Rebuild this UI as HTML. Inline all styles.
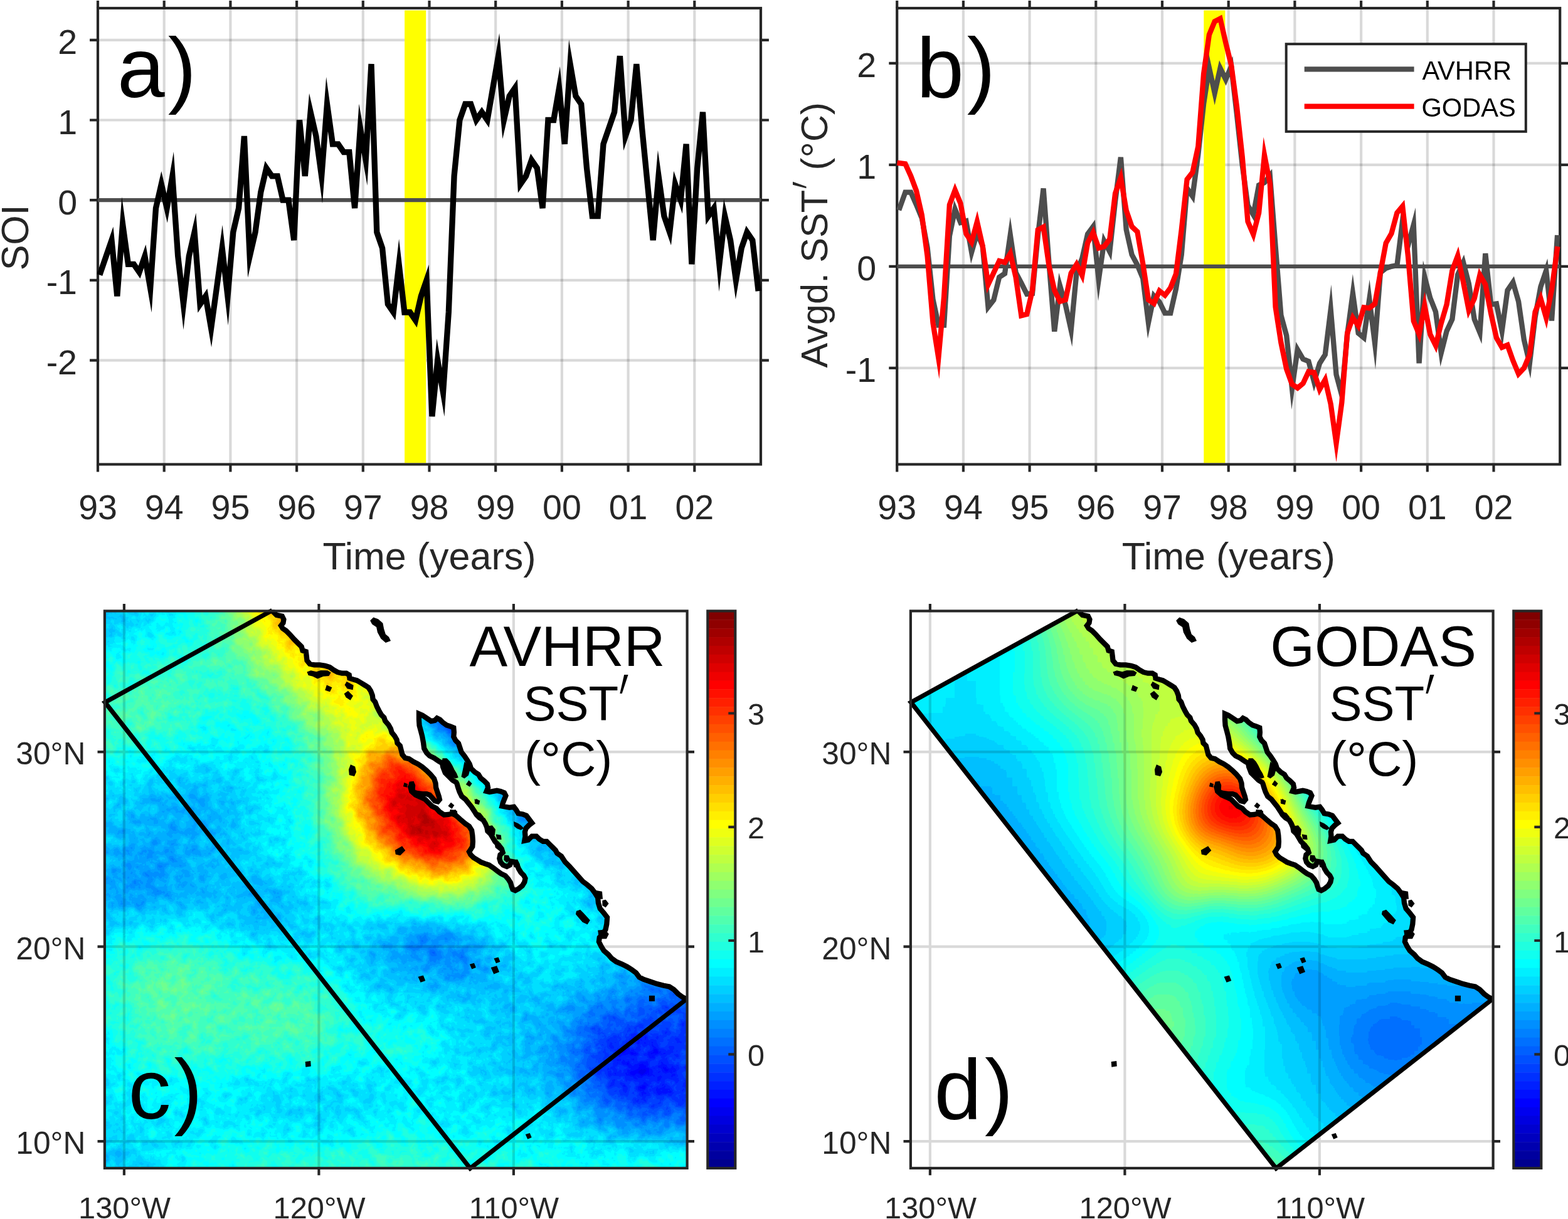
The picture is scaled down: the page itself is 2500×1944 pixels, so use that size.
<!DOCTYPE html>
<html lang="en"><head><meta charset="utf-8"><title>Figure</title>
<style>
html,body{margin:0;padding:0;background:#fff;}
svg{display:block;}
text{font-family:'Liberation Sans', Arial, Helvetica, sans-serif;fill:#262626;}
.t54{font-size:55.5px;}
.t60{font-size:61px;}
.t48{font-size:49.7px;}
.t45{font-size:48.5px;}
.big{font-size:136px;fill:#000;}
.ttl{font-size:91px;fill:#000;}
.ttl2{font-size:78px;fill:#000;}
.leg{font-size:41.67px;fill:#000;}
.prime{font-family:'DejaVu Math TeX Gyre','DejaVu Serif','Liberation Serif',serif;fill:#000;}
.grid{stroke:#000;stroke-opacity:0.15;stroke-width:4.17;}
</style></head><body>
<svg xmlns="http://www.w3.org/2000/svg" width="2500" height="1944" viewBox="0 0 2500 1944">
<rect width="2500" height="1944" fill="#fff"/>
<g id="panel-a">
<line x1="261.7" y1="13.0" x2="261.7" y2="740.5" class="grid"/>
<line x1="367.4" y1="13.0" x2="367.4" y2="740.5" class="grid"/>
<line x1="473.1" y1="13.0" x2="473.1" y2="740.5" class="grid"/>
<line x1="578.8" y1="13.0" x2="578.8" y2="740.5" class="grid"/>
<line x1="684.5" y1="13.0" x2="684.5" y2="740.5" class="grid"/>
<line x1="790.2" y1="13.0" x2="790.2" y2="740.5" class="grid"/>
<line x1="895.9" y1="13.0" x2="895.9" y2="740.5" class="grid"/>
<line x1="1001.6" y1="13.0" x2="1001.6" y2="740.5" class="grid"/>
<line x1="1107.3" y1="13.0" x2="1107.3" y2="740.5" class="grid"/>
<line x1="156.0" y1="63.8" x2="1213.0" y2="63.8" class="grid"/>
<line x1="156.0" y1="191.5" x2="1213.0" y2="191.5" class="grid"/>
<line x1="156.0" y1="446.9" x2="1213.0" y2="446.9" class="grid"/>
<line x1="156.0" y1="574.6" x2="1213.0" y2="574.6" class="grid"/>
<rect x="645.1" y="16.5" width="34.1" height="721.9" fill="#ffff00"/>
<rect x="156.0" y="13.0" width="1057.0" height="727.5" fill="none" stroke="#262626" stroke-width="4.17"/>
<path d="M156.0 13.0v-12.0M156.0 740.5v12.0M261.7 13.0v-12.0M261.7 740.5v12.0M367.4 13.0v-12.0M367.4 740.5v12.0M473.1 13.0v-12.0M473.1 740.5v12.0M578.8 13.0v-12.0M578.8 740.5v12.0M684.5 13.0v-12.0M684.5 740.5v12.0M790.2 13.0v-12.0M790.2 740.5v12.0M895.9 13.0v-12.0M895.9 740.5v12.0M1001.6 13.0v-12.0M1001.6 740.5v12.0M1107.3 13.0v-12.0M1107.3 740.5v12.0M156.0 63.8h-12.9M1213.0 63.8h12.9M156.0 191.5h-12.9M1213.0 191.5h12.9M156.0 319.2h-12.9M1213.0 319.2h12.9M156.0 446.9h-12.9M1213.0 446.9h12.9M156.0 574.6h-12.9M1213.0 574.6h12.9" stroke="#262626" stroke-width="4.17" fill="none"/>
<line x1="156.0" y1="319.2" x2="1213.0" y2="319.2" stroke="#4d4d4d" stroke-width="6.25"/>
<polyline points="160.4,434.1 169.2,408.6 178.0,383.1 186.8,472.4 195.6,357.5 204.4,421.4 213.3,421.4 222.1,434.1 230.9,408.6 239.7,459.7 248.5,332.0 257.3,293.7 266.1,332.0 274.9,280.9 283.7,408.6 292.5,485.2 301.3,408.6 310.1,370.3 319.0,485.2 327.8,472.4 336.6,523.5 345.4,459.7 354.2,395.8 363.0,472.4 371.8,370.3 380.6,332.0 389.4,217.0 398.2,408.6 407.0,370.3 415.8,306.4 424.7,268.1 433.5,280.9 442.3,280.9 451.1,319.2 459.9,319.2 468.7,383.1 477.5,191.5 486.3,280.9 495.1,178.7 503.9,217.0 512.7,280.9 521.5,166.0 530.4,229.8 539.2,229.8 548.0,242.6 556.8,242.6 565.6,332.0 574.4,204.3 583.2,255.3 592.0,102.1 600.8,370.3 609.6,395.8 618.4,485.2 627.2,498.0 636.1,421.4 644.9,498.0 653.7,498.0 662.5,510.8 671.3,472.4 680.1,446.9 688.9,664.0 697.7,574.6 706.5,625.7 715.3,498.0 724.1,280.9 732.9,191.5 741.8,166.0 750.6,166.0 759.4,191.5 768.2,178.7 777.0,191.5 785.8,140.4 794.6,89.3 803.4,191.5 812.2,153.2 821.0,140.4 829.8,293.7 838.6,280.9 847.5,255.3 856.3,268.1 865.1,332.0 873.9,191.5 882.7,191.5 891.5,140.4 900.3,229.8 909.1,102.1 917.9,153.2 926.7,166.0 935.5,268.1 944.3,344.7 953.2,344.7 962.0,229.8 970.8,204.3 979.6,178.7 988.4,89.3 997.2,217.0 1006.0,191.5 1014.8,102.1 1023.6,204.3 1032.4,293.7 1041.2,383.1 1050.0,280.9 1058.9,344.7 1067.7,370.3 1076.5,293.7 1085.3,319.2 1094.1,229.8 1102.9,421.4 1111.7,268.1 1120.5,178.7 1129.3,344.7 1138.1,332.0 1146.9,421.4 1155.7,344.7 1164.6,383.1 1173.4,446.9 1182.2,395.8 1191.0,370.3 1199.8,383.1 1208.6,459.7" fill="none" stroke="#000" stroke-width="9.3" stroke-linejoin="miter" stroke-miterlimit="10" stroke-linecap="square"/>
<text x="156.0" y="828.3" class="t54" text-anchor="middle">93</text>
<text x="261.7" y="828.3" class="t54" text-anchor="middle">94</text>
<text x="367.4" y="828.3" class="t54" text-anchor="middle">95</text>
<text x="473.1" y="828.3" class="t54" text-anchor="middle">96</text>
<text x="578.8" y="828.3" class="t54" text-anchor="middle">97</text>
<text x="684.5" y="828.3" class="t54" text-anchor="middle">98</text>
<text x="790.2" y="828.3" class="t54" text-anchor="middle">99</text>
<text x="895.9" y="828.3" class="t54" text-anchor="middle">00</text>
<text x="1001.6" y="828.3" class="t54" text-anchor="middle">01</text>
<text x="1107.3" y="828.3" class="t54" text-anchor="middle">02</text>
<text x="123.0" y="86.1" class="t54" text-anchor="end">2</text>
<text x="123.0" y="213.8" class="t54" text-anchor="end">1</text>
<text x="123.0" y="341.5" class="t54" text-anchor="end">0</text>
<text x="123.0" y="469.2" class="t54" text-anchor="end">-1</text>
<text x="123.0" y="596.9" class="t54" text-anchor="end">-2</text>
<text x="684.5" y="908.2" class="t60" text-anchor="middle">Time (years)</text>
<text transform="translate(45.0,378.8) rotate(-90)" class="t60" text-anchor="middle">SOI</text>
<text x="187.0" y="154.5" class="big">a<tspan dx="5">)</tspan></text>
</g>
<g id="panel-b">
<line x1="1535.9" y1="13.0" x2="1535.9" y2="740.5" class="grid"/>
<line x1="1641.6" y1="13.0" x2="1641.6" y2="740.5" class="grid"/>
<line x1="1747.3" y1="13.0" x2="1747.3" y2="740.5" class="grid"/>
<line x1="1853.0" y1="13.0" x2="1853.0" y2="740.5" class="grid"/>
<line x1="1958.7" y1="13.0" x2="1958.7" y2="740.5" class="grid"/>
<line x1="2064.4" y1="13.0" x2="2064.4" y2="740.5" class="grid"/>
<line x1="2170.1" y1="13.0" x2="2170.1" y2="740.5" class="grid"/>
<line x1="2275.8" y1="13.0" x2="2275.8" y2="740.5" class="grid"/>
<line x1="2381.5" y1="13.0" x2="2381.5" y2="740.5" class="grid"/>
<line x1="1430.2" y1="100.9" x2="2487.2" y2="100.9" class="grid"/>
<line x1="1430.2" y1="262.9" x2="2487.2" y2="262.9" class="grid"/>
<line x1="1430.2" y1="586.9" x2="2487.2" y2="586.9" class="grid"/>
<rect x="1919.3" y="16.5" width="34.1" height="721.9" fill="#ffff00"/>
<rect x="1430.2" y="13.0" width="1056.9999999999998" height="727.5" fill="none" stroke="#262626" stroke-width="4.17"/>
<path d="M1430.2 13.0v-12.0M1430.2 740.5v12.0M1535.9 13.0v-12.0M1535.9 740.5v12.0M1641.6 13.0v-12.0M1641.6 740.5v12.0M1747.3 13.0v-12.0M1747.3 740.5v12.0M1853.0 13.0v-12.0M1853.0 740.5v12.0M1958.7 13.0v-12.0M1958.7 740.5v12.0M2064.4 13.0v-12.0M2064.4 740.5v12.0M2170.1 13.0v-12.0M2170.1 740.5v12.0M2275.8 13.0v-12.0M2275.8 740.5v12.0M2381.5 13.0v-12.0M2381.5 740.5v12.0M1430.2 100.9h-12.9M2487.2 100.9h12.9M1430.2 262.9h-12.9M2487.2 262.9h12.9M1430.2 424.9h-12.9M2487.2 424.9h12.9M1430.2 586.9h-12.9M2487.2 586.9h12.9" stroke="#262626" stroke-width="4.17" fill="none"/>
<line x1="1430.2" y1="424.9" x2="2487.2" y2="424.9" stroke="#4d4d4d" stroke-width="6.25"/>
<polyline points="1434.6,331.3 1443.4,306.6 1452.2,306.6 1461.0,326.6 1469.8,347.8 1478.6,394.9 1487.5,477.4 1496.3,518.5 1505.1,518.5 1513.9,376.3 1522.7,333.7 1531.5,354.9 1540.3,352.5 1549.1,402.2 1557.9,371.4 1566.7,392.5 1575.5,489.7 1584.3,478.4 1593.2,442.1 1602.0,436.2 1610.8,374.7 1619.6,434.6 1628.4,451.5 1637.2,469.1 1646.0,468.0 1654.8,376.3 1663.6,300.6 1672.4,418.4 1681.2,528.6 1690.0,455.7 1698.9,486.5 1707.7,526.3 1716.5,434.6 1725.3,412.1 1734.1,373.2 1742.9,361.4 1751.7,446.0 1760.5,384.4 1769.3,401.4 1778.1,321.2 1786.9,250.7 1795.7,366.1 1804.6,406.1 1813.4,422.6 1822.2,443.9 1831.0,514.5 1839.8,471.9 1848.6,481.6 1857.4,499.3 1866.2,499.3 1875.0,460.4 1883.8,406.1 1892.6,300.2 1901.4,313.1 1910.3,246.7 1919.1,165.7 1927.9,108.2 1936.7,148.4 1945.5,108.8 1954.3,126.7 1963.1,105.8 1971.9,181.9 1980.7,262.9 1989.5,327.7 1998.3,342.6 2007.1,295.3 2016.0,291.1 2024.8,280.2 2033.6,392.5 2042.4,502.7 2051.2,535.1 2060.0,619.3 2068.8,557.7 2077.6,572.6 2086.4,576.2 2095.2,609.1 2104.0,579.6 2112.8,565.5 2121.7,493.8 2130.5,597.4 2139.3,630.3 2148.1,533.4 2156.9,467.8 2165.7,531.3 2174.5,538.5 2183.3,477.2 2192.1,547.9 2200.9,434.6 2209.7,427.8 2218.5,424.9 2227.4,423.3 2236.2,352.0 2245.0,391.4 2253.8,358.5 2262.6,579.3 2271.4,441.3 2280.2,475.0 2289.0,497.3 2297.8,562.8 2306.6,527.9 2315.4,509.1 2324.2,437.9 2333.1,418.4 2341.9,452.6 2350.7,509.1 2359.5,530.4 2368.3,404.3 2377.1,485.6 2385.9,484.4 2394.7,527.9 2403.5,463.1 2412.3,450.2 2421.1,480.8 2429.9,542.0 2438.8,579.8 2447.6,505.9 2456.4,457.3 2465.2,431.4 2474.0,511.4 2482.8,379.1" fill="none" stroke="#4d4d4d" stroke-width="8.33" stroke-linejoin="miter" stroke-miterlimit="10" stroke-linecap="square"/>
<polyline points="1434.6,260.1 1443.4,261.3 1452.2,280.7 1461.0,304.2 1469.8,343.1 1478.6,408.7 1487.5,515.1 1496.3,570.7 1505.1,473.5 1513.9,326.6 1522.7,303.1 1531.5,324.5 1540.3,372.6 1549.1,386.0 1557.9,353.6 1566.7,392.5 1575.5,453.7 1584.3,434.9 1593.2,416.2 1602.0,418.4 1610.8,404.3 1619.6,442.1 1628.4,503.3 1637.2,501.0 1646.0,463.1 1654.8,366.6 1663.6,361.9 1672.4,423.3 1681.2,463.1 1690.0,480.8 1698.9,478.0 1707.7,435.6 1716.5,421.5 1725.3,439.2 1734.1,387.3 1742.9,370.8 1751.7,395.6 1760.5,393.1 1769.3,381.5 1778.1,308.4 1786.9,283.6 1795.7,335.5 1804.6,361.4 1813.4,369.7 1822.2,420.4 1831.0,478.0 1839.8,483.9 1848.6,463.8 1857.4,470.9 1866.2,459.1 1875.0,436.7 1883.8,366.1 1892.6,286.1 1901.4,274.9 1910.3,233.7 1919.1,117.7 1927.9,55.4 1936.7,34.2 1945.5,29.6 1954.3,68.3 1963.1,103.7 1971.9,169.6 1980.7,249.8 1989.5,353.3 1998.3,373.9 2007.1,339.5 2016.0,247.5 2024.8,292.9 2033.6,489.7 2042.4,546.4 2051.2,588.5 2060.0,612.8 2068.8,618.8 2077.6,611.5 2086.4,592.6 2095.2,593.9 2104.0,620.9 2112.8,605.5 2121.7,644.4 2130.5,706.9 2139.3,642.1 2148.1,531.3 2156.9,506.7 2165.7,519.7 2174.5,490.2 2183.3,491.3 2192.1,484.4 2200.9,434.8 2209.7,387.6 2218.5,372.4 2227.4,339.5 2236.2,329.0 2245.0,408.7 2253.8,511.9 2262.6,533.1 2271.4,487.3 2280.2,533.1 2289.0,550.9 2297.8,515.6 2306.6,485.5 2315.4,431.4 2324.2,407.9 2333.1,450.2 2341.9,495.0 2350.7,476.1 2359.5,438.5 2368.3,453.7 2377.1,499.7 2385.9,538.6 2394.7,553.9 2403.5,550.3 2412.3,575.1 2421.1,596.3 2429.9,586.9 2438.8,565.7 2447.6,497.3 2456.4,476.1 2465.2,506.7 2474.0,462.0 2482.8,397.2" fill="none" stroke="#ff0000" stroke-width="8.33" stroke-linejoin="miter" stroke-miterlimit="10" stroke-linecap="square"/>
<g><rect x="2050.7" y="70.2" width="382.1" height="139.6" fill="#fff" stroke="#262626" stroke-width="4"/><line x1="2079.7" y1="110.3" x2="2254.6" y2="110.3" stroke="#4d4d4d" stroke-width="8.33"/><line x1="2079.7" y1="169.6" x2="2254.6" y2="169.6" stroke="#ff0000" stroke-width="8.33"/><text x="2267.4" y="127.1" class="leg">AVHRR</text><text x="2266.4" y="185.9" class="leg">GODAS</text></g>
<text x="1430.2" y="828.3" class="t54" text-anchor="middle">93</text>
<text x="1535.9" y="828.3" class="t54" text-anchor="middle">94</text>
<text x="1641.6" y="828.3" class="t54" text-anchor="middle">95</text>
<text x="1747.3" y="828.3" class="t54" text-anchor="middle">96</text>
<text x="1853.0" y="828.3" class="t54" text-anchor="middle">97</text>
<text x="1958.7" y="828.3" class="t54" text-anchor="middle">98</text>
<text x="2064.4" y="828.3" class="t54" text-anchor="middle">99</text>
<text x="2170.1" y="828.3" class="t54" text-anchor="middle">00</text>
<text x="2275.8" y="828.3" class="t54" text-anchor="middle">01</text>
<text x="2381.5" y="828.3" class="t54" text-anchor="middle">02</text>
<text x="1397.2" y="123.2" class="t54" text-anchor="end">2</text>
<text x="1397.2" y="285.2" class="t54" text-anchor="end">1</text>
<text x="1397.2" y="447.2" class="t54" text-anchor="end">0</text>
<text x="1397.2" y="609.2" class="t54" text-anchor="end">-1</text>
<text x="1958.7" y="908.2" class="t60" text-anchor="middle">Time (years)</text>
<text transform="translate(1319,586.6) rotate(-90)" font-size="59.6">Avgd. SST</text><text transform="translate(1334.1,303.7) rotate(-90) scale(0.62,1)" class="prime" font-size="93" style="fill:#262626">′</text><text transform="translate(1319,271.4) rotate(-90)" font-size="59.6">(<tspan font-size="64" dy="4.2">°</tspan><tspan dy="-4.2">C)</tspan></text>
<text x="1461.2" y="154.5" class="big">b<tspan dx="5">)</tspan></text>
</g>
<g id="panel-c">
<defs><clipPath id="clipc"><rect x="166.9" y="974.4" width="928.7" height="888.5"/></clipPath></defs>
<defs><clipPath id="axc"><rect x="164.9" y="972.4" width="932.7" height="892.5"/></clipPath></defs>
<defs><filter id="jetc" filterUnits="userSpaceOnUse" x="96.9" y="904.4" width="1078" height="1036" color-interpolation-filters="sRGB"><feGaussianBlur in="SourceGraphic" stdDeviation="16" result="b"/><feTurbulence type="fractalNoise" baseFrequency="0.06" numOctaves="3" seed="7" result="t"/><feColorMatrix in="t" type="matrix" values="1 0 0 0 0 1 0 0 0 0 1 0 0 0 0 0 0 0 0 1" result="n"/><feComposite in="b" in2="n" operator="arithmetic" k1="0" k2="1" k3="0.1" k4="-0.0500" result="c"/><feComponentTransfer in="c"><feFuncR type="discrete" tableValues="0.000 0.000 0.000 0.000 0.000 0.000 0.000 0.000 0.000 0.000 0.000 0.000 0.000 0.000 0.000 0.000 0.000 0.000 0.000 0.000 0.000 0.000 0.000 0.000 0.062 0.125 0.188 0.250 0.312 0.375 0.438 0.500 0.562 0.625 0.688 0.750 0.812 0.875 0.938 1.000 1.000 1.000 1.000 1.000 1.000 1.000 1.000 1.000 1.000 1.000 1.000 1.000 1.000 1.000 1.000 1.000 0.938 0.875 0.812 0.750 0.688 0.625 0.562 0.500"/><feFuncG type="discrete" tableValues="0.000 0.000 0.000 0.000 0.000 0.000 0.000 0.000 0.062 0.125 0.188 0.250 0.312 0.375 0.438 0.500 0.562 0.625 0.688 0.750 0.812 0.875 0.938 1.000 1.000 1.000 1.000 1.000 1.000 1.000 1.000 1.000 1.000 1.000 1.000 1.000 1.000 1.000 1.000 1.000 0.938 0.875 0.812 0.750 0.688 0.625 0.562 0.500 0.438 0.375 0.312 0.250 0.188 0.125 0.062 0.000 0.000 0.000 0.000 0.000 0.000 0.000 0.000 0.000"/><feFuncB type="discrete" tableValues="0.562 0.625 0.688 0.750 0.812 0.875 0.938 1.000 1.000 1.000 1.000 1.000 1.000 1.000 1.000 1.000 1.000 1.000 1.000 1.000 1.000 1.000 1.000 1.000 0.938 0.875 0.812 0.750 0.688 0.625 0.562 0.500 0.438 0.375 0.312 0.250 0.188 0.125 0.062 0.000 0.000 0.000 0.000 0.000 0.000 0.000 0.000 0.000 0.000 0.000 0.000 0.000 0.000 0.000 0.000 0.000 0.000 0.000 0.000 0.000 0.000 0.000 0.000 0.000"/></feComponentTransfer></filter></defs>
<g clip-path="url(#clipc)"><g filter="url(#jetc)"><g transform="translate(96.9,904.4) scale(14)" shape-rendering="crispEdges">
<path fill="#040404" d="M52 17h1v1h-1z"/>
<path fill="#050505" d="M51 17h1v1h-1zM53 17h1v1h-1zM51 18h3v1h-3z"/>
<path fill="#060606" d="M51 16h3v1h-3zM50 17h1v1h-1zM54 17h1v1h-1zM54 18h1v1h-1zM52 19h2v1h-2z"/>
<path fill="#070707" d="M50 16h1v1h-1zM54 16h1v1h-1zM55 17h1v1h-1zM50 18h1v1h-1zM51 19h1v1h-1zM54 19h1v1h-1z"/>
<path fill="#080808" d="M51 15h4v1h-4zM49 16h1v1h-1zM55 16h1v1h-1zM49 17h1v1h-1zM55 18h1v1h-1zM53 20h1v1h-1z"/>
<path fill="#090909" d="M50 15h1v1h-1zM55 15h1v1h-1zM56 16h1v1h-1zM56 17h1v1h-1zM56 18h1v1h-1zM55 19h1v1h-1zM52 20h1v1h-1zM54 20h1v1h-1z"/>
<path fill="#0a0a0a" d="M52 14h3v1h-3zM56 15h1v1h-1zM57 16h1v1h-1zM57 17h1v1h-1zM49 18h1v1h-1zM50 19h1v1h-1zM56 19h1v1h-1zM55 20h1v1h-1z"/>
<path fill="#0b0b0b" d="M51 14h1v1h-1zM55 14h2v1h-2zM49 15h1v1h-1zM57 15h1v1h-1zM48 16h1v1h-1zM57 18h1v1h-1zM51 20h1v1h-1z"/>
<path fill="#0c0c0c" d="M50 14h1v1h-1zM57 14h1v1h-1zM58 15h1v1h-1zM58 16h1v1h-1zM48 17h1v1h-1zM58 17h1v1h-1zM57 19h1v1h-1zM56 20h1v1h-1zM53 21h2v1h-2z"/>
<path fill="#0d0d0d" d="M53 13h4v1h-4zM58 14h1v1h-1zM48 15h1v1h-1zM59 15h1v1h-1zM59 16h1v1h-1zM58 18h1v1h-1zM52 21h1v1h-1zM55 21h1v1h-1z"/>
<path fill="#0e0e0e" d="M52 13h1v1h-1zM57 13h2v1h-2zM49 14h1v1h-1zM59 14h1v1h-1zM59 17h1v1h-1zM59 18h1v1h-1zM49 19h1v1h-1zM58 19h1v1h-1zM57 20h1v1h-1z"/>
<path fill="#0f0f0f" d="M51 13h1v1h-1zM59 13h1v1h-1zM60 14h1v1h-1zM60 15h1v1h-1zM47 16h1v1h-1zM60 16h1v1h-1zM60 17h1v1h-1zM48 18h1v1h-1zM50 20h1v1h-1zM56 21h1v1h-1z"/>
<path fill="#101010" d="M54 12h6v1h-6zM60 13h1v1h-1zM61 14h1v1h-1zM61 15h1v1h-1zM61 16h1v1h-1zM61 17h1v1h-1zM60 18h1v1h-1zM59 19h1v1h-1zM58 20h1v1h-1zM51 21h1v1h-1zM53 22h2v1h-2z"/>
<path fill="#111111" d="M53 12h1v1h-1zM60 12h1v1h-1zM50 13h1v1h-1zM61 13h2v1h-2zM48 14h1v1h-1zM62 14h1v1h-1zM47 15h1v1h-1zM62 15h1v1h-1zM62 16h1v1h-1zM47 17h1v1h-1zM61 18h1v1h-1zM60 19h1v1h-1zM57 21h1v1h-1zM55 22h1v1h-1z"/>
<path fill="#121212" d="M56 11h4v1h-4zM52 12h1v1h-1zM61 12h2v1h-2zM63 13h1v1h-1zM63 14h1v1h-1zM63 15h1v1h-1zM63 16h1v1h-1zM62 17h1v1h-1zM59 20h1v1h-1zM56 22h1v1h-1z"/>
<path fill="#131313" d="M54 11h2v1h-2zM60 11h3v1h-3zM51 12h1v1h-1zM63 12h2v1h-2zM49 13h1v1h-1zM64 13h1v1h-1zM64 14h1v1h-1zM64 15h1v1h-1zM64 16h1v1h-1zM63 17h1v1h-1zM62 18h1v1h-1zM61 19h1v1h-1zM60 20h1v1h-1zM58 21h1v1h-1zM52 22h1v1h-1z"/>
<path fill="#141414" d="M58 10h4v1h-4zM53 11h1v1h-1zM63 11h2v1h-2zM65 12h1v1h-1zM65 13h2v1h-2zM65 14h2v1h-2zM65 15h1v1h-1zM65 16h1v1h-1zM64 17h1v1h-1zM63 18h1v1h-1zM62 19h1v1h-1zM59 21h1v1h-1zM57 22h1v1h-1z"/>
<path fill="#151515" d="M56 10h2v1h-2zM62 10h3v1h-3zM65 11h2v1h-2zM50 12h1v1h-1zM66 12h2v1h-2zM67 13h1v1h-1zM47 14h1v1h-1zM67 14h1v1h-1zM66 15h2v1h-2zM46 16h1v1h-1zM66 16h1v1h-1zM65 17h1v1h-1zM47 18h1v1h-1zM64 18h1v1h-1zM48 19h1v1h-1zM49 20h1v1h-1zM61 20h1v1h-1zM54 23h2v1h-2z"/>
<path fill="#161616" d="M60 9h4v1h-4zM55 10h1v1h-1zM65 10h3v1h-3zM52 11h1v1h-1zM67 11h2v1h-2zM68 12h2v1h-2zM48 13h1v1h-1zM68 13h2v1h-2zM68 14h2v1h-2zM46 15h1v1h-1zM68 15h1v1h-1zM67 16h1v1h-1zM66 17h1v1h-1zM65 18h1v1h-1zM63 19h1v1h-1zM62 20h1v1h-1zM50 21h1v1h-1zM60 21h1v1h-1zM58 22h1v1h-1zM53 23h1v1h-1zM56 23h1v1h-1z"/>
<path fill="#171717" d="M58 9h2v1h-2zM64 9h4v1h-4zM54 10h1v1h-1zM68 10h2v1h-2zM69 11h2v1h-2zM70 12h2v1h-2zM70 13h2v1h-2zM70 14h1v1h-1zM69 15h2v1h-2zM68 16h2v1h-2zM46 17h1v1h-1zM67 17h1v1h-1zM66 18h1v1h-1zM64 19h1v1h-1zM63 20h1v1h-1zM61 21h1v1h-1zM51 22h1v1h-1zM59 22h1v1h-1z"/>
<path fill="#181818" d="M61 8h7v1h-7zM56 9h2v1h-2zM68 9h4v1h-4zM53 10h1v1h-1zM70 10h3v1h-3zM51 11h1v1h-1zM71 11h3v1h-3zM49 12h1v1h-1zM72 12h2v1h-2zM72 13h2v1h-2zM71 14h2v1h-2zM71 15h1v1h-1zM70 16h1v1h-1zM68 17h2v1h-2zM67 18h1v1h-1zM65 19h1v1h-1zM57 23h1v1h-1z"/>
<path fill="#191919" d="M59 8h2v1h-2zM68 8h5v1h-5zM72 9h3v1h-3zM73 10h3v1h-3zM74 11h3v1h-3zM74 12h3v1h-3zM74 13h2v1h-2zM73 14h3v1h-3zM72 15h2v1h-2zM71 16h2v1h-2zM70 17h2v1h-2zM68 18h2v1h-2zM66 19h2v1h-2zM64 20h2v1h-2zM62 21h1v1h-1zM60 22h1v1h-1zM58 23h1v1h-1z"/>
<path fill="#1a1a1a" d="M62 7h14v1h-14zM58 8h1v1h-1zM73 8h4v1h-4zM55 9h1v1h-1zM75 9h2v1h-2zM52 10h1v1h-1zM76 10h1v1h-1zM50 11h1v1h-1zM47 13h1v1h-1zM76 13h1v1h-1zM46 14h1v1h-1zM76 14h1v1h-1zM74 15h3v1h-3zM73 16h3v1h-3zM72 17h2v1h-2zM70 18h1v1h-1zM68 19h1v1h-1zM66 20h1v1h-1zM63 21h1v1h-1zM61 22h1v1h-1zM52 23h1v1h-1zM55 24h1v1h-1z"/>
<path fill="#1b1b1b" d="M65 6h12v1h-12zM60 7h2v1h-2zM76 7h1v1h-1zM57 8h1v1h-1zM54 9h1v1h-1zM48 12h1v1h-1zM45 16h1v1h-1zM76 16h1v1h-1zM74 17h2v1h-2zM71 18h3v1h-3zM69 19h2v1h-2zM67 20h1v1h-1zM64 21h1v1h-1zM62 22h1v1h-1zM59 23h1v1h-1zM54 24h1v1h-1zM56 24h1v1h-1z"/>
<path fill="#1c1c1c" d="M68 5h9v1h-9zM63 6h2v1h-2zM59 7h1v1h-1zM56 8h1v1h-1zM45 15h1v1h-1zM76 17h1v1h-1zM74 18h3v1h-3zM71 19h2v1h-2zM68 20h2v1h-2zM65 21h2v1h-2zM63 22h1v1h-1zM60 23h1v1h-1zM57 24h1v1h-1z"/>
<path fill="#1d1d1d" d="M70 4h7v1h-7zM65 5h3v1h-3zM61 6h2v1h-2zM58 7h1v1h-1zM55 8h1v1h-1zM53 9h1v1h-1zM51 10h1v1h-1zM49 11h1v1h-1zM46 18h1v1h-1zM47 19h1v1h-1zM73 19h4v1h-4zM70 20h3v1h-3zM67 21h2v1h-2zM64 22h1v1h-1zM61 23h1v1h-1zM53 24h1v1h-1z"/>
<path fill="#1e1e1e" d="M72 3h5v1h-5zM67 4h3v1h-3zM63 5h2v1h-2zM60 6h1v1h-1zM57 7h1v1h-1zM45 17h1v1h-1zM48 20h1v1h-1zM73 20h4v1h-4zM49 21h1v1h-1zM69 21h2v1h-2zM65 22h1v1h-1zM62 23h1v1h-1zM58 24h1v1h-1z"/>
<path fill="#1f1f1f" d="M73 2h4v1h-4zM69 3h3v1h-3zM65 4h2v1h-2zM62 5h1v1h-1zM59 6h1v1h-1zM56 7h1v1h-1zM54 8h1v1h-1zM52 9h1v1h-1zM50 10h1v1h-1zM46 13h1v1h-1zM71 21h5v1h-5zM50 22h1v1h-1zM66 22h2v1h-2zM63 23h1v1h-1zM59 24h1v1h-1z"/>
<path fill="#202020" d="M74 1h3v1h-3zM70 2h3v1h-3zM67 3h2v1h-2zM64 4h1v1h-1zM61 5h1v1h-1zM58 6h1v1h-1zM47 12h1v1h-1zM45 14h1v1h-1zM76 21h1v1h-1zM68 22h4v1h-4zM51 23h1v1h-1zM64 23h1v1h-1zM60 24h1v1h-1zM55 25h2v1h-2zM65 57h1v1h-1z"/>
<path fill="#212121" d="M75 0h2v1h-2zM71 1h3v1h-3zM68 2h2v1h-2zM65 3h2v1h-2zM62 4h2v1h-2zM60 5h1v1h-1zM57 6h1v1h-1zM55 7h1v1h-1zM53 8h1v1h-1zM48 11h1v1h-1zM72 22h5v1h-5zM65 23h3v1h-3zM61 24h1v1h-1zM54 25h1v1h-1zM57 25h1v1h-1zM65 56h2v1h-2zM66 57h1v1h-1zM65 58h2v1h-2z"/>
<path fill="#222222" d="M72 0h3v1h-3zM69 1h2v1h-2zM67 2h1v1h-1zM64 3h1v1h-1zM61 4h1v1h-1zM59 5h1v1h-1zM51 9h1v1h-1zM68 23h9v1h-9zM52 24h1v1h-1zM62 24h2v1h-2zM58 25h1v1h-1zM64 56h1v1h-1zM64 57h1v1h-1zM67 57h1v1h-1zM67 58h1v1h-1z"/>
<path fill="#232323" d="M71 0h1v1h-1zM68 1h1v1h-1zM65 2h2v1h-2zM63 3h1v1h-1zM58 5h1v1h-1zM56 6h1v1h-1zM54 7h1v1h-1zM49 10h1v1h-1zM44 16h1v1h-1zM64 24h2v1h-2zM59 25h1v1h-1zM65 55h2v1h-2zM67 56h1v1h-1zM64 58h1v1h-1z"/>
<path fill="#242424" d="M69 0h2v1h-2zM67 1h1v1h-1zM64 2h1v1h-1zM62 3h1v1h-1zM60 4h1v1h-1zM52 8h1v1h-1zM44 15h1v1h-1zM66 24h11v1h-11zM53 25h1v1h-1zM60 25h1v1h-1zM64 55h1v1h-1zM63 56h1v1h-1zM63 57h1v1h-1zM68 57h1v1h-1zM68 58h1v1h-1zM65 59h3v1h-3z"/>
<path fill="#252525" d="M68 0h1v1h-1zM66 1h1v1h-1zM63 2h1v1h-1zM61 3h1v1h-1zM59 4h1v1h-1zM57 5h1v1h-1zM55 6h1v1h-1zM53 7h1v1h-1zM50 9h1v1h-1zM46 12h1v1h-1zM45 13h1v1h-1zM45 18h1v1h-1zM61 25h2v1h-2zM75 25h2v1h-2zM63 55h1v1h-1zM67 55h1v1h-1zM68 56h1v1h-1zM69 58h1v1h-1zM68 59h1v1h-1z"/>
<path fill="#262626" d="M67 0h1v1h-1zM65 1h1v1h-1zM62 2h1v1h-1zM60 3h1v1h-1zM58 4h1v1h-1zM47 11h1v1h-1zM44 17h1v1h-1zM46 19h1v1h-1zM63 25h3v1h-3zM70 25h5v1h-5zM55 26h2v1h-2zM64 54h3v1h-3zM69 57h1v1h-1zM63 58h1v1h-1zM64 59h1v1h-1zM69 59h1v1h-1z"/>
<path fill="#272727" d="M66 0h1v1h-1zM64 1h1v1h-1zM56 5h1v1h-1zM54 6h1v1h-1zM51 8h1v1h-1zM48 10h1v1h-1zM44 14h1v1h-1zM66 25h4v1h-4zM57 26h2v1h-2zM74 26h3v1h-3zM67 54h1v1h-1zM68 55h1v1h-1zM62 56h1v1h-1zM70 58h1v1h-1z"/>
<path fill="#282828" d="M65 0h1v1h-1zM63 1h1v1h-1zM61 2h1v1h-1zM59 3h1v1h-1zM57 4h1v1h-1zM52 7h1v1h-1zM47 20h1v1h-1zM48 21h1v1h-1zM54 26h1v1h-1zM59 26h1v1h-1zM71 26h3v1h-3zM76 27h1v1h-1zM63 54h1v1h-1zM68 54h1v1h-1zM62 55h1v1h-1zM69 55h1v1h-1zM69 56h1v1h-1zM62 57h1v1h-1zM70 57h1v1h-1zM70 59h1v1h-1zM66 60h3v1h-3z"/>
<path fill="#292929" d="M64 0h1v1h-1zM62 1h1v1h-1zM60 2h1v1h-1zM55 5h1v1h-1zM49 9h1v1h-1zM49 22h1v1h-1zM50 23h1v1h-1zM51 24h1v1h-1zM60 26h3v1h-3zM67 26h4v1h-4zM74 27h2v1h-2zM65 53h3v1h-3zM69 54h1v1h-1zM70 55h1v1h-1zM70 56h1v1h-1zM71 57h1v1h-1zM71 58h1v1h-1zM63 59h1v1h-1zM69 60h1v1h-1z"/>
<path fill="#2a2a2a" d="M63 0h1v1h-1zM58 3h1v1h-1zM56 4h1v1h-1zM53 6h1v1h-1zM50 8h1v1h-1zM52 25h1v1h-1zM63 26h4v1h-4zM72 27h2v1h-2zM75 28h2v1h-2zM64 53h1v1h-1zM68 53h2v1h-2zM62 54h1v1h-1zM70 54h1v1h-1zM71 55h1v1h-1zM71 56h1v1h-1zM72 57h1v1h-1zM62 58h1v1h-1zM71 59h1v1h-1zM65 60h1v1h-1zM70 60h1v1h-1z"/>
<path fill="#2b2b2b" d="M61 1h1v1h-1zM59 2h1v1h-1zM54 5h1v1h-1zM51 7h1v1h-1zM46 11h1v1h-1zM45 12h1v1h-1zM69 27h3v1h-3zM74 28h1v1h-1zM76 29h1v1h-1zM63 53h1v1h-1zM70 53h1v1h-1zM71 54h2v1h-2zM72 55h1v1h-1zM61 56h1v1h-1zM72 56h1v1h-1zM72 58h1v1h-1z"/>
<path fill="#2c2c2c" d="M62 0h1v1h-1zM60 1h1v1h-1zM57 3h1v1h-1zM47 10h1v1h-1zM43 16h1v1h-1zM53 26h1v1h-1zM56 27h2v1h-2zM67 27h2v1h-2zM72 28h2v1h-2zM75 29h1v1h-1zM67 52h4v1h-4zM71 53h2v1h-2zM73 54h1v1h-1zM61 55h1v1h-1zM73 55h1v1h-1zM73 56h1v1h-1zM73 57h1v1h-1zM72 59h1v1h-1zM64 60h1v1h-1z"/>
<path fill="#2d2d2d" d="M61 0h1v1h-1zM58 2h1v1h-1zM55 4h1v1h-1zM52 6h1v1h-1zM48 9h1v1h-1zM44 13h1v1h-1zM43 15h1v1h-1zM44 18h1v1h-1zM55 27h1v1h-1zM58 27h9v1h-9zM70 28h2v1h-2zM73 29h2v1h-2zM76 30h1v1h-1zM65 52h2v1h-2zM71 52h2v1h-2zM62 53h1v1h-1zM73 53h2v1h-2zM61 54h1v1h-1zM74 54h1v1h-1zM74 55h1v1h-1zM74 56h1v1h-1zM61 57h1v1h-1zM73 58h1v1h-1zM71 60h1v1h-1z"/>
<path fill="#2e2e2e" d="M59 1h1v1h-1zM56 3h1v1h-1zM53 5h1v1h-1zM49 8h1v1h-1zM69 28h1v1h-1zM72 29h1v1h-1zM74 30h2v1h-2zM76 31h1v1h-1zM70 51h2v1h-2zM64 52h1v1h-1zM73 52h2v1h-2zM75 53h1v1h-1zM75 54h1v1h-1zM75 55h1v1h-1zM74 57h1v1h-1zM62 59h1v1h-1zM63 60h1v1h-1zM67 61h2v1h-2z"/>
<path fill="#2f2f2f" d="M60 0h1v1h-1zM57 2h1v1h-1zM54 4h1v1h-1zM50 7h1v1h-1zM54 27h1v1h-1zM67 28h2v1h-2zM71 29h1v1h-1zM73 30h1v1h-1zM75 31h1v1h-1zM68 51h2v1h-2zM72 51h4v1h-4zM63 52h1v1h-1zM75 52h2v1h-2zM76 53h1v1h-1zM76 54h1v1h-1zM76 55h1v1h-1zM75 56h1v1h-1zM61 58h1v1h-1zM74 58h1v1h-1zM73 59h1v1h-1zM72 60h1v1h-1zM66 61h1v1h-1zM69 61h1v1h-1z"/>
<path fill="#303030" d="M58 1h1v1h-1zM51 6h1v1h-1zM43 14h1v1h-1zM43 17h1v1h-1zM45 19h1v1h-1zM65 28h2v1h-2zM69 29h2v1h-2zM72 30h1v1h-1zM74 31h1v1h-1zM76 32h1v1h-1zM72 50h5v1h-5zM67 51h1v1h-1zM76 51h1v1h-1zM61 53h1v1h-1zM76 56h1v1h-1zM75 57h1v1h-1zM70 61h1v1h-1z"/>
<path fill="#313131" d="M59 0h1v1h-1zM55 3h1v1h-1zM52 5h1v1h-1zM62 28h3v1h-3zM68 29h1v1h-1zM71 30h1v1h-1zM73 31h1v1h-1zM75 32h1v1h-1zM76 33h1v1h-1zM74 49h3v1h-3zM70 50h2v1h-2zM66 51h1v1h-1zM62 52h1v1h-1zM60 55h1v1h-1zM60 56h1v1h-1zM76 57h1v1h-1zM75 58h1v1h-1zM74 59h1v1h-1zM65 61h1v1h-1z"/>
<path fill="#323232" d="M57 1h1v1h-1zM56 2h1v1h-1zM53 4h1v1h-1zM47 9h1v1h-1zM46 10h1v1h-1zM45 11h1v1h-1zM52 26h1v1h-1zM57 28h5v1h-5zM67 29h1v1h-1zM70 30h1v1h-1zM72 31h1v1h-1zM74 32h1v1h-1zM75 33h1v1h-1zM76 34h1v1h-1zM75 48h2v1h-2zM72 49h2v1h-2zM69 50h1v1h-1zM65 51h1v1h-1zM60 54h1v1h-1zM60 57h1v1h-1zM73 60h1v1h-1zM71 61h1v1h-1z"/>
<path fill="#333333" d="M58 0h1v1h-1zM54 3h1v1h-1zM48 8h1v1h-1zM44 12h1v1h-1zM46 20h1v1h-1zM51 25h1v1h-1zM56 28h1v1h-1zM65 29h2v1h-2zM69 30h1v1h-1zM71 31h1v1h-1zM73 32h1v1h-1zM74 33h1v1h-1zM75 34h1v1h-1zM76 35h1v1h-1zM75 47h2v1h-2zM73 48h2v1h-2zM71 49h1v1h-1zM68 50h1v1h-1zM64 51h1v1h-1zM61 52h1v1h-1zM76 58h1v1h-1zM61 59h1v1h-1zM75 59h1v1h-1zM62 60h1v1h-1zM64 61h1v1h-1z"/>
<path fill="#343434" d="M55 2h1v1h-1zM50 6h1v1h-1zM49 7h1v1h-1zM47 21h1v1h-1zM49 23h1v1h-1zM50 24h1v1h-1zM53 27h1v1h-1zM55 28h1v1h-1zM64 29h1v1h-1zM68 30h1v1h-1zM70 31h1v1h-1zM72 32h1v1h-1zM73 33h1v1h-1zM75 35h1v1h-1zM76 36h1v1h-1zM76 45h1v1h-1zM75 46h2v1h-2zM74 47h1v1h-1zM72 48h1v1h-1zM70 49h1v1h-1zM67 50h1v1h-1zM63 51h1v1h-1zM60 53h1v1h-1zM74 60h1v1h-1zM72 61h1v1h-1z"/>
<path fill="#353535" d="M56 1h1v1h-1zM51 5h1v1h-1zM48 22h1v1h-1zM62 29h2v1h-2zM67 30h1v1h-1zM69 31h1v1h-1zM71 32h1v1h-1zM74 34h1v1h-1zM75 36h1v1h-1zM76 37h1v1h-1zM76 38h1v1h-1zM76 44h1v1h-1zM75 45h1v1h-1zM74 46h1v1h-1zM73 47h1v1h-1zM71 48h1v1h-1zM69 49h1v1h-1zM66 50h1v1h-1zM62 51h1v1h-1zM60 58h1v1h-1zM76 59h1v1h-1zM63 61h1v1h-1z"/>
<path fill="#363636" d="M57 0h1v1h-1zM52 4h1v1h-1zM43 13h1v1h-1zM61 29h1v1h-1zM66 30h1v1h-1zM68 31h1v1h-1zM70 32h1v1h-1zM72 33h1v1h-1zM73 34h1v1h-1zM74 35h1v1h-1zM75 37h1v1h-1zM76 39h1v1h-1zM76 40h1v1h-1zM76 41h1v1h-1zM76 42h1v1h-1zM76 43h1v1h-1zM75 44h1v1h-1zM72 47h1v1h-1zM68 49h1v1h-1zM59 55h1v1h-1zM59 56h1v1h-1zM75 60h1v1h-1zM73 61h1v1h-1z"/>
<path fill="#373737" d="M54 2h1v1h-1zM53 3h1v1h-1zM43 18h1v1h-1zM54 28h1v1h-1zM59 29h2v1h-2zM65 30h1v1h-1zM71 33h1v1h-1zM72 34h1v1h-1zM73 35h1v1h-1zM74 36h1v1h-1zM75 38h1v1h-1zM75 39h1v1h-1zM75 42h1v1h-1zM75 43h1v1h-1zM74 45h1v1h-1zM73 46h1v1h-1zM70 48h1v1h-1zM65 50h1v1h-1zM60 52h1v1h-1zM59 54h1v1h-1zM67 62h3v1h-3z"/>
<path fill="#383838" d="M56 0h1v1h-1zM55 1h1v1h-1zM47 8h1v1h-1zM46 9h1v1h-1zM42 15h1v1h-1zM42 16h1v1h-1zM57 29h2v1h-2zM63 30h2v1h-2zM67 31h1v1h-1zM69 32h1v1h-1zM70 33h1v1h-1zM73 36h1v1h-1zM74 37h1v1h-1zM75 40h1v1h-1zM75 41h1v1h-1zM74 43h1v1h-1zM74 44h1v1h-1zM73 45h1v1h-1zM72 46h1v1h-1zM71 47h1v1h-1zM69 48h1v1h-1zM67 49h1v1h-1zM64 50h1v1h-1zM61 51h1v1h-1zM59 57h1v1h-1zM60 59h1v1h-1zM61 60h1v1h-1zM76 60h1v1h-1zM74 61h1v1h-1zM66 62h1v1h-1zM70 62h1v1h-1z"/>
<path fill="#393939" d="M50 5h1v1h-1zM49 6h1v1h-1zM48 7h1v1h-1zM45 10h1v1h-1zM44 19h1v1h-1zM56 29h1v1h-1zM62 30h1v1h-1zM66 31h1v1h-1zM68 32h1v1h-1zM71 34h1v1h-1zM72 35h1v1h-1zM73 37h1v1h-1zM74 38h1v1h-1zM74 39h1v1h-1zM74 40h1v1h-1zM74 41h1v1h-1zM74 42h1v1h-1zM73 44h1v1h-1zM70 47h1v1h-1zM63 50h1v1h-1zM59 53h1v1h-1zM62 61h1v1h-1zM65 62h1v1h-1zM71 62h1v1h-1z"/>
<path fill="#3a3a3a" d="M52 3h1v1h-1zM51 4h1v1h-1zM44 11h1v1h-1zM61 30h1v1h-1zM65 31h1v1h-1zM67 32h1v1h-1zM69 33h1v1h-1zM70 34h1v1h-1zM71 35h1v1h-1zM72 36h1v1h-1zM73 38h1v1h-1zM73 43h1v1h-1zM72 45h1v1h-1zM71 46h1v1h-1zM68 48h1v1h-1zM66 49h1v1h-1zM59 58h1v1h-1zM75 61h1v1h-1zM72 62h1v1h-1z"/>
<path fill="#3b3b3b" d="M55 0h1v1h-1zM54 1h1v1h-1zM53 2h1v1h-1zM42 14h1v1h-1zM42 17h1v1h-1zM52 27h1v1h-1zM55 29h1v1h-1zM60 30h1v1h-1zM64 31h1v1h-1zM66 32h1v1h-1zM68 33h1v1h-1zM72 37h1v1h-1zM73 39h1v1h-1zM73 40h1v1h-1zM73 41h1v1h-1zM73 42h1v1h-1zM72 44h1v1h-1zM69 47h1v1h-1zM62 50h1v1h-1zM60 51h1v1h-1zM64 62h1v1h-1z"/>
<path fill="#3c3c3c" d="M43 12h1v1h-1zM51 26h1v1h-1zM53 28h1v1h-1zM59 30h1v1h-1zM63 31h1v1h-1zM69 34h1v1h-1zM70 35h1v1h-1zM71 36h1v1h-1zM72 38h1v1h-1zM72 43h1v1h-1zM71 45h1v1h-1zM70 46h1v1h-1zM67 48h1v1h-1zM65 49h1v1h-1zM59 52h1v1h-1zM58 54h1v1h-1zM58 55h1v1h-1zM58 56h1v1h-1zM76 61h1v1h-1zM73 62h1v1h-1z"/>
<path fill="#3d3d3d" d="M58 30h1v1h-1zM62 31h1v1h-1zM65 32h1v1h-1zM67 33h1v1h-1zM68 34h1v1h-1zM71 37h1v1h-1zM72 39h1v1h-1zM72 40h1v1h-1zM72 41h1v1h-1zM41 42h1v1h-1zM72 42h1v1h-1zM42 43h2v1h-2zM71 44h1v1h-1zM68 47h1v1h-1zM64 49h1v1h-1zM61 50h1v1h-1zM58 57h1v1h-1zM60 60h1v1h-1zM63 62h1v1h-1zM74 62h1v1h-1z"/>
<path fill="#3e3e3e" d="M52 2h1v1h-1zM51 3h1v1h-1zM50 4h1v1h-1zM49 5h1v1h-1zM48 6h1v1h-1zM47 7h1v1h-1zM46 8h1v1h-1zM54 29h1v1h-1zM57 30h1v1h-1zM61 31h1v1h-1zM64 32h1v1h-1zM66 33h1v1h-1zM69 35h1v1h-1zM70 36h1v1h-1zM71 38h1v1h-1zM42 42h1v1h-1zM41 43h1v1h-1zM44 43h1v1h-1zM71 43h1v1h-1zM43 44h2v1h-2zM70 45h1v1h-1zM69 46h1v1h-1zM66 48h1v1h-1zM58 53h1v1h-1zM59 59h1v1h-1zM61 61h1v1h-1z"/>
<path fill="#3f3f3f" d="M54 0h1v1h-1zM53 1h1v1h-1zM45 9h1v1h-1zM45 20h1v1h-1zM50 25h1v1h-1zM56 30h1v1h-1zM63 32h1v1h-1zM65 33h1v1h-1zM67 34h1v1h-1zM70 37h1v1h-1zM71 39h1v1h-1zM71 40h1v1h-1zM71 41h1v1h-1zM40 42h1v1h-1zM43 42h1v1h-1zM71 42h1v1h-1zM42 44h1v1h-1zM70 44h1v1h-1zM63 49h1v1h-1zM59 51h1v1h-1zM75 62h1v1h-1z"/>
<path fill="#404040" d="M44 10h1v1h-1zM42 13h1v1h-1zM49 24h1v1h-1zM60 31h1v1h-1zM68 35h1v1h-1zM69 36h1v1h-1zM70 38h1v1h-1zM40 43h1v1h-1zM45 43h1v1h-1zM70 43h1v1h-1zM45 44h1v1h-1zM69 45h1v1h-1zM68 46h1v1h-1zM67 47h1v1h-1zM62 49h1v1h-1zM60 50h1v1h-1zM58 52h1v1h-1zM58 58h1v1h-1zM62 62h1v1h-1zM67 63h4v1h-4z"/>
<path fill="#414141" d="M46 21h1v1h-1zM55 30h1v1h-1zM59 31h1v1h-1zM62 32h1v1h-1zM64 33h1v1h-1zM66 34h1v1h-1zM67 35h1v1h-1zM68 36h1v1h-1zM69 37h1v1h-1zM70 39h1v1h-1zM70 40h1v1h-1zM44 42h1v1h-1zM70 42h1v1h-1zM41 44h1v1h-1zM43 45h2v1h-2zM65 48h1v1h-1zM57 54h1v1h-1zM57 55h1v1h-1zM57 56h1v1h-1zM76 62h1v1h-1zM66 63h1v1h-1zM71 63h2v1h-2z"/>
<path fill="#424242" d="M53 0h1v1h-1zM52 1h1v1h-1zM51 2h1v1h-1zM43 11h1v1h-1zM47 22h1v1h-1zM48 23h1v1h-1zM58 31h1v1h-1zM61 32h1v1h-1zM63 33h1v1h-1zM65 34h1v1h-1zM69 38h1v1h-1zM70 41h1v1h-1zM69 44h1v1h-1zM45 45h1v1h-1zM66 47h1v1h-1zM64 48h1v1h-1zM61 49h1v1h-1zM57 57h1v1h-1zM59 60h1v1h-1zM60 61h1v1h-1zM65 63h1v1h-1zM73 63h1v1h-1z"/>
<path fill="#434343" d="M50 3h1v1h-1zM49 4h1v1h-1zM48 5h1v1h-1zM42 18h1v1h-1zM43 19h1v1h-1zM52 28h1v1h-1zM53 29h1v1h-1zM9 35h2v1h-2zM66 35h1v1h-1zM8 36h3v1h-3zM67 36h1v1h-1zM68 37h1v1h-1zM69 39h1v1h-1zM41 41h1v1h-1zM69 43h1v1h-1zM46 44h1v1h-1zM42 45h1v1h-1zM68 45h1v1h-1zM67 46h1v1h-1zM59 50h1v1h-1zM58 51h1v1h-1zM57 53h1v1h-1zM58 59h1v1h-1zM74 63h1v1h-1z"/>
<path fill="#444444" d="M47 6h1v1h-1zM46 7h1v1h-1zM54 30h1v1h-1zM57 31h1v1h-1zM60 32h1v1h-1zM62 33h1v1h-1zM9 34h2v1h-2zM64 34h1v1h-1zM8 35h1v1h-1zM11 35h1v1h-1zM7 36h1v1h-1zM68 38h1v1h-1zM69 40h1v1h-1zM42 41h1v1h-1zM69 41h1v1h-1zM39 42h1v1h-1zM45 42h1v1h-1zM69 42h1v1h-1zM39 43h1v1h-1zM46 43h1v1h-1zM40 44h1v1h-1zM46 45h1v1h-1zM63 48h1v1h-1zM57 58h1v1h-1zM61 62h1v1h-1zM64 63h1v1h-1zM75 63h1v1h-1z"/>
<path fill="#454545" d="M45 8h1v1h-1zM41 15h1v1h-1zM41 16h1v1h-1zM51 27h1v1h-1zM56 31h1v1h-1zM9 33h2v1h-2zM8 34h1v1h-1zM11 34h1v1h-1zM63 34h1v1h-1zM7 35h1v1h-1zM65 35h1v1h-1zM6 36h1v1h-1zM11 36h1v1h-1zM66 36h1v1h-1zM8 37h3v1h-3zM67 37h1v1h-1zM40 41h1v1h-1zM68 44h1v1h-1zM67 45h1v1h-1zM65 47h1v1h-1zM60 49h1v1h-1zM57 52h1v1h-1zM56 54h1v1h-1zM56 55h1v1h-1zM56 56h1v1h-1zM76 63h1v1h-1z"/>
<path fill="#464646" d="M0 0h1v1h-1zM52 0h1v1h-1zM0 1h1v1h-1zM51 1h1v1h-1zM42 12h1v1h-1zM10 32h1v1h-1zM59 32h1v1h-1zM8 33h1v1h-1zM11 33h1v1h-1zM61 33h1v1h-1zM7 34h1v1h-1zM12 34h1v1h-1zM6 35h1v1h-1zM12 35h1v1h-1zM64 35h1v1h-1zM5 36h1v1h-1zM12 36h1v1h-1zM6 37h2v1h-2zM68 39h1v1h-1zM68 40h1v1h-1zM43 41h1v1h-1zM68 42h1v1h-1zM68 43h1v1h-1zM39 44h1v1h-1zM47 44h1v1h-1zM41 45h1v1h-1zM44 46h2v1h-2zM66 46h1v1h-1zM62 48h1v1h-1zM63 63h1v1h-1z"/>
<path fill="#474747" d="M1 0h1v1h-1zM1 1h1v1h-1zM0 2h1v1h-1zM50 2h1v1h-1zM49 3h1v1h-1zM44 9h1v1h-1zM41 14h1v1h-1zM55 31h1v1h-1zM9 32h1v1h-1zM11 32h2v1h-2zM58 32h1v1h-1zM12 33h1v1h-1zM62 34h1v1h-1zM5 35h1v1h-1zM13 35h1v1h-1zM65 36h1v1h-1zM5 37h1v1h-1zM11 37h1v1h-1zM66 37h1v1h-1zM67 38h1v1h-1zM68 41h1v1h-1zM38 43h1v1h-1zM67 44h1v1h-1zM47 45h1v1h-1zM43 46h1v1h-1zM64 47h1v1h-1zM61 48h1v1h-1zM59 49h1v1h-1zM58 50h1v1h-1zM57 51h1v1h-1zM56 53h1v1h-1zM56 57h1v1h-1zM57 59h1v1h-1zM58 60h1v1h-1zM59 61h1v1h-1z"/>
<path fill="#484848" d="M2 0h1v1h-1zM2 1h1v1h-1zM1 2h1v1h-1zM0 3h1v1h-1zM48 4h1v1h-1zM11 30h2v1h-2zM9 31h4v1h-4zM8 32h1v1h-1zM7 33h1v1h-1zM13 33h1v1h-1zM60 33h1v1h-1zM6 34h1v1h-1zM13 34h1v1h-1zM63 35h1v1h-1zM4 36h1v1h-1zM13 36h1v1h-1zM12 37h1v1h-1zM67 39h1v1h-1zM39 41h1v1h-1zM38 42h1v1h-1zM46 42h1v1h-1zM47 43h1v1h-1zM38 44h1v1h-1zM40 45h1v1h-1zM66 45h1v1h-1zM42 46h1v1h-1zM46 46h1v1h-1zM65 46h1v1h-1zM56 52h1v1h-1zM56 58h1v1h-1zM60 62h1v1h-1zM62 63h1v1h-1z"/>
<path fill="#494949" d="M3 0h1v1h-1zM3 1h1v1h-1zM2 2h1v1h-1zM1 3h1v1h-1zM0 4h1v1h-1zM47 5h1v1h-1zM43 10h1v1h-1zM44 20h1v1h-1zM50 26h1v1h-1zM14 27h1v1h-1zM12 28h4v1h-4zM11 29h5v1h-5zM9 30h2v1h-2zM13 30h2v1h-2zM53 30h1v1h-1zM8 31h1v1h-1zM13 31h2v1h-2zM13 32h1v1h-1zM57 32h1v1h-1zM5 34h1v1h-1zM14 34h1v1h-1zM61 34h1v1h-1zM4 35h1v1h-1zM14 35h1v1h-1zM62 35h1v1h-1zM3 36h1v1h-1zM14 36h1v1h-1zM64 36h1v1h-1zM4 37h1v1h-1zM65 37h1v1h-1zM7 38h3v1h-3zM66 38h1v1h-1zM67 40h1v1h-1zM44 41h1v1h-1zM67 41h1v1h-1zM67 42h1v1h-1zM67 43h1v1h-1zM39 45h1v1h-1zM47 46h1v1h-1zM63 47h1v1h-1zM60 48h1v1h-1zM55 53h1v1h-1zM55 54h1v1h-1zM55 55h1v1h-1zM55 56h1v1h-1zM67 64h7v1h-7z"/>
<path fill="#4a4a4a" d="M51 0h1v1h-1zM3 2h1v1h-1zM2 3h1v1h-1zM1 4h1v1h-1zM46 6h1v1h-1zM41 17h1v1h-1zM14 26h1v1h-1zM12 27h2v1h-2zM15 27h2v1h-2zM11 28h1v1h-1zM16 28h1v1h-1zM10 29h1v1h-1zM16 29h1v1h-1zM15 30h1v1h-1zM15 31h1v1h-1zM54 31h1v1h-1zM7 32h1v1h-1zM14 32h1v1h-1zM6 33h1v1h-1zM14 33h1v1h-1zM59 33h1v1h-1zM4 34h1v1h-1zM3 35h1v1h-1zM63 36h1v1h-1zM3 37h1v1h-1zM13 37h1v1h-1zM5 38h2v1h-2zM10 38h1v1h-1zM22 38h2v1h-2zM22 39h1v1h-1zM66 39h1v1h-1zM37 43h1v1h-1zM37 44h1v1h-1zM48 44h1v1h-1zM66 44h1v1h-1zM38 45h1v1h-1zM48 45h1v1h-1zM41 46h1v1h-1zM62 47h1v1h-1zM58 49h1v1h-1zM57 50h1v1h-1zM56 51h1v1h-1zM55 52h1v1h-1zM55 57h1v1h-1zM66 64h1v1h-1zM74 64h2v1h-2zM0 68h1v1h-1zM0 69h1v1h-1zM0 70h1v1h-1zM0 71h1v1h-1z"/>
<path fill="#4b4b4b" d="M4 0h1v1h-1zM4 1h1v1h-1zM50 1h1v1h-1zM4 2h1v1h-1zM3 3h1v1h-1zM2 4h1v1h-1zM0 5h1v1h-1zM45 7h1v1h-1zM41 13h1v1h-1zM13 26h1v1h-1zM15 26h2v1h-2zM11 27h1v1h-1zM17 27h1v1h-1zM10 28h1v1h-1zM17 28h1v1h-1zM9 29h1v1h-1zM17 29h1v1h-1zM52 29h1v1h-1zM8 30h1v1h-1zM16 30h1v1h-1zM7 31h1v1h-1zM16 31h1v1h-1zM6 32h1v1h-1zM15 32h1v1h-1zM56 32h1v1h-1zM5 33h1v1h-1zM15 33h1v1h-1zM3 34h1v1h-1zM15 34h1v1h-1zM60 34h1v1h-1zM2 35h1v1h-1zM15 35h1v1h-1zM61 35h1v1h-1zM2 36h1v1h-1zM15 36h1v1h-1zM14 37h1v1h-1zM21 37h3v1h-3zM64 37h1v1h-1zM4 38h1v1h-1zM11 38h1v1h-1zM21 38h1v1h-1zM65 38h1v1h-1zM21 39h1v1h-1zM23 39h1v1h-1zM66 40h1v1h-1zM38 41h1v1h-1zM45 41h1v1h-1zM37 42h1v1h-1zM66 43h1v1h-1zM37 45h1v1h-1zM65 45h1v1h-1zM48 46h1v1h-1zM64 46h1v1h-1zM45 47h2v1h-2zM59 48h1v1h-1zM54 53h1v1h-1zM54 54h1v1h-1zM54 55h1v1h-1zM56 59h1v1h-1zM57 60h1v1h-1zM58 61h1v1h-1zM61 63h1v1h-1zM65 64h1v1h-1zM76 64h1v1h-1zM0 66h1v1h-1zM0 67h1v1h-1zM1 68h1v1h-1zM1 69h1v1h-1zM1 70h1v1h-1zM1 71h1v1h-1zM0 72h1v1h-1zM0 73h1v1h-1z"/>
<path fill="#4c4c4c" d="M5 0h1v1h-1zM5 1h1v1h-1zM5 2h1v1h-1zM49 2h1v1h-1zM4 3h1v1h-1zM3 4h1v1h-1zM1 5h1v1h-1zM42 11h1v1h-1zM14 25h2v1h-2zM12 26h1v1h-1zM17 26h1v1h-1zM10 27h1v1h-1zM9 28h1v1h-1zM8 29h1v1h-1zM7 30h1v1h-1zM17 30h1v1h-1zM6 31h1v1h-1zM16 32h1v1h-1zM3 33h2v1h-2zM16 33h1v1h-1zM58 33h1v1h-1zM1 34h2v1h-2zM16 34h1v1h-1zM0 35h2v1h-2zM16 35h1v1h-1zM0 36h2v1h-2zM62 36h1v1h-1zM1 37h2v1h-2zM15 37h1v1h-1zM20 37h1v1h-1zM63 37h1v1h-1zM3 38h1v1h-1zM12 38h1v1h-1zM20 38h1v1h-1zM24 38h1v1h-1zM24 39h1v1h-1zM22 40h2v1h-2zM66 41h1v1h-1zM47 42h1v1h-1zM66 42h1v1h-1zM36 43h1v1h-1zM48 43h1v1h-1zM36 44h1v1h-1zM40 46h1v1h-1zM43 47h2v1h-2zM47 47h1v1h-1zM61 47h1v1h-1zM57 49h1v1h-1zM56 50h1v1h-1zM55 51h1v1h-1zM54 52h1v1h-1zM54 56h1v1h-1zM55 58h1v1h-1zM59 62h1v1h-1zM64 64h1v1h-1zM0 65h1v1h-1zM1 66h1v1h-1zM1 67h2v1h-2zM2 68h1v1h-1zM2 69h1v1h-1zM2 70h1v1h-1zM2 71h1v1h-1zM1 72h1v1h-1zM1 73h1v1h-1z"/>
<path fill="#4d4d4d" d="M5 3h1v1h-1zM48 3h1v1h-1zM4 4h1v1h-1zM2 5h2v1h-2zM0 6h1v1h-1zM44 8h1v1h-1zM13 25h1v1h-1zM16 25h1v1h-1zM49 25h1v1h-1zM11 26h1v1h-1zM9 27h1v1h-1zM18 27h1v1h-1zM8 28h1v1h-1zM18 28h1v1h-1zM51 28h1v1h-1zM7 29h1v1h-1zM18 29h1v1h-1zM6 30h1v1h-1zM17 31h1v1h-1zM4 32h2v1h-2zM17 32h1v1h-1zM55 32h1v1h-1zM1 33h2v1h-2zM0 34h1v1h-1zM17 34h1v1h-1zM59 34h1v1h-1zM17 35h1v1h-1zM60 35h1v1h-1zM16 36h1v1h-1zM20 36h4v1h-4zM61 36h1v1h-1zM0 37h1v1h-1zM24 37h1v1h-1zM2 38h1v1h-1zM13 38h1v1h-1zM64 38h1v1h-1zM20 39h1v1h-1zM65 39h1v1h-1zM24 40h1v1h-1zM36 42h1v1h-1zM65 44h1v1h-1zM36 45h1v1h-1zM49 45h1v1h-1zM37 46h3v1h-3zM63 46h1v1h-1zM42 47h1v1h-1zM60 47h1v1h-1zM58 48h1v1h-1zM54 51h1v1h-1zM53 52h1v1h-1zM53 53h1v1h-1zM53 54h1v1h-1zM53 55h1v1h-1zM54 57h1v1h-1zM0 64h1v1h-1zM63 64h1v1h-1zM1 65h1v1h-1zM2 66h1v1h-1zM3 67h1v1h-1zM3 68h1v1h-1zM3 69h1v1h-1zM3 70h1v1h-1zM3 71h1v1h-1zM2 72h1v1h-1z"/>
<path fill="#4e4e4e" d="M6 0h1v1h-1zM6 1h1v1h-1zM6 2h1v1h-1zM6 3h1v1h-1zM5 4h1v1h-1zM47 4h1v1h-1zM4 5h1v1h-1zM1 6h1v1h-1zM45 21h1v1h-1zM12 25h1v1h-1zM17 25h1v1h-1zM10 26h1v1h-1zM18 26h1v1h-1zM8 27h1v1h-1zM7 28h1v1h-1zM6 29h1v1h-1zM5 30h1v1h-1zM18 30h1v1h-1zM4 31h2v1h-2zM18 31h1v1h-1zM0 32h4v1h-4zM0 33h1v1h-1zM17 33h1v1h-1zM57 33h1v1h-1zM18 35h1v1h-1zM17 36h3v1h-3zM16 37h4v1h-4zM62 37h1v1h-1zM0 38h2v1h-2zM14 38h1v1h-1zM19 38h1v1h-1zM25 38h1v1h-1zM25 39h1v1h-1zM21 40h1v1h-1zM65 40h1v1h-1zM37 41h1v1h-1zM35 43h1v1h-1zM65 43h1v1h-1zM35 44h1v1h-1zM49 44h1v1h-1zM64 45h1v1h-1zM36 46h1v1h-1zM49 46h1v1h-1zM62 46h1v1h-1zM48 47h1v1h-1zM56 49h1v1h-1zM54 50h2v1h-2zM52 51h2v1h-2zM52 52h1v1h-1zM52 53h1v1h-1zM52 54h1v1h-1zM53 56h1v1h-1zM54 58h1v1h-1zM55 59h1v1h-1zM56 60h1v1h-1zM57 61h1v1h-1zM0 63h1v1h-1zM60 63h1v1h-1zM1 64h1v1h-1zM2 65h1v1h-1zM3 66h1v1h-1zM4 67h1v1h-1zM4 68h1v1h-1zM4 69h1v1h-1zM4 70h1v1h-1zM3 72h1v1h-1zM2 73h1v1h-1z"/>
<path fill="#4f4f4f" d="M50 0h1v1h-1zM6 4h1v1h-1zM5 5h1v1h-1zM46 5h1v1h-1zM2 6h2v1h-2zM0 7h1v1h-1zM43 9h1v1h-1zM42 19h1v1h-1zM14 24h2v1h-2zM48 24h1v1h-1zM11 25h1v1h-1zM18 25h1v1h-1zM9 26h1v1h-1zM7 27h1v1h-1zM19 27h1v1h-1zM6 28h1v1h-1zM19 28h1v1h-1zM5 29h1v1h-1zM19 29h1v1h-1zM4 30h1v1h-1zM19 30h1v1h-1zM0 31h4v1h-4zM53 31h1v1h-1zM18 32h1v1h-1zM18 33h1v1h-1zM18 34h2v1h-2zM19 35h4v1h-4zM24 36h1v1h-1zM60 36h1v1h-1zM25 37h1v1h-1zM61 37h1v1h-1zM15 38h1v1h-1zM18 38h1v1h-1zM63 38h1v1h-1zM0 39h1v1h-1zM3 39h7v1h-7zM19 39h1v1h-1zM64 39h1v1h-1zM25 40h1v1h-1zM41 40h1v1h-1zM46 41h1v1h-1zM65 41h1v1h-1zM35 42h1v1h-1zM65 42h1v1h-1zM35 45h1v1h-1zM41 47h1v1h-1zM49 47h1v1h-1zM59 47h1v1h-1zM45 48h4v1h-4zM57 48h1v1h-1zM55 49h1v1h-1zM52 50h2v1h-2zM51 51h1v1h-1zM51 52h1v1h-1zM51 53h1v1h-1zM52 55h1v1h-1zM53 57h1v1h-1zM0 62h1v1h-1zM58 62h1v1h-1zM1 63h1v1h-1zM62 64h1v1h-1zM3 65h1v1h-1zM4 66h1v1h-1zM5 67h1v1h-1zM5 68h1v1h-1zM5 69h1v1h-1zM5 70h1v1h-1zM4 71h1v1h-1zM4 72h1v1h-1zM3 73h1v1h-1z"/>
<path fill="#505050" d="M7 0h1v1h-1zM7 1h1v1h-1zM49 1h1v1h-1zM7 2h1v1h-1zM7 3h1v1h-1zM6 5h1v1h-1zM4 6h1v1h-1zM1 7h1v1h-1zM46 22h1v1h-1zM13 24h1v1h-1zM16 24h2v1h-2zM10 25h1v1h-1zM8 26h1v1h-1zM19 26h1v1h-1zM6 27h1v1h-1zM5 28h1v1h-1zM4 29h1v1h-1zM0 30h4v1h-4zM19 31h1v1h-1zM19 32h1v1h-1zM54 32h1v1h-1zM19 33h1v1h-1zM56 33h1v1h-1zM20 34h1v1h-1zM58 34h1v1h-1zM23 35h1v1h-1zM59 35h1v1h-1zM16 38h2v1h-2zM26 38h1v1h-1zM62 38h1v1h-1zM1 39h2v1h-2zM10 39h1v1h-1zM18 39h1v1h-1zM26 39h1v1h-1zM20 40h1v1h-1zM40 40h1v1h-1zM42 40h1v1h-1zM64 40h1v1h-1zM23 41h1v1h-1zM36 41h1v1h-1zM34 42h1v1h-1zM48 42h1v1h-1zM34 43h1v1h-1zM49 43h1v1h-1zM34 44h1v1h-1zM64 44h1v1h-1zM50 45h1v1h-1zM63 45h1v1h-1zM50 46h1v1h-1zM61 46h1v1h-1zM37 47h1v1h-1zM39 47h2v1h-2zM50 47h1v1h-1zM44 48h1v1h-1zM49 48h2v1h-2zM48 49h7v1h-7zM50 50h2v1h-2zM50 51h1v1h-1zM50 52h1v1h-1zM50 53h1v1h-1zM51 54h1v1h-1zM51 55h1v1h-1zM52 56h1v1h-1zM52 57h1v1h-1zM53 58h1v1h-1zM54 59h1v1h-1zM55 60h1v1h-1zM0 61h1v1h-1zM1 62h1v1h-1zM59 63h1v1h-1zM2 64h1v1h-1zM4 65h1v1h-1zM72 65h5v1h-5zM5 66h1v1h-1zM6 67h1v1h-1zM6 68h1v1h-1zM6 69h1v1h-1zM5 71h1v1h-1zM4 73h1v1h-1z"/>
<path fill="#515151" d="M48 2h1v1h-1zM7 4h1v1h-1zM5 6h1v1h-1zM45 6h1v1h-1zM2 7h1v1h-1zM41 12h1v1h-1zM47 23h1v1h-1zM12 24h1v1h-1zM18 24h1v1h-1zM9 25h1v1h-1zM19 25h1v1h-1zM7 26h1v1h-1zM5 27h1v1h-1zM4 28h1v1h-1zM20 28h1v1h-1zM0 29h4v1h-4zM20 29h1v1h-1zM52 30h1v1h-1zM20 33h1v1h-1zM21 34h1v1h-1zM25 36h1v1h-1zM26 37h1v1h-1zM60 37h1v1h-1zM11 39h1v1h-1zM63 39h1v1h-1zM0 40h1v1h-1zM19 40h1v1h-1zM26 40h1v1h-1zM39 40h1v1h-1zM22 41h1v1h-1zM24 41h2v1h-2zM64 41h1v1h-1zM33 42h1v1h-1zM33 43h1v1h-1zM64 43h1v1h-1zM34 45h1v1h-1zM35 46h1v1h-1zM60 46h1v1h-1zM36 47h1v1h-1zM38 47h1v1h-1zM51 47h1v1h-1zM58 47h1v1h-1zM43 48h1v1h-1zM51 48h3v1h-3zM55 48h2v1h-2zM46 49h2v1h-2zM48 50h2v1h-2zM49 51h1v1h-1zM49 52h1v1h-1zM49 53h1v1h-1zM50 54h1v1h-1zM51 56h1v1h-1zM52 58h1v1h-1zM0 59h1v1h-1zM53 59h1v1h-1zM0 60h1v1h-1zM1 61h1v1h-1zM56 61h1v1h-1zM2 63h1v1h-1zM3 64h1v1h-1zM61 64h1v1h-1zM70 65h2v1h-2zM6 66h1v1h-1zM6 70h1v1h-1zM6 71h1v1h-1zM5 72h1v1h-1z"/>
<path fill="#525252" d="M8 1h1v1h-1zM8 2h1v1h-1zM8 3h1v1h-1zM47 3h1v1h-1zM7 5h1v1h-1zM6 6h1v1h-1zM3 7h1v1h-1zM0 8h1v1h-1zM42 10h1v1h-1zM41 18h1v1h-1zM11 24h1v1h-1zM8 25h1v1h-1zM6 26h1v1h-1zM20 26h1v1h-1zM4 27h1v1h-1zM20 27h1v1h-1zM50 27h1v1h-1zM0 28h4v1h-4zM20 30h1v1h-1zM20 31h1v1h-1zM20 32h1v1h-1zM55 33h1v1h-1zM22 34h1v1h-1zM57 34h1v1h-1zM24 35h1v1h-1zM58 35h1v1h-1zM59 36h1v1h-1zM61 38h1v1h-1zM12 39h1v1h-1zM17 39h1v1h-1zM27 39h1v1h-1zM1 40h2v1h-2zM27 40h1v1h-1zM38 40h1v1h-1zM43 40h1v1h-1zM21 41h1v1h-1zM26 41h1v1h-1zM33 41h3v1h-3zM47 41h1v1h-1zM32 42h1v1h-1zM64 42h1v1h-1zM33 44h1v1h-1zM50 44h1v1h-1zM63 44h1v1h-1zM62 45h1v1h-1zM51 46h1v1h-1zM59 46h1v1h-1zM52 47h1v1h-1zM57 47h1v1h-1zM41 48h2v1h-2zM54 48h1v1h-1zM45 49h1v1h-1zM47 50h1v1h-1zM48 51h1v1h-1zM48 52h1v1h-1zM48 53h1v1h-1zM49 54h1v1h-1zM50 55h1v1h-1zM50 56h1v1h-1zM0 57h1v1h-1zM51 57h1v1h-1zM0 58h1v1h-1zM51 58h1v1h-1zM52 59h1v1h-1zM1 60h1v1h-1zM54 60h1v1h-1zM2 62h1v1h-1zM57 62h1v1h-1zM3 63h1v1h-1zM4 64h1v1h-1zM5 65h1v1h-1zM66 65h4v1h-4zM7 67h1v1h-1zM7 68h1v1h-1zM7 69h1v1h-1zM6 72h1v1h-1zM5 73h1v1h-1z"/>
<path fill="#535353" d="M8 0h1v1h-1zM8 4h1v1h-1zM4 7h1v1h-1zM44 7h1v1h-1zM1 8h1v1h-1zM40 15h1v1h-1zM43 20h1v1h-1zM15 23h2v1h-2zM10 24h1v1h-1zM19 24h1v1h-1zM7 25h1v1h-1zM5 26h1v1h-1zM2 27h2v1h-2zM21 33h1v1h-1zM23 34h1v1h-1zM25 35h1v1h-1zM26 36h1v1h-1zM27 37h1v1h-1zM59 37h1v1h-1zM27 38h1v1h-1zM60 38h1v1h-1zM13 39h4v1h-4zM62 39h1v1h-1zM3 40h1v1h-1zM18 40h1v1h-1zM37 40h1v1h-1zM63 40h1v1h-1zM0 41h1v1h-1zM27 41h1v1h-1zM32 41h1v1h-1zM32 43h1v1h-1zM51 45h1v1h-1zM61 45h1v1h-1zM34 46h1v1h-1zM52 46h1v1h-1zM58 46h1v1h-1zM35 47h1v1h-1zM53 47h4v1h-4zM38 48h3v1h-3zM44 49h1v1h-1zM46 50h1v1h-1zM47 51h1v1h-1zM47 52h1v1h-1zM48 54h1v1h-1zM49 55h1v1h-1zM0 56h1v1h-1zM49 56h1v1h-1zM49 57h2v1h-2zM1 58h1v1h-1zM50 58h1v1h-1zM1 59h1v1h-1zM51 59h1v1h-1zM53 60h1v1h-1zM2 61h1v1h-1zM55 61h1v1h-1zM58 63h1v1h-1zM5 64h1v1h-1zM60 64h1v1h-1zM6 65h1v1h-1zM64 65h2v1h-2zM7 66h1v1h-1zM7 70h1v1h-1zM7 71h1v1h-1zM6 73h1v1h-1z"/>
<path fill="#545454" d="M49 0h1v1h-1zM9 2h1v1h-1zM9 3h1v1h-1zM46 4h1v1h-1zM8 5h1v1h-1zM7 6h1v1h-1zM5 7h1v1h-1zM2 8h1v1h-1zM0 9h1v1h-1zM40 14h1v1h-1zM40 16h1v1h-1zM13 23h2v1h-2zM17 23h1v1h-1zM9 24h1v1h-1zM6 25h1v1h-1zM20 25h1v1h-1zM4 26h1v1h-1zM0 27h2v1h-2zM21 27h1v1h-1zM21 28h1v1h-1zM21 29h1v1h-1zM21 30h1v1h-1zM21 31h1v1h-1zM21 32h1v1h-1zM22 33h1v1h-1zM24 34h1v1h-1zM59 38h1v1h-1zM28 39h1v1h-1zM4 40h2v1h-2zM28 40h1v1h-1zM1 41h1v1h-1zM20 41h1v1h-1zM28 41h1v1h-1zM63 41h1v1h-1zM25 42h2v1h-2zM31 42h1v1h-1zM49 42h1v1h-1zM63 42h1v1h-1zM50 43h1v1h-1zM63 43h1v1h-1zM62 44h1v1h-1zM33 45h1v1h-1zM60 45h1v1h-1zM53 46h1v1h-1zM57 46h1v1h-1zM36 48h2v1h-2zM43 49h1v1h-1zM45 50h1v1h-1zM46 51h1v1h-1zM46 52h1v1h-1zM47 53h1v1h-1zM47 54h1v1h-1zM0 55h1v1h-1zM47 55h2v1h-2zM48 56h1v1h-1zM1 57h1v1h-1zM48 57h1v1h-1zM49 58h1v1h-1zM2 59h1v1h-1zM49 59h2v1h-2zM2 60h1v1h-1zM26 60h7v1h-7zM51 60h2v1h-2zM26 61h6v1h-6zM54 61h1v1h-1zM3 62h1v1h-1zM56 62h1v1h-1zM4 63h1v1h-1zM7 65h1v1h-1zM63 65h1v1h-1zM8 66h1v1h-1zM8 67h1v1h-1zM8 68h1v1h-1zM8 69h1v1h-1zM8 70h1v1h-1zM7 72h1v1h-1z"/>
<path fill="#555555" d="M9 0h1v1h-1zM9 1h1v1h-1zM48 1h1v1h-1zM9 4h1v1h-1zM6 7h1v1h-1zM3 8h1v1h-1zM43 8h1v1h-1zM1 9h1v1h-1zM12 23h1v1h-1zM18 23h1v1h-1zM8 24h1v1h-1zM20 24h1v1h-1zM5 25h1v1h-1zM0 26h4v1h-4zM21 26h1v1h-1zM22 32h1v1h-1zM53 32h1v1h-1zM23 33h1v1h-1zM54 33h1v1h-1zM56 34h1v1h-1zM26 35h1v1h-1zM57 35h1v1h-1zM27 36h1v1h-1zM58 36h1v1h-1zM28 38h1v1h-1zM61 39h1v1h-1zM6 40h3v1h-3zM17 40h1v1h-1zM29 40h1v1h-1zM44 40h1v1h-1zM62 40h1v1h-1zM2 41h1v1h-1zM29 41h3v1h-3zM48 41h1v1h-1zM0 42h1v1h-1zM24 42h1v1h-1zM27 42h2v1h-2zM30 42h1v1h-1zM31 43h1v1h-1zM32 44h1v1h-1zM51 44h1v1h-1zM52 45h1v1h-1zM59 45h1v1h-1zM54 46h3v1h-3zM37 49h6v1h-6zM44 50h1v1h-1zM45 51h1v1h-1zM46 53h1v1h-1zM0 54h1v1h-1zM46 54h1v1h-1zM1 55h1v1h-1zM46 55h1v1h-1zM1 56h1v1h-1zM46 56h2v1h-2zM2 57h1v1h-1zM46 57h2v1h-2zM2 58h1v1h-1zM47 58h2v1h-2zM30 59h4v1h-4zM48 59h1v1h-1zM3 60h1v1h-1zM23 60h3v1h-3zM33 60h2v1h-2zM49 60h2v1h-2zM3 61h1v1h-1zM23 61h3v1h-3zM32 61h2v1h-2zM53 61h1v1h-1zM4 62h1v1h-1zM26 62h6v1h-6zM55 62h1v1h-1zM5 63h1v1h-1zM57 63h1v1h-1zM6 64h1v1h-1zM59 64h1v1h-1zM8 65h1v1h-1zM62 65h1v1h-1zM8 71h1v1h-1zM7 73h1v1h-1z"/>
<path fill="#565656" d="M9 5h1v1h-1zM45 5h1v1h-1zM8 6h1v1h-1zM4 8h1v1h-1zM11 23h1v1h-1zM19 23h1v1h-1zM7 24h1v1h-1zM3 25h2v1h-2zM21 25h1v1h-1zM22 29h1v1h-1zM51 29h1v1h-1zM22 30h1v1h-1zM22 31h1v1h-1zM25 34h1v1h-1zM28 37h1v1h-1zM58 37h1v1h-1zM29 39h1v1h-1zM60 39h1v1h-1zM9 40h1v1h-1zM30 40h1v1h-1zM32 40h2v1h-2zM36 40h1v1h-1zM3 41h1v1h-1zM19 41h1v1h-1zM1 42h1v1h-1zM23 42h1v1h-1zM29 42h1v1h-1zM0 43h1v1h-1zM62 43h1v1h-1zM61 44h1v1h-1zM53 45h1v1h-1zM57 45h2v1h-2zM33 46h1v1h-1zM34 47h1v1h-1zM35 48h1v1h-1zM36 49h1v1h-1zM38 50h1v1h-1zM43 50h1v1h-1zM44 51h1v1h-1zM45 52h1v1h-1zM0 53h1v1h-1zM45 53h1v1h-1zM1 54h1v1h-1zM45 54h1v1h-1zM45 55h1v1h-1zM2 56h1v1h-1zM45 56h1v1h-1zM45 57h1v1h-1zM3 58h1v1h-1zM45 58h2v1h-2zM3 59h1v1h-1zM26 59h4v1h-4zM34 59h2v1h-2zM46 59h2v1h-2zM22 60h1v1h-1zM35 60h1v1h-1zM48 60h1v1h-1zM4 61h1v1h-1zM22 61h1v1h-1zM34 61h1v1h-1zM51 61h2v1h-2zM24 62h2v1h-2zM32 62h1v1h-1zM6 63h1v1h-1zM7 64h2v1h-2zM61 65h1v1h-1zM9 66h1v1h-1zM73 66h4v1h-4zM9 67h1v1h-1zM9 68h1v1h-1zM9 69h1v1h-1zM9 70h1v1h-1zM8 72h1v1h-1z"/>
<path fill="#575757" d="M10 1h1v1h-1zM10 2h1v1h-1zM47 2h1v1h-1zM10 3h1v1h-1zM10 4h1v1h-1zM7 7h1v1h-1zM5 8h1v1h-1zM2 9h1v1h-1zM0 10h1v1h-1zM41 11h1v1h-1zM16 22h1v1h-1zM10 23h1v1h-1zM6 24h1v1h-1zM21 24h1v1h-1zM0 25h3v1h-3zM22 27h1v1h-1zM22 28h1v1h-1zM52 31h1v1h-1zM23 32h1v1h-1zM24 33h1v1h-1zM55 34h1v1h-1zM27 35h1v1h-1zM29 38h1v1h-1zM58 38h1v1h-1zM59 39h1v1h-1zM10 40h2v1h-2zM16 40h1v1h-1zM31 40h1v1h-1zM34 40h1v1h-1zM45 40h1v1h-1zM61 40h1v1h-1zM4 41h1v1h-1zM62 41h1v1h-1zM2 42h1v1h-1zM22 42h1v1h-1zM50 42h1v1h-1zM62 42h1v1h-1zM30 43h1v1h-1zM51 43h1v1h-1zM0 44h1v1h-1zM31 44h1v1h-1zM52 44h1v1h-1zM60 44h1v1h-1zM32 45h1v1h-1zM54 45h3v1h-3zM37 50h1v1h-1zM39 50h1v1h-1zM42 50h1v1h-1zM0 52h1v1h-1zM44 52h1v1h-1zM1 53h1v1h-1zM2 55h1v1h-1zM44 56h1v1h-1zM3 57h1v1h-1zM44 57h1v1h-1zM33 58h2v1h-2zM44 58h1v1h-1zM4 59h1v1h-1zM22 59h4v1h-4zM36 59h1v1h-1zM45 59h1v1h-1zM4 60h1v1h-1zM21 60h1v1h-1zM36 60h1v1h-1zM45 60h3v1h-3zM21 61h1v1h-1zM35 61h1v1h-1zM49 61h2v1h-2zM5 62h1v1h-1zM23 62h1v1h-1zM33 62h1v1h-1zM53 62h2v1h-2zM7 63h1v1h-1zM27 63h4v1h-4zM56 63h1v1h-1zM9 64h1v1h-1zM58 64h1v1h-1zM9 65h1v1h-1zM10 66h1v1h-1zM72 66h1v1h-1zM10 67h1v1h-1zM10 68h1v1h-1zM9 71h1v1h-1zM8 73h1v1h-1z"/>
<path fill="#585858" d="M10 0h1v1h-1zM46 3h1v1h-1zM10 5h1v1h-1zM9 6h1v1h-1zM44 6h1v1h-1zM8 7h1v1h-1zM6 8h1v1h-1zM3 9h1v1h-1zM1 10h1v1h-1zM40 13h1v1h-1zM14 22h2v1h-2zM17 22h2v1h-2zM9 23h1v1h-1zM20 23h1v1h-1zM0 24h1v1h-1zM4 24h2v1h-2zM22 25h1v1h-1zM22 26h1v1h-1zM49 26h1v1h-1zM23 30h1v1h-1zM23 31h1v1h-1zM25 33h1v1h-1zM26 34h1v1h-1zM56 35h1v1h-1zM28 36h1v1h-1zM57 36h1v1h-1zM30 39h1v1h-1zM12 40h1v1h-1zM15 40h1v1h-1zM35 40h1v1h-1zM18 41h1v1h-1zM49 41h1v1h-1zM21 42h1v1h-1zM1 43h1v1h-1zM26 43h4v1h-4zM61 43h1v1h-1zM53 44h1v1h-1zM57 44h1v1h-1zM59 44h1v1h-1zM0 45h1v1h-1zM34 48h1v1h-1zM35 49h1v1h-1zM0 50h1v1h-1zM40 50h2v1h-2zM0 51h1v1h-1zM43 51h1v1h-1zM1 52h1v1h-1zM44 53h1v1h-1zM2 54h1v1h-1zM44 54h1v1h-1zM3 55h1v1h-1zM44 55h1v1h-1zM3 56h1v1h-1zM4 57h1v1h-1zM4 58h1v1h-1zM31 58h2v1h-2zM35 58h1v1h-1zM21 59h1v1h-1zM44 59h1v1h-1zM5 60h1v1h-1zM20 60h1v1h-1zM37 60h1v1h-1zM44 60h1v1h-1zM5 61h1v1h-1zM20 61h1v1h-1zM36 61h1v1h-1zM45 61h4v1h-4zM6 62h2v1h-2zM21 62h2v1h-2zM34 62h1v1h-1zM51 62h2v1h-2zM8 63h3v1h-3zM25 63h2v1h-2zM31 63h1v1h-1zM55 63h1v1h-1zM10 64h1v1h-1zM57 64h1v1h-1zM10 65h1v1h-1zM60 65h1v1h-1zM65 66h2v1h-2zM71 66h1v1h-1zM10 69h1v1h-1zM10 70h1v1h-1zM9 72h1v1h-1z"/>
<path fill="#595959" d="M48 0h1v1h-1zM11 3h1v1h-1zM11 4h1v1h-1zM10 6h1v1h-1zM4 9h1v1h-1zM42 9h1v1h-1zM0 11h1v1h-1zM12 22h2v1h-2zM19 22h1v1h-1zM8 23h1v1h-1zM21 23h1v1h-1zM1 24h3v1h-3zM22 24h1v1h-1zM23 27h1v1h-1zM23 28h1v1h-1zM23 29h1v1h-1zM24 32h1v1h-1zM53 33h1v1h-1zM29 37h1v1h-1zM57 37h1v1h-1zM58 39h1v1h-1zM13 40h2v1h-2zM46 40h1v1h-1zM60 40h1v1h-1zM5 41h2v1h-2zM61 41h1v1h-1zM3 42h1v1h-1zM61 42h1v1h-1zM25 43h1v1h-1zM1 44h1v1h-1zM30 44h1v1h-1zM54 44h3v1h-3zM58 44h1v1h-1zM0 46h1v1h-1zM0 47h1v1h-1zM33 47h1v1h-1zM0 48h1v1h-1zM0 49h1v1h-1zM36 50h1v1h-1zM2 53h1v1h-1zM4 56h1v1h-1zM43 56h1v1h-1zM43 57h1v1h-1zM29 58h2v1h-2zM36 58h1v1h-1zM43 58h1v1h-1zM5 59h1v1h-1zM20 59h1v1h-1zM37 59h1v1h-1zM43 59h1v1h-1zM19 60h1v1h-1zM38 60h1v1h-1zM43 60h1v1h-1zM6 61h2v1h-2zM19 61h1v1h-1zM37 61h1v1h-1zM44 61h1v1h-1zM8 62h5v1h-5zM20 62h1v1h-1zM35 62h1v1h-1zM46 62h1v1h-1zM49 62h2v1h-2zM11 63h2v1h-2zM23 63h2v1h-2zM32 63h1v1h-1zM54 63h1v1h-1zM11 64h2v1h-2zM11 65h2v1h-2zM59 65h1v1h-1zM11 66h1v1h-1zM63 66h2v1h-2zM67 66h4v1h-4zM11 67h1v1h-1zM11 68h1v1h-1zM10 71h1v1h-1zM9 73h1v1h-1z"/>
<path fill="#5a5a5a" d="M11 1h1v1h-1zM11 2h1v1h-1zM11 5h1v1h-1zM9 7h1v1h-1zM7 8h1v1h-1zM2 10h1v1h-1zM40 17h1v1h-1zM44 21h1v1h-1zM11 22h1v1h-1zM20 22h1v1h-1zM0 23h1v1h-1zM7 23h1v1h-1zM22 23h1v1h-1zM23 26h1v1h-1zM50 28h1v1h-1zM24 30h1v1h-1zM24 31h1v1h-1zM25 32h1v1h-1zM26 33h1v1h-1zM27 34h1v1h-1zM54 34h1v1h-1zM28 35h1v1h-1zM55 35h1v1h-1zM56 36h1v1h-1zM30 38h1v1h-1zM31 39h1v1h-1zM47 40h1v1h-1zM59 40h1v1h-1zM7 41h1v1h-1zM17 41h1v1h-1zM20 42h1v1h-1zM51 42h1v1h-1zM2 43h1v1h-1zM24 43h1v1h-1zM52 43h1v1h-1zM60 43h1v1h-1zM1 45h1v1h-1zM31 45h1v1h-1zM32 46h1v1h-1zM1 50h1v1h-1zM1 51h1v1h-1zM38 51h1v1h-1zM42 51h1v1h-1zM2 52h1v1h-1zM43 52h1v1h-1zM3 54h1v1h-1zM4 55h1v1h-1zM43 55h1v1h-1zM5 57h1v1h-1zM33 57h3v1h-3zM5 58h1v1h-1zM23 58h6v1h-6zM37 58h1v1h-1zM42 58h1v1h-1zM6 59h1v1h-1zM19 59h1v1h-1zM38 59h2v1h-2zM41 59h2v1h-2zM6 60h2v1h-2zM18 60h1v1h-1zM39 60h1v1h-1zM41 60h2v1h-2zM8 61h11v1h-11zM38 61h1v1h-1zM42 61h2v1h-2zM13 62h7v1h-7zM36 62h1v1h-1zM43 62h3v1h-3zM47 62h2v1h-2zM13 63h2v1h-2zM21 63h2v1h-2zM33 63h2v1h-2zM52 63h2v1h-2zM13 64h1v1h-1zM55 64h2v1h-2zM13 65h1v1h-1zM58 65h1v1h-1zM12 66h1v1h-1zM61 66h2v1h-2zM12 67h1v1h-1zM11 69h1v1h-1zM11 70h1v1h-1zM10 72h1v1h-1z"/>
<path fill="#5b5b5b" d="M11 0h1v1h-1zM47 1h1v1h-1zM45 4h1v1h-1zM11 6h1v1h-1zM10 7h1v1h-1zM43 7h1v1h-1zM8 8h1v1h-1zM5 9h1v1h-1zM3 10h1v1h-1zM1 11h1v1h-1zM0 12h1v1h-1zM16 21h3v1h-3zM10 22h1v1h-1zM21 22h2v1h-2zM1 23h2v1h-2zM4 23h3v1h-3zM23 24h1v1h-1zM23 25h1v1h-1zM24 28h1v1h-1zM24 29h1v1h-1zM25 31h1v1h-1zM29 36h1v1h-1zM57 38h1v1h-1zM32 39h1v1h-1zM57 39h1v1h-1zM48 40h1v1h-1zM58 40h1v1h-1zM8 41h1v1h-1zM50 41h1v1h-1zM60 41h1v1h-1zM4 42h1v1h-1zM60 42h1v1h-1zM3 43h1v1h-1zM23 43h1v1h-1zM53 43h7v1h-7zM2 44h1v1h-1zM29 44h1v1h-1zM1 46h1v1h-1zM1 49h1v1h-1zM34 49h1v1h-1zM35 50h1v1h-1zM39 51h1v1h-1zM41 51h1v1h-1zM3 53h1v1h-1zM43 53h1v1h-1zM4 54h1v1h-1zM43 54h1v1h-1zM5 56h1v1h-1zM32 57h1v1h-1zM36 57h1v1h-1zM42 57h1v1h-1zM6 58h1v1h-1zM21 58h2v1h-2zM38 58h4v1h-4zM7 59h1v1h-1zM18 59h1v1h-1zM40 59h1v1h-1zM8 60h10v1h-10zM40 60h1v1h-1zM39 61h3v1h-3zM37 62h1v1h-1zM42 62h1v1h-1zM15 63h6v1h-6zM35 63h1v1h-1zM44 63h3v1h-3zM50 63h2v1h-2zM14 64h2v1h-2zM25 64h7v1h-7zM54 64h1v1h-1zM14 65h1v1h-1zM57 65h1v1h-1zM13 66h1v1h-1zM60 66h1v1h-1zM75 67h2v1h-2zM12 68h1v1h-1zM12 69h1v1h-1zM11 71h1v1h-1zM10 73h1v1h-1z"/>
<path fill="#5c5c5c" d="M12 3h1v1h-1zM12 4h1v1h-1zM12 5h1v1h-1zM9 8h1v1h-1zM6 9h1v1h-1zM14 21h2v1h-2zM19 21h4v1h-4zM0 22h1v1h-1zM9 22h1v1h-1zM23 22h1v1h-1zM3 23h1v1h-1zM23 23h1v1h-1zM48 25h1v1h-1zM24 26h1v1h-1zM24 27h1v1h-1zM25 29h1v1h-1zM25 30h1v1h-1zM26 32h1v1h-1zM52 32h1v1h-1zM27 33h1v1h-1zM28 34h1v1h-1zM30 37h1v1h-1zM56 37h1v1h-1zM37 39h2v1h-2zM57 40h1v1h-1zM9 41h1v1h-1zM16 41h1v1h-1zM57 41h3v1h-3zM5 42h1v1h-1zM19 42h1v1h-1zM52 42h1v1h-1zM56 42h4v1h-4zM27 44h2v1h-2zM1 47h1v1h-1zM32 47h1v1h-1zM1 48h1v1h-1zM33 48h1v1h-1zM2 51h1v1h-1zM37 51h1v1h-1zM40 51h1v1h-1zM42 52h1v1h-1zM5 55h1v1h-1zM42 56h1v1h-1zM6 57h1v1h-1zM31 57h1v1h-1zM37 57h1v1h-1zM41 57h1v1h-1zM20 58h1v1h-1zM8 59h2v1h-2zM11 59h2v1h-2zM17 59h1v1h-1zM38 62h4v1h-4zM36 63h1v1h-1zM42 63h2v1h-2zM47 63h3v1h-3zM16 64h1v1h-1zM23 64h2v1h-2zM32 64h1v1h-1zM44 64h1v1h-1zM52 64h2v1h-2zM15 65h1v1h-1zM55 65h2v1h-2zM14 66h1v1h-1zM59 66h1v1h-1zM13 67h1v1h-1zM73 67h2v1h-2zM13 68h1v1h-1zM12 70h1v1h-1zM11 72h1v1h-1z"/>
<path fill="#5d5d5d" d="M12 2h1v1h-1zM46 2h1v1h-1zM44 5h1v1h-1zM12 6h1v1h-1zM11 7h1v1h-1zM7 9h1v1h-1zM4 10h1v1h-1zM41 10h1v1h-1zM2 11h1v1h-1zM40 12h1v1h-1zM22 20h2v1h-2zM12 21h2v1h-2zM23 21h1v1h-1zM1 22h1v1h-1zM8 22h1v1h-1zM24 23h1v1h-1zM24 24h1v1h-1zM24 25h1v1h-1zM25 28h1v1h-1zM51 30h1v1h-1zM26 31h1v1h-1zM53 34h1v1h-1zM29 35h1v1h-1zM54 35h1v1h-1zM55 36h1v1h-1zM31 38h1v1h-1zM56 38h1v1h-1zM33 39h1v1h-1zM36 39h1v1h-1zM39 39h3v1h-3zM56 39h1v1h-1zM49 40h1v1h-1zM56 40h1v1h-1zM10 41h2v1h-2zM15 41h1v1h-1zM51 41h1v1h-1zM56 41h1v1h-1zM6 42h1v1h-1zM53 42h3v1h-3zM4 43h1v1h-1zM22 43h1v1h-1zM3 44h1v1h-1zM26 44h1v1h-1zM2 45h1v1h-1zM30 45h1v1h-1zM31 46h1v1h-1zM2 49h1v1h-1zM2 50h1v1h-1zM3 52h1v1h-1zM4 53h1v1h-1zM42 55h1v1h-1zM6 56h1v1h-1zM34 56h2v1h-2zM30 57h1v1h-1zM38 57h3v1h-3zM7 58h1v1h-1zM19 58h1v1h-1zM10 59h1v1h-1zM13 59h4v1h-4zM37 63h1v1h-1zM41 63h1v1h-1zM17 64h6v1h-6zM33 64h1v1h-1zM43 64h1v1h-1zM45 64h2v1h-2zM50 64h2v1h-2zM16 65h1v1h-1zM53 65h2v1h-2zM15 66h1v1h-1zM57 66h2v1h-2zM14 67h1v1h-1zM72 67h1v1h-1zM13 69h1v1h-1zM12 71h1v1h-1zM11 73h1v1h-1z"/>
<path fill="#5e5e5e" d="M47 0h1v1h-1zM12 1h1v1h-1zM13 4h1v1h-1zM13 5h1v1h-1zM12 7h1v1h-1zM10 8h1v1h-1zM42 8h1v1h-1zM5 10h1v1h-1zM1 12h1v1h-1zM0 13h1v1h-1zM22 19h1v1h-1zM16 20h6v1h-6zM0 21h1v1h-1zM11 21h1v1h-1zM24 21h1v1h-1zM2 22h2v1h-2zM6 22h2v1h-2zM24 22h1v1h-1zM45 22h1v1h-1zM47 24h1v1h-1zM25 26h1v1h-1zM25 27h1v1h-1zM26 29h1v1h-1zM26 30h1v1h-1zM27 32h1v1h-1zM30 36h1v1h-1zM55 37h1v1h-1zM34 39h1v1h-1zM50 40h1v1h-1zM55 40h1v1h-1zM12 41h3v1h-3zM55 41h1v1h-1zM18 42h1v1h-1zM21 43h1v1h-1zM25 44h1v1h-1zM2 46h1v1h-1zM2 47h1v1h-1zM2 48h1v1h-1zM33 49h1v1h-1zM34 50h1v1h-1zM3 51h1v1h-1zM36 51h1v1h-1zM42 53h1v1h-1zM5 54h1v1h-1zM42 54h1v1h-1zM6 55h1v1h-1zM33 56h1v1h-1zM36 56h1v1h-1zM41 56h1v1h-1zM7 57h1v1h-1zM26 57h4v1h-4zM8 58h1v1h-1zM18 58h1v1h-1zM38 63h3v1h-3zM34 64h2v1h-2zM42 64h1v1h-1zM47 64h3v1h-3zM17 65h1v1h-1zM27 65h4v1h-4zM51 65h2v1h-2zM54 66h3v1h-3zM15 67h1v1h-1zM61 67h6v1h-6zM71 67h1v1h-1zM14 68h1v1h-1zM13 70h1v1h-1zM12 72h1v1h-1z"/>
<path fill="#5f5f5f" d="M12 0h1v1h-1zM13 3h1v1h-1zM45 3h1v1h-1zM13 6h1v1h-1zM11 8h1v1h-1zM8 9h1v1h-1zM3 11h1v1h-1zM0 14h1v1h-1zM19 19h3v1h-3zM23 19h1v1h-1zM0 20h1v1h-1zM14 20h2v1h-2zM24 20h1v1h-1zM1 21h1v1h-1zM10 21h1v1h-1zM4 22h2v1h-2zM25 25h1v1h-1zM26 28h1v1h-1zM27 31h1v1h-1zM28 33h1v1h-1zM52 33h1v1h-1zM29 34h1v1h-1zM54 36h1v1h-1zM55 38h1v1h-1zM35 39h1v1h-1zM42 39h1v1h-1zM55 39h1v1h-1zM52 41h3v1h-3zM7 42h1v1h-1zM5 43h1v1h-1zM20 43h1v1h-1zM24 44h1v1h-1zM3 45h1v1h-1zM29 45h1v1h-1zM32 48h1v1h-1zM3 50h1v1h-1zM35 51h1v1h-1zM4 52h1v1h-1zM41 52h1v1h-1zM5 53h1v1h-1zM41 55h1v1h-1zM7 56h1v1h-1zM32 56h1v1h-1zM37 56h4v1h-4zM22 57h4v1h-4zM9 58h5v1h-5zM15 58h3v1h-3zM36 64h1v1h-1zM41 64h1v1h-1zM18 65h3v1h-3zM23 65h4v1h-4zM31 65h2v1h-2zM44 65h4v1h-4zM49 65h2v1h-2zM16 66h1v1h-1zM52 66h2v1h-2zM57 67h4v1h-4zM67 67h2v1h-2zM70 67h1v1h-1zM14 69h1v1h-1zM13 71h1v1h-1zM12 73h1v1h-1z"/>
<path fill="#606060" d="M46 1h1v1h-1zM13 2h1v1h-1zM14 5h1v1h-1zM43 6h1v1h-1zM13 7h1v1h-1zM12 8h1v1h-1zM9 9h2v1h-2zM6 10h1v1h-1zM4 11h1v1h-1zM2 12h1v1h-1zM1 13h1v1h-1zM19 18h5v1h-5zM16 19h3v1h-3zM24 19h1v1h-1zM41 19h1v1h-1zM13 20h1v1h-1zM2 21h1v1h-1zM9 21h1v1h-1zM25 21h1v1h-1zM25 22h1v1h-1zM25 23h1v1h-1zM46 23h1v1h-1zM25 24h1v1h-1zM26 27h1v1h-1zM27 30h1v1h-1zM53 35h1v1h-1zM31 37h1v1h-1zM54 37h1v1h-1zM54 38h1v1h-1zM54 39h1v1h-1zM51 40h4v1h-4zM8 42h1v1h-1zM17 42h1v1h-1zM4 44h1v1h-1zM23 44h1v1h-1zM28 45h1v1h-1zM3 46h1v1h-1zM30 46h1v1h-1zM31 47h1v1h-1zM3 49h1v1h-1zM4 51h1v1h-1zM39 52h2v1h-2zM6 54h1v1h-1zM34 55h2v1h-2zM8 57h1v1h-1zM20 57h2v1h-2zM14 58h1v1h-1zM37 64h4v1h-4zM21 65h2v1h-2zM33 65h1v1h-1zM43 65h1v1h-1zM48 65h1v1h-1zM17 66h1v1h-1zM50 66h2v1h-2zM16 67h1v1h-1zM53 67h4v1h-4zM69 67h1v1h-1zM15 68h1v1h-1zM75 68h2v1h-2zM14 70h1v1h-1zM13 72h1v1h-1z"/>
<path fill="#616161" d="M13 1h1v1h-1zM14 4h1v1h-1zM14 6h1v1h-1zM11 9h1v1h-1zM7 10h1v1h-1zM0 15h1v1h-1zM39 15h1v1h-1zM0 16h1v1h-1zM19 17h4v1h-4zM0 18h1v1h-1zM18 18h1v1h-1zM0 19h1v1h-1zM15 19h1v1h-1zM1 20h1v1h-1zM12 20h1v1h-1zM25 20h1v1h-1zM3 21h1v1h-1zM8 21h1v1h-1zM26 26h1v1h-1zM49 27h1v1h-1zM27 29h1v1h-1zM28 32h1v1h-1zM30 35h1v1h-1zM53 36h1v1h-1zM32 38h1v1h-1zM43 39h1v1h-1zM53 39h1v1h-1zM9 42h1v1h-1zM16 42h1v1h-1zM6 43h1v1h-1zM22 44h1v1h-1zM4 45h1v1h-1zM27 45h1v1h-1zM3 47h1v1h-1zM3 48h1v1h-1zM33 50h1v1h-1zM34 51h1v1h-1zM5 52h1v1h-1zM38 52h1v1h-1zM41 53h1v1h-1zM41 54h1v1h-1zM7 55h1v1h-1zM33 55h1v1h-1zM36 55h1v1h-1zM40 55h1v1h-1zM31 56h1v1h-1zM9 57h1v1h-1zM18 57h2v1h-2zM34 65h1v1h-1zM42 65h1v1h-1zM18 66h2v1h-2zM45 66h5v1h-5zM17 67h1v1h-1zM51 67h2v1h-2zM16 68h1v1h-1zM74 68h1v1h-1zM15 69h1v1h-1zM14 71h1v1h-1zM13 73h1v1h-1z"/>
<path fill="#626262" d="M14 3h1v1h-1zM44 4h1v1h-1zM14 7h1v1h-1zM13 8h1v1h-1zM41 9h1v1h-1zM8 10h1v1h-1zM5 11h1v1h-1zM40 11h1v1h-1zM3 12h1v1h-1zM2 13h1v1h-1zM1 14h1v1h-1zM39 14h1v1h-1zM20 16h1v1h-1zM0 17h1v1h-1zM18 17h1v1h-1zM16 18h2v1h-2zM24 18h1v1h-1zM1 19h1v1h-1zM14 19h1v1h-1zM11 20h1v1h-1zM42 20h1v1h-1zM4 21h1v1h-1zM6 21h2v1h-2zM26 23h1v1h-1zM26 24h1v1h-1zM26 25h1v1h-1zM27 28h1v1h-1zM28 31h1v1h-1zM51 31h1v1h-1zM29 33h1v1h-1zM52 34h1v1h-1zM53 37h1v1h-1zM53 38h1v1h-1zM48 39h5v1h-5zM10 42h1v1h-1zM7 43h1v1h-1zM19 43h1v1h-1zM5 44h1v1h-1zM21 44h1v1h-1zM26 45h1v1h-1zM32 49h1v1h-1zM4 50h1v1h-1zM37 52h1v1h-1zM6 53h1v1h-1zM34 54h1v1h-1zM37 55h1v1h-1zM39 55h1v1h-1zM8 56h1v1h-1zM29 56h2v1h-2zM10 57h2v1h-2zM16 57h2v1h-2zM35 65h2v1h-2zM41 65h1v1h-1zM20 66h2v1h-2zM25 66h6v1h-6zM43 66h2v1h-2zM48 67h3v1h-3zM53 68h12v1h-12zM73 68h1v1h-1zM16 69h1v1h-1zM15 70h1v1h-1zM14 72h1v1h-1z"/>
<path fill="#636363" d="M13 0h1v1h-1zM45 2h1v1h-1zM15 5h1v1h-1zM15 6h1v1h-1zM42 7h1v1h-1zM14 8h1v1h-1zM12 9h1v1h-1zM9 10h1v1h-1zM1 15h1v1h-1zM18 16h2v1h-2zM21 16h1v1h-1zM17 17h1v1h-1zM23 17h1v1h-1zM1 18h1v1h-1zM15 18h1v1h-1zM13 19h1v1h-1zM25 19h1v1h-1zM2 20h1v1h-1zM10 20h1v1h-1zM5 21h1v1h-1zM26 22h1v1h-1zM27 27h1v1h-1zM31 36h1v1h-1zM52 38h1v1h-1zM47 39h1v1h-1zM11 42h1v1h-1zM14 42h2v1h-2zM25 45h1v1h-1zM4 46h1v1h-1zM29 46h1v1h-1zM4 47h1v1h-1zM4 48h1v1h-1zM31 48h1v1h-1zM4 49h1v1h-1zM5 51h1v1h-1zM33 51h1v1h-1zM34 52h3v1h-3zM40 53h1v1h-1zM7 54h1v1h-1zM33 54h1v1h-1zM35 54h1v1h-1zM40 54h1v1h-1zM32 55h1v1h-1zM38 55h1v1h-1zM26 56h3v1h-3zM12 57h4v1h-4zM37 65h4v1h-4zM22 66h3v1h-3zM31 66h2v1h-2zM18 67h2v1h-2zM46 67h2v1h-2zM17 68h1v1h-1zM51 68h2v1h-2zM65 68h2v1h-2zM72 68h1v1h-1zM15 71h1v1h-1zM14 73h1v1h-1z"/>
<path fill="#646464" d="M46 0h1v1h-1zM14 2h1v1h-1zM15 4h1v1h-1zM15 7h1v1h-1zM13 9h1v1h-1zM10 10h1v1h-1zM6 11h1v1h-1zM4 12h1v1h-1zM3 13h1v1h-1zM2 14h1v1h-1zM19 15h2v1h-2zM1 16h1v1h-1zM22 16h1v1h-1zM39 16h1v1h-1zM1 17h1v1h-1zM16 17h1v1h-1zM2 19h1v1h-1zM12 19h1v1h-1zM3 20h1v1h-1zM9 20h1v1h-1zM26 21h1v1h-1zM27 26h1v1h-1zM50 29h1v1h-1zM28 30h1v1h-1zM30 34h1v1h-1zM52 35h1v1h-1zM52 36h1v1h-1zM52 37h1v1h-1zM51 38h1v1h-1zM44 39h1v1h-1zM46 39h1v1h-1zM12 42h2v1h-2zM8 43h1v1h-1zM18 43h1v1h-1zM6 44h1v1h-1zM20 44h1v1h-1zM5 45h1v1h-1zM23 45h2v1h-2zM30 47h1v1h-1zM5 50h1v1h-1zM32 50h1v1h-1zM6 52h1v1h-1zM34 53h2v1h-2zM39 53h1v1h-1zM8 55h1v1h-1zM9 56h1v1h-1zM19 56h7v1h-7zM33 66h1v1h-1zM42 66h1v1h-1zM20 67h1v1h-1zM45 67h1v1h-1zM18 68h1v1h-1zM48 68h3v1h-3zM67 68h1v1h-1zM71 68h1v1h-1zM17 69h1v1h-1zM16 70h1v1h-1zM15 72h1v1h-1z"/>
<path fill="#656565" d="M14 1h1v1h-1zM43 5h1v1h-1zM15 8h1v1h-1zM14 9h1v1h-1zM11 10h1v1h-1zM7 11h1v1h-1zM5 12h1v1h-1zM39 13h1v1h-1zM2 15h1v1h-1zM18 15h1v1h-1zM21 15h1v1h-1zM17 16h1v1h-1zM15 17h1v1h-1zM24 17h1v1h-1zM14 18h1v1h-1zM40 18h1v1h-1zM11 19h1v1h-1zM4 20h1v1h-1zM8 20h1v1h-1zM26 20h1v1h-1zM27 25h1v1h-1zM28 29h1v1h-1zM29 32h1v1h-1zM33 38h1v1h-1zM50 38h1v1h-1zM9 43h1v1h-1zM17 43h1v1h-1zM22 45h1v1h-1zM5 46h1v1h-1zM28 46h1v1h-1zM5 49h1v1h-1zM33 52h1v1h-1zM7 53h1v1h-1zM33 53h1v1h-1zM38 53h1v1h-1zM32 54h1v1h-1zM36 54h1v1h-1zM38 54h2v1h-2zM31 55h1v1h-1zM10 56h1v1h-1zM17 56h2v1h-2zM34 66h2v1h-2zM41 66h1v1h-1zM21 67h2v1h-2zM44 67h1v1h-1zM19 68h1v1h-1zM47 68h1v1h-1zM68 68h3v1h-3zM51 69h10v1h-10zM75 69h2v1h-2zM17 70h1v1h-1zM16 71h1v1h-1zM15 73h1v1h-1z"/>
<path fill="#666666" d="M15 3h1v1h-1zM44 3h1v1h-1zM16 5h1v1h-1zM16 6h1v1h-1zM16 7h1v1h-1zM12 10h1v1h-1zM8 11h1v1h-1zM4 13h1v1h-1zM3 14h1v1h-1zM18 14h3v1h-3zM17 15h1v1h-1zM2 16h1v1h-1zM16 16h1v1h-1zM23 16h1v1h-1zM2 17h1v1h-1zM2 18h1v1h-1zM13 18h1v1h-1zM25 18h1v1h-1zM3 19h1v1h-1zM5 20h3v1h-3zM27 23h1v1h-1zM27 24h1v1h-1zM28 28h1v1h-1zM51 32h1v1h-1zM31 35h1v1h-1zM32 37h1v1h-1zM51 37h1v1h-1zM36 38h2v1h-2zM45 39h1v1h-1zM16 43h1v1h-1zM7 44h1v1h-1zM19 44h1v1h-1zM6 45h1v1h-1zM21 45h1v1h-1zM27 46h1v1h-1zM5 47h1v1h-1zM5 48h1v1h-1zM31 49h1v1h-1zM6 51h1v1h-1zM32 51h1v1h-1zM36 53h2v1h-2zM8 54h1v1h-1zM37 54h1v1h-1zM30 55h1v1h-1zM11 56h6v1h-6zM36 66h5v1h-5zM23 67h9v1h-9zM43 67h1v1h-1zM20 68h1v1h-1zM45 68h2v1h-2zM18 69h1v1h-1zM49 69h2v1h-2zM61 69h3v1h-3zM74 69h1v1h-1zM16 72h1v1h-1z"/>
<path fill="#676767" d="M14 0h1v1h-1zM45 1h1v1h-1zM15 9h1v1h-1zM13 10h1v1h-1zM9 11h1v1h-1zM6 12h1v1h-1zM17 14h1v1h-1zM16 15h1v1h-1zM22 15h1v1h-1zM15 16h1v1h-1zM14 17h1v1h-1zM10 19h1v1h-1zM43 21h1v1h-1zM27 22h1v1h-1zM28 27h1v1h-1zM29 31h1v1h-1zM30 33h1v1h-1zM34 38h2v1h-2zM49 38h1v1h-1zM10 43h1v1h-1zM20 45h1v1h-1zM25 46h2v1h-2zM29 47h1v1h-1zM30 48h1v1h-1zM6 50h1v1h-1zM7 52h1v1h-1zM32 52h1v1h-1zM32 53h1v1h-1zM9 55h1v1h-1zM28 55h2v1h-2zM32 67h2v1h-2zM42 67h1v1h-1zM21 68h1v1h-1zM44 68h1v1h-1zM19 69h1v1h-1zM47 69h2v1h-2zM64 69h2v1h-2zM73 69h1v1h-1zM18 70h1v1h-1zM52 70h5v1h-5zM17 71h1v1h-1zM16 73h1v1h-1z"/>
<path fill="#686868" d="M15 2h1v1h-1zM16 4h1v1h-1zM42 6h1v1h-1zM16 8h1v1h-1zM41 8h1v1h-1zM14 10h1v1h-1zM40 10h1v1h-1zM10 11h1v1h-1zM5 13h1v1h-1zM18 13h2v1h-2zM4 14h1v1h-1zM21 14h1v1h-1zM3 15h1v1h-1zM3 16h1v1h-1zM3 17h1v1h-1zM3 18h1v1h-1zM12 18h1v1h-1zM4 19h1v1h-1zM9 19h1v1h-1zM26 19h1v1h-1zM27 21h1v1h-1zM28 26h1v1h-1zM48 26h1v1h-1zM51 36h1v1h-1zM11 43h1v1h-1zM15 43h1v1h-1zM8 44h1v1h-1zM18 44h1v1h-1zM7 45h1v1h-1zM6 46h1v1h-1zM23 46h2v1h-2zM6 49h1v1h-1zM31 50h1v1h-1zM8 53h1v1h-1zM31 54h1v1h-1zM10 55h1v1h-1zM17 55h5v1h-5zM24 55h4v1h-4zM34 67h1v1h-1zM41 67h1v1h-1zM22 68h2v1h-2zM43 68h1v1h-1zM20 69h1v1h-1zM46 69h1v1h-1zM66 69h1v1h-1zM72 69h1v1h-1zM19 70h1v1h-1zM50 70h2v1h-2zM57 70h3v1h-3zM18 71h1v1h-1zM17 72h1v1h-1z"/>
<path fill="#696969" d="M43 4h1v1h-1zM16 9h1v1h-1zM15 10h1v1h-1zM11 11h3v1h-3zM7 12h1v1h-1zM39 12h1v1h-1zM17 13h1v1h-1zM20 13h1v1h-1zM16 14h1v1h-1zM15 15h1v1h-1zM14 16h1v1h-1zM13 17h1v1h-1zM25 17h1v1h-1zM11 18h1v1h-1zM5 19h1v1h-1zM8 19h1v1h-1zM28 25h1v1h-1zM29 30h1v1h-1zM51 33h1v1h-1zM51 34h1v1h-1zM51 35h1v1h-1zM32 36h1v1h-1zM50 37h1v1h-1zM38 38h1v1h-1zM12 43h3v1h-3zM9 44h1v1h-1zM17 44h1v1h-1zM19 45h1v1h-1zM21 46h2v1h-2zM6 47h1v1h-1zM28 47h1v1h-1zM6 48h1v1h-1zM30 49h1v1h-1zM7 51h1v1h-1zM31 51h1v1h-1zM31 53h1v1h-1zM9 54h1v1h-1zM30 54h1v1h-1zM11 55h6v1h-6zM22 55h2v1h-2zM35 67h6v1h-6zM24 68h7v1h-7zM21 69h1v1h-1zM45 69h1v1h-1zM67 69h5v1h-5zM48 70h2v1h-2zM60 70h2v1h-2zM76 70h1v1h-1zM18 72h1v1h-1zM17 73h1v1h-1z"/>
<path fill="#6a6a6a" d="M45 0h1v1h-1zM15 1h1v1h-1zM44 2h1v1h-1zM16 3h1v1h-1zM17 6h1v1h-1zM17 7h1v1h-1zM16 10h1v1h-1zM14 11h3v1h-3zM8 12h1v1h-1zM16 12h3v1h-3zM6 13h1v1h-1zM16 13h1v1h-1zM15 14h1v1h-1zM4 15h1v1h-1zM23 15h1v1h-1zM24 16h1v1h-1zM4 18h1v1h-1zM6 19h2v1h-2zM27 20h1v1h-1zM28 23h1v1h-1zM28 24h1v1h-1zM49 28h1v1h-1zM30 32h1v1h-1zM31 34h1v1h-1zM48 38h1v1h-1zM16 44h1v1h-1zM18 45h1v1h-1zM7 46h1v1h-1zM20 46h1v1h-1zM27 47h1v1h-1zM29 48h1v1h-1zM7 50h1v1h-1zM8 52h1v1h-1zM31 52h1v1h-1zM29 54h1v1h-1zM31 68h2v1h-2zM42 68h1v1h-1zM22 69h1v1h-1zM44 69h1v1h-1zM20 70h1v1h-1zM47 70h1v1h-1zM62 70h2v1h-2zM75 70h1v1h-1zM19 71h1v1h-1zM51 71h6v1h-6z"/>
<path fill="#6b6b6b" d="M17 5h1v1h-1zM17 8h1v1h-1zM17 11h1v1h-1zM9 12h1v1h-1zM14 12h2v1h-2zM19 12h1v1h-1zM15 13h1v1h-1zM5 14h1v1h-1zM22 14h1v1h-1zM14 15h1v1h-1zM4 16h1v1h-1zM13 16h1v1h-1zM4 17h1v1h-1zM12 17h1v1h-1zM39 17h1v1h-1zM5 18h1v1h-1zM10 18h1v1h-1zM26 18h1v1h-1zM28 22h1v1h-1zM29 29h1v1h-1zM33 37h1v1h-1zM10 44h1v1h-1zM8 45h1v1h-1zM19 46h1v1h-1zM7 47h1v1h-1zM21 47h2v1h-2zM25 47h2v1h-2zM7 49h1v1h-1zM30 50h1v1h-1zM9 53h1v1h-1zM30 53h1v1h-1zM10 54h1v1h-1zM16 54h5v1h-5zM28 54h1v1h-1zM33 68h2v1h-2zM41 68h1v1h-1zM23 69h3v1h-3zM43 69h1v1h-1zM21 70h1v1h-1zM46 70h1v1h-1zM64 70h2v1h-2zM74 70h1v1h-1zM20 71h1v1h-1zM49 71h2v1h-2zM57 71h2v1h-2zM19 72h1v1h-1zM18 73h1v1h-1z"/>
<path fill="#6c6c6c" d="M15 0h1v1h-1zM17 9h1v1h-1zM17 10h1v1h-1zM10 12h4v1h-4zM7 13h1v1h-1zM14 13h1v1h-1zM21 13h1v1h-1zM14 14h1v1h-1zM5 15h1v1h-1zM5 17h1v1h-1zM6 18h1v1h-1zM8 18h2v1h-2zM44 22h1v1h-1zM47 25h1v1h-1zM50 30h1v1h-1zM32 35h1v1h-1zM39 38h2v1h-2zM47 38h1v1h-1zM15 44h1v1h-1zM17 45h1v1h-1zM18 46h1v1h-1zM20 47h1v1h-1zM23 47h2v1h-2zM7 48h1v1h-1zM28 48h1v1h-1zM29 49h1v1h-1zM8 51h1v1h-1zM30 51h1v1h-1zM9 52h1v1h-1zM30 52h1v1h-1zM11 54h5v1h-5zM21 54h7v1h-7zM35 68h6v1h-6zM26 69h4v1h-4zM42 69h1v1h-1zM22 70h1v1h-1zM45 70h1v1h-1zM66 70h1v1h-1zM72 70h2v1h-2zM21 71h1v1h-1zM48 71h1v1h-1zM59 71h2v1h-2zM19 73h1v1h-1z"/>
<path fill="#6d6d6d" d="M44 1h1v1h-1zM16 2h1v1h-1zM43 3h1v1h-1zM17 4h1v1h-1zM42 5h1v1h-1zM41 7h1v1h-1zM40 9h1v1h-1zM18 11h1v1h-1zM8 13h1v1h-1zM13 13h1v1h-1zM6 14h1v1h-1zM13 15h1v1h-1zM5 16h1v1h-1zM12 16h1v1h-1zM11 17h1v1h-1zM7 18h1v1h-1zM27 19h1v1h-1zM28 21h1v1h-1zM29 28h1v1h-1zM50 36h1v1h-1zM49 37h1v1h-1zM41 38h1v1h-1zM11 44h1v1h-1zM14 44h1v1h-1zM9 45h1v1h-1zM16 45h1v1h-1zM8 46h1v1h-1zM19 47h1v1h-1zM21 48h1v1h-1zM27 48h1v1h-1zM8 50h1v1h-1zM29 50h1v1h-1zM10 53h1v1h-1zM16 53h5v1h-5zM29 53h1v1h-1zM30 69h3v1h-3zM41 69h1v1h-1zM23 70h2v1h-2zM44 70h1v1h-1zM67 70h2v1h-2zM70 70h2v1h-2zM46 71h2v1h-2zM61 71h2v1h-2zM76 71h1v1h-1zM20 72h1v1h-1zM51 72h6v1h-6z"/>
<path fill="#6e6e6e" d="M18 10h1v1h-1zM39 11h1v1h-1zM20 12h1v1h-1zM9 13h1v1h-1zM12 13h1v1h-1zM7 14h1v1h-1zM13 14h1v1h-1zM6 15h1v1h-1zM6 16h1v1h-1zM25 16h1v1h-1zM6 17h1v1h-1zM10 17h1v1h-1zM45 23h1v1h-1zM46 24h1v1h-1zM30 31h1v1h-1zM31 33h1v1h-1zM34 37h1v1h-1zM42 38h1v1h-1zM12 44h2v1h-2zM17 46h1v1h-1zM8 47h1v1h-1zM18 47h1v1h-1zM8 48h1v1h-1zM19 48h2v1h-2zM22 48h5v1h-5zM8 49h1v1h-1zM28 49h1v1h-1zM9 51h1v1h-1zM29 51h1v1h-1zM10 52h1v1h-1zM18 52h2v1h-2zM29 52h1v1h-1zM11 53h5v1h-5zM21 53h3v1h-3zM27 53h2v1h-2zM33 69h3v1h-3zM40 69h1v1h-1zM25 70h2v1h-2zM43 70h1v1h-1zM69 70h1v1h-1zM22 71h2v1h-2zM45 71h1v1h-1zM63 71h1v1h-1zM75 71h1v1h-1zM21 72h1v1h-1zM49 72h2v1h-2zM57 72h2v1h-2zM20 73h1v1h-1z"/>
<path fill="#6f6f6f" d="M16 1h1v1h-1zM18 7h1v1h-1zM19 11h1v1h-1zM10 13h2v1h-2zM8 14h1v1h-1zM12 14h1v1h-1zM7 15h1v1h-1zM12 15h1v1h-1zM24 15h1v1h-1zM38 15h1v1h-1zM11 16h1v1h-1zM7 17h3v1h-3zM26 17h1v1h-1zM29 26h1v1h-1zM29 27h1v1h-1zM33 36h1v1h-1zM35 37h2v1h-2zM46 38h1v1h-1zM10 45h1v1h-1zM15 45h1v1h-1zM9 46h1v1h-1zM16 46h1v1h-1zM17 47h1v1h-1zM18 48h1v1h-1zM18 49h6v1h-6zM27 49h1v1h-1zM9 50h1v1h-1zM19 50h3v1h-3zM28 50h1v1h-1zM18 51h3v1h-3zM16 52h2v1h-2zM20 52h3v1h-3zM28 52h1v1h-1zM24 53h3v1h-3zM36 69h4v1h-4zM27 70h4v1h-4zM42 70h1v1h-1zM24 71h1v1h-1zM44 71h1v1h-1zM64 71h2v1h-2zM74 71h1v1h-1zM22 72h1v1h-1zM47 72h2v1h-2zM59 72h2v1h-2zM21 73h1v1h-1z"/>
<path fill="#707070" d="M44 0h1v1h-1zM17 3h1v1h-1zM18 6h1v1h-1zM18 8h1v1h-1zM18 9h1v1h-1zM22 13h1v1h-1zM9 14h3v1h-3zM23 14h1v1h-1zM38 14h1v1h-1zM8 15h1v1h-1zM11 15h1v1h-1zM7 16h4v1h-4zM28 20h1v1h-1zM29 23h1v1h-1zM29 24h1v1h-1zM29 25h1v1h-1zM37 37h1v1h-1zM43 38h1v1h-1zM16 47h1v1h-1zM17 48h1v1h-1zM9 49h1v1h-1zM17 49h1v1h-1zM24 49h3v1h-3zM17 50h2v1h-2zM22 50h2v1h-2zM27 50h1v1h-1zM10 51h1v1h-1zM16 51h2v1h-2zM21 51h3v1h-3zM28 51h1v1h-1zM11 52h5v1h-5zM23 52h2v1h-2zM26 52h2v1h-2zM31 70h2v1h-2zM40 70h2v1h-2zM25 71h2v1h-2zM43 71h1v1h-1zM66 71h1v1h-1zM72 71h2v1h-2zM23 72h1v1h-1zM46 72h1v1h-1zM61 72h1v1h-1zM50 73h6v1h-6z"/>
<path fill="#717171" d="M43 2h1v1h-1zM42 4h1v1h-1zM41 6h1v1h-1zM40 8h1v1h-1zM21 12h1v1h-1zM9 15h2v1h-2zM27 18h1v1h-1zM29 22h1v1h-1zM30 30h1v1h-1zM32 34h1v1h-1zM50 35h1v1h-1zM44 38h2v1h-2zM11 45h1v1h-1zM14 45h1v1h-1zM10 46h1v1h-1zM15 46h1v1h-1zM9 47h1v1h-1zM9 48h1v1h-1zM16 48h1v1h-1zM16 49h1v1h-1zM10 50h1v1h-1zM16 50h1v1h-1zM24 50h3v1h-3zM11 51h1v1h-1zM14 51h2v1h-2zM24 51h4v1h-4zM25 52h1v1h-1zM33 70h7v1h-7zM27 71h2v1h-2zM42 71h1v1h-1zM67 71h5v1h-5zM24 72h1v1h-1zM45 72h1v1h-1zM62 72h2v1h-2zM76 72h1v1h-1zM22 73h1v1h-1zM48 73h2v1h-2zM56 73h3v1h-3z"/>
<path fill="#727272" d="M16 0h1v1h-1zM18 5h1v1h-1zM19 10h1v1h-1zM20 11h1v1h-1zM38 13h1v1h-1zM38 16h1v1h-1zM50 31h1v1h-1zM31 32h1v1h-1zM33 35h1v1h-1zM34 36h1v1h-1zM48 37h1v1h-1zM12 45h2v1h-2zM15 47h1v1h-1zM10 49h1v1h-1zM15 49h1v1h-1zM15 50h1v1h-1zM12 51h2v1h-2zM29 71h3v1h-3zM41 71h1v1h-1zM25 72h2v1h-2zM44 72h1v1h-1zM64 72h1v1h-1zM75 72h1v1h-1zM23 73h1v1h-1zM47 73h1v1h-1zM59 73h1v1h-1z"/>
<path fill="#737373" d="M17 2h1v1h-1zM39 10h1v1h-1zM28 19h1v1h-1zM29 21h1v1h-1zM48 27h1v1h-1zM11 46h1v1h-1zM14 46h1v1h-1zM10 47h1v1h-1zM10 48h1v1h-1zM15 48h1v1h-1zM11 50h4v1h-4zM32 71h3v1h-3zM39 71h2v1h-2zM27 72h1v1h-1zM42 72h2v1h-2zM65 72h1v1h-1zM73 72h2v1h-2zM24 73h1v1h-1zM45 73h2v1h-2zM60 73h2v1h-2z"/>
<path fill="#747474" d="M43 1h1v1h-1zM42 3h1v1h-1zM19 9h1v1h-1zM26 16h1v1h-1zM30 29h1v1h-1zM50 34h1v1h-1zM35 36h1v1h-1zM49 36h1v1h-1zM14 47h1v1h-1zM14 48h1v1h-1zM11 49h1v1h-1zM13 49h2v1h-2zM35 71h4v1h-4zM28 72h3v1h-3zM41 72h1v1h-1zM66 72h2v1h-2zM71 72h2v1h-2zM25 73h2v1h-2zM44 73h1v1h-1zM62 73h1v1h-1z"/>
<path fill="#757575" d="M18 4h1v1h-1zM41 5h1v1h-1zM23 13h1v1h-1zM24 14h1v1h-1zM25 15h1v1h-1zM27 17h1v1h-1zM50 32h1v1h-1zM50 33h1v1h-1zM38 37h1v1h-1zM12 46h2v1h-2zM11 47h1v1h-1zM11 48h3v1h-3zM12 49h1v1h-1zM31 72h3v1h-3zM39 72h2v1h-2zM68 72h3v1h-3zM27 73h1v1h-1zM43 73h1v1h-1zM63 73h1v1h-1zM76 73h1v1h-1z"/>
<path fill="#767676" d="M17 1h1v1h-1zM19 7h1v1h-1zM40 7h1v1h-1zM19 8h1v1h-1zM20 10h1v1h-1zM21 11h1v1h-1zM22 12h1v1h-1zM38 12h1v1h-1zM40 19h1v1h-1zM29 20h1v1h-1zM41 20h1v1h-1zM49 29h1v1h-1zM32 33h1v1h-1zM36 36h1v1h-1zM12 47h2v1h-2zM34 72h5v1h-5zM28 73h2v1h-2zM41 73h2v1h-2zM64 73h2v1h-2zM74 73h2v1h-2z"/>
<path fill="#777777" d="M43 0h1v1h-1zM39 9h1v1h-1zM39 18h1v1h-1zM30 28h1v1h-1zM31 31h1v1h-1zM34 35h1v1h-1zM47 37h1v1h-1zM30 73h3v1h-3zM40 73h1v1h-1zM66 73h2v1h-2zM72 73h2v1h-2z"/>
<path fill="#787878" d="M17 0h1v1h-1zM42 2h1v1h-1zM18 3h1v1h-1zM19 6h1v1h-1zM28 18h1v1h-1zM30 23h1v1h-1zM33 34h1v1h-1zM33 73h7v1h-7zM68 73h4v1h-4z"/>
<path fill="#797979" d="M41 4h1v1h-1zM38 17h1v1h-1zM30 22h1v1h-1zM30 24h1v1h-1zM30 25h1v1h-1zM30 27h1v1h-1zM37 36h1v1h-1z"/>
<path fill="#7a7a7a" d="M18 2h1v1h-1zM19 5h1v1h-1zM40 6h1v1h-1zM20 9h1v1h-1zM38 11h1v1h-1zM29 19h1v1h-1zM42 21h1v1h-1zM30 26h1v1h-1zM49 35h1v1h-1z"/>
<path fill="#7b7b7b" d="M42 1h1v1h-1zM39 8h1v1h-1zM27 16h1v1h-1zM30 21h1v1h-1zM47 26h1v1h-1zM31 30h1v1h-1zM35 35h1v1h-1zM48 36h1v1h-1zM39 37h2v1h-2zM46 37h1v1h-1z"/>
<path fill="#7c7c7c" d="M41 3h1v1h-1zM21 10h1v1h-1zM22 11h1v1h-1zM23 12h1v1h-1zM24 13h1v1h-1zM25 14h1v1h-1zM26 15h1v1h-1zM37 15h1v1h-1zM45 24h1v1h-1zM32 32h1v1h-1z"/>
<path fill="#7d7d7d" d="M42 0h1v1h-1zM18 1h1v1h-1zM19 4h1v1h-1zM20 8h1v1h-1zM37 14h1v1h-1zM28 17h1v1h-1zM30 20h1v1h-1zM43 22h1v1h-1zM46 25h1v1h-1zM41 37h1v1h-1z"/>
<path fill="#7e7e7e" d="M40 5h1v1h-1zM38 10h1v1h-1zM38 36h1v1h-1zM45 37h1v1h-1z"/>
<path fill="#7f7f7f" d="M18 0h1v1h-1zM41 2h1v1h-1zM20 7h1v1h-1zM39 7h1v1h-1zM37 13h1v1h-1zM37 16h1v1h-1zM29 18h1v1h-1zM44 23h1v1h-1zM33 33h1v1h-1zM34 34h1v1h-1zM42 37h1v1h-1z"/>
<path fill="#808080" d="M19 3h1v1h-1zM48 28h1v1h-1zM31 29h1v1h-1zM49 30h1v1h-1zM49 34h1v1h-1zM36 35h1v1h-1zM43 37h2v1h-2z"/>
<path fill="#818181" d="M40 4h1v1h-1zM20 6h1v1h-1zM21 9h1v1h-1zM30 19h1v1h-1zM32 31h1v1h-1z"/>
<path fill="#828282" d="M41 1h1v1h-1zM38 9h1v1h-1zM22 10h1v1h-1zM23 11h1v1h-1zM24 12h1v1h-1zM37 12h1v1h-1z"/>
<path fill="#838383" d="M19 2h1v1h-1zM39 6h1v1h-1zM25 13h1v1h-1zM31 21h1v1h-1zM31 22h1v1h-1zM31 23h1v1h-1zM47 36h1v1h-1z"/>
<path fill="#848484" d="M41 0h1v1h-1zM40 3h1v1h-1zM20 5h1v1h-1zM26 14h1v1h-1zM27 15h1v1h-1zM28 16h1v1h-1zM31 24h1v1h-1zM37 35h1v1h-1z"/>
<path fill="#858585" d="M19 1h1v1h-1zM21 8h1v1h-1zM38 8h1v1h-1zM37 11h1v1h-1zM29 17h1v1h-1zM37 17h1v1h-1zM38 18h1v1h-1zM31 20h1v1h-1zM31 28h1v1h-1zM49 33h1v1h-1zM48 35h1v1h-1zM39 36h1v1h-1z"/>
<path fill="#868686" d="M19 0h1v1h-1zM40 2h1v1h-1zM39 5h1v1h-1zM31 25h1v1h-1zM49 31h1v1h-1zM33 32h1v1h-1zM35 34h1v1h-1z"/>
<path fill="#878787" d="M30 18h1v1h-1zM32 30h1v1h-1zM49 32h1v1h-1z"/>
<path fill="#888888" d="M40 1h1v1h-1zM20 4h1v1h-1zM22 9h1v1h-1zM23 10h1v1h-1zM37 10h1v1h-1zM36 15h1v1h-1zM31 19h1v1h-1zM31 26h1v1h-1zM31 27h1v1h-1zM34 33h1v1h-1z"/>
<path fill="#898989" d="M39 4h1v1h-1zM21 7h1v1h-1zM38 7h1v1h-1zM24 11h1v1h-1zM36 14h1v1h-1zM36 16h1v1h-1zM39 19h1v1h-1z"/>
<path fill="#8a8a8a" d="M40 0h1v1h-1zM20 3h1v1h-1zM25 12h1v1h-1zM36 13h1v1h-1zM47 27h1v1h-1zM38 35h1v1h-1zM40 36h1v1h-1zM46 36h1v1h-1z"/>
<path fill="#8b8b8b" d="M39 3h1v1h-1zM26 13h1v1h-1z"/>
<path fill="#8c8c8c" d="M20 2h1v1h-1zM38 6h1v1h-1zM37 9h1v1h-1zM27 14h1v1h-1zM28 15h1v1h-1zM29 16h1v1h-1zM36 34h1v1h-1z"/>
<path fill="#8d8d8d" d="M39 2h1v1h-1zM21 6h1v1h-1zM36 12h1v1h-1zM30 17h1v1h-1zM36 17h1v1h-1zM31 18h1v1h-1zM32 20h1v1h-1zM40 20h1v1h-1zM32 21h1v1h-1zM45 25h1v1h-1zM32 29h1v1h-1z"/>
<path fill="#8e8e8e" d="M20 0h1v1h-1zM20 1h1v1h-1zM38 5h1v1h-1zM22 8h1v1h-1zM32 22h1v1h-1zM46 26h1v1h-1zM48 29h1v1h-1zM33 31h1v1h-1zM48 34h1v1h-1zM41 36h1v1h-1z"/>
<path fill="#8f8f8f" d="M39 1h1v1h-1zM37 8h1v1h-1zM23 9h1v1h-1zM36 11h1v1h-1zM37 18h1v1h-1zM32 19h1v1h-1zM44 24h1v1h-1z"/>
<path fill="#909090" d="M21 5h1v1h-1zM24 10h1v1h-1zM41 21h1v1h-1zM32 23h1v1h-1zM47 35h1v1h-1zM45 36h1v1h-1z"/>
<path fill="#919191" d="M39 0h1v1h-1zM38 4h1v1h-1zM25 11h1v1h-1zM35 33h1v1h-1zM42 36h1v1h-1z"/>
<path fill="#929292" d="M37 7h1v1h-1zM36 10h1v1h-1zM26 12h1v1h-1zM35 15h1v1h-1zM35 16h1v1h-1zM42 22h1v1h-1zM43 23h1v1h-1zM34 32h1v1h-1zM39 35h1v1h-1zM43 36h2v1h-2z"/>
<path fill="#939393" d="M38 3h1v1h-1zM21 4h1v1h-1zM27 13h1v1h-1zM35 14h1v1h-1zM30 16h1v1h-1zM31 17h1v1h-1zM32 18h1v1h-1zM32 24h1v1h-1zM37 34h1v1h-1z"/>
<path fill="#949494" d="M38 2h1v1h-1zM37 6h1v1h-1zM22 7h1v1h-1zM35 13h1v1h-1zM28 14h1v1h-1zM29 15h1v1h-1zM35 17h1v1h-1zM33 19h1v1h-1zM32 28h1v1h-1zM33 30h1v1h-1z"/>
<path fill="#959595" d="M21 3h1v1h-1zM36 9h1v1h-1zM36 18h1v1h-1zM33 20h1v1h-1z"/>
<path fill="#969696" d="M21 1h1v1h-1zM38 1h1v1h-1zM21 2h1v1h-1zM37 5h1v1h-1zM23 8h1v1h-1zM35 12h1v1h-1zM33 18h1v1h-1zM32 25h1v1h-1z"/>
<path fill="#979797" d="M21 0h1v1h-1zM38 0h1v1h-1zM24 9h1v1h-1zM25 10h1v1h-1zM34 18h2v1h-2zM38 19h1v1h-1zM48 33h1v1h-1z"/>
<path fill="#989898" d="M37 4h1v1h-1zM36 8h1v1h-1zM26 11h1v1h-1zM34 16h1v1h-1zM32 17h1v1h-1zM34 17h1v1h-1zM33 21h1v1h-1z"/>
<path fill="#999999" d="M22 6h1v1h-1zM35 11h1v1h-1zM34 15h1v1h-1zM31 16h1v1h-1zM34 19h1v1h-1zM32 26h1v1h-1zM32 27h1v1h-1zM48 30h1v1h-1zM40 35h1v1h-1zM46 35h1v1h-1z"/>
<path fill="#9a9a9a" d="M37 3h1v1h-1zM36 7h1v1h-1zM27 12h1v1h-1zM30 15h1v1h-1zM33 17h1v1h-1zM47 28h1v1h-1zM36 33h1v1h-1z"/>
<path fill="#9b9b9b" d="M37 2h1v1h-1zM35 10h1v1h-1zM28 13h1v1h-1zM29 14h1v1h-1zM34 14h1v1h-1zM33 22h1v1h-1zM33 29h1v1h-1zM34 31h1v1h-1zM38 34h1v1h-1z"/>
<path fill="#9c9c9c" d="M37 1h1v1h-1zM36 6h1v1h-1zM33 16h1v1h-1zM48 32h1v1h-1zM47 34h1v1h-1z"/>
<path fill="#9d9d9d" d="M37 0h1v1h-1zM22 5h1v1h-1zM23 7h1v1h-1zM35 9h1v1h-1zM34 13h1v1h-1zM32 16h1v1h-1zM35 19h1v1h-1zM34 20h1v1h-1z"/>
<path fill="#9e9e9e" d="M22 0h1v1h-1zM36 5h1v1h-1zM24 8h1v1h-1zM25 9h1v1h-1zM31 15h1v1h-1zM33 15h1v1h-1zM37 19h1v1h-1zM48 31h1v1h-1zM35 32h1v1h-1z"/>
<path fill="#9f9f9f" d="M22 1h1v1h-1zM22 2h1v1h-1zM22 3h1v1h-1zM22 4h1v1h-1zM36 4h1v1h-1zM26 10h1v1h-1zM34 12h1v1h-1zM36 19h1v1h-1zM33 23h1v1h-1z"/>
<path fill="#a0a0a0" d="M35 8h1v1h-1zM27 11h1v1h-1zM30 14h1v1h-1zM33 14h1v1h-1zM32 15h1v1h-1zM46 27h1v1h-1zM41 35h1v1h-1z"/>
<path fill="#a1a1a1" d="M36 3h1v1h-1zM34 11h1v1h-1zM28 12h1v1h-1zM29 13h1v1h-1zM39 20h1v1h-1zM44 25h1v1h-1zM45 26h1v1h-1zM45 35h1v1h-1z"/>
<path fill="#a2a2a2" d="M36 1h1v1h-1zM36 2h1v1h-1zM35 7h1v1h-1zM33 13h1v1h-1zM33 24h1v1h-1zM34 30h1v1h-1z"/>
<path fill="#a3a3a3" d="M36 0h1v1h-1zM35 6h1v1h-1zM34 10h1v1h-1zM31 14h2v1h-2zM33 28h1v1h-1zM37 33h1v1h-1zM39 34h1v1h-1z"/>
<path fill="#a4a4a4" d="M23 6h1v1h-1zM34 21h1v1h-1zM43 24h1v1h-1zM42 35h1v1h-1zM44 35h1v1h-1z"/>
<path fill="#a5a5a5" d="M23 0h1v1h-1zM35 5h1v1h-1zM24 7h1v1h-1zM25 8h1v1h-1zM26 9h1v1h-1zM34 9h1v1h-1zM27 10h1v1h-1zM33 12h1v1h-1zM30 13h1v1h-1zM43 35h1v1h-1z"/>
<path fill="#a6a6a6" d="M23 1h1v1h-1zM35 4h1v1h-1zM28 11h1v1h-1zM29 12h1v1h-1zM31 13h2v1h-2zM35 20h1v1h-1z"/>
<path fill="#a7a7a7" d="M23 2h1v1h-1zM35 2h1v1h-1zM35 3h1v1h-1zM23 5h1v1h-1zM34 8h1v1h-1zM33 11h1v1h-1zM40 21h1v1h-1zM42 23h1v1h-1zM33 25h1v1h-1z"/>
<path fill="#a8a8a8" d="M35 0h1v1h-1zM35 1h1v1h-1zM23 3h1v1h-1zM23 4h1v1h-1zM34 7h1v1h-1zM32 12h1v1h-1zM47 33h1v1h-1z"/>
<path fill="#a9a9a9" d="M33 10h1v1h-1zM30 12h1v1h-1zM41 22h1v1h-1zM34 29h1v1h-1zM47 29h1v1h-1zM35 31h1v1h-1zM36 32h1v1h-1zM46 34h1v1h-1z"/>
<path fill="#aaaaaa" d="M34 6h1v1h-1zM27 9h1v1h-1zM28 10h1v1h-1zM29 11h1v1h-1zM31 12h1v1h-1zM34 22h1v1h-1zM33 27h1v1h-1z"/>
<path fill="#ababab" d="M24 0h1v1h-1zM34 5h1v1h-1zM24 6h1v1h-1zM25 7h1v1h-1zM26 8h1v1h-1zM33 9h1v1h-1zM32 11h1v1h-1zM33 26h1v1h-1z"/>
<path fill="#acacac" d="M34 0h1v1h-1zM34 3h1v1h-1zM34 4h1v1h-1zM33 8h1v1h-1zM30 11h2v1h-2zM40 34h1v1h-1z"/>
<path fill="#adadad" d="M24 1h1v1h-1zM34 1h1v1h-1zM34 2h1v1h-1zM32 10h1v1h-1zM36 20h1v1h-1zM38 20h1v1h-1z"/>
<path fill="#aeaeae" d="M24 2h1v1h-1zM24 5h1v1h-1zM33 7h1v1h-1zM28 9h1v1h-1zM29 10h1v1h-1z"/>
<path fill="#afafaf" d="M24 3h1v1h-1zM24 4h1v1h-1zM33 6h1v1h-1zM27 8h1v1h-1zM32 9h1v1h-1zM30 10h2v1h-2zM34 23h1v1h-1zM38 33h1v1h-1z"/>
<path fill="#b0b0b0" d="M25 0h1v1h-1zM33 0h1v1h-1zM33 5h1v1h-1zM25 6h1v1h-1zM26 7h1v1h-1zM35 21h1v1h-1z"/>
<path fill="#b1b1b1" d="M33 1h1v1h-1zM33 2h1v1h-1zM33 3h1v1h-1zM33 4h1v1h-1zM32 8h1v1h-1zM29 9h1v1h-1zM31 9h1v1h-1zM37 20h1v1h-1zM35 30h1v1h-1z"/>
<path fill="#b2b2b2" d="M25 1h1v1h-1zM32 7h1v1h-1zM28 8h1v1h-1zM30 9h1v1h-1zM34 28h1v1h-1zM46 28h1v1h-1zM47 32h1v1h-1zM45 34h1v1h-1z"/>
<path fill="#b3b3b3" d="M32 0h1v1h-1zM32 6h1v1h-1zM27 7h1v1h-1zM31 8h1v1h-1zM34 24h1v1h-1zM47 30h1v1h-1z"/>
<path fill="#b4b4b4" d="M26 0h1v1h-1zM32 1h1v1h-1zM25 2h1v1h-1zM25 3h1v1h-1zM25 5h1v1h-1zM32 5h1v1h-1zM26 6h1v1h-1zM29 8h1v1h-1zM44 26h1v1h-1zM45 27h1v1h-1zM41 34h1v1h-1z"/>
<path fill="#b5b5b5" d="M32 2h1v1h-1zM32 3h1v1h-1zM25 4h1v1h-1zM32 4h1v1h-1zM31 7h1v1h-1zM30 8h1v1h-1zM43 25h1v1h-1zM37 32h1v1h-1z"/>
<path fill="#b6b6b6" d="M27 0h1v1h-1zM31 0h1v1h-1zM26 1h1v1h-1zM28 7h1v1h-1zM36 31h1v1h-1zM47 31h1v1h-1z"/>
<path fill="#b7b7b7" d="M30 0h1v1h-1zM31 1h1v1h-1zM26 2h1v1h-1zM26 5h1v1h-1zM27 6h1v1h-1zM31 6h1v1h-1zM29 7h2v1h-2zM34 25h1v1h-1zM35 29h1v1h-1zM39 33h1v1h-1zM46 33h1v1h-1zM44 34h1v1h-1z"/>
<path fill="#b8b8b8" d="M28 0h2v1h-2zM27 1h1v1h-1zM31 2h1v1h-1zM26 3h1v1h-1zM31 3h1v1h-1zM26 4h1v1h-1zM31 4h1v1h-1zM31 5h1v1h-1zM30 6h1v1h-1z"/>
<path fill="#b9b9b9" d="M28 1h1v1h-1zM30 1h1v1h-1zM27 5h1v1h-1zM28 6h2v1h-2zM35 22h1v1h-1zM42 24h1v1h-1zM42 34h2v1h-2z"/>
<path fill="#bababa" d="M29 1h1v1h-1zM27 2h1v1h-1zM30 2h1v1h-1zM27 3h1v1h-1zM30 3h1v1h-1zM27 4h1v1h-1zM30 4h1v1h-1zM28 5h1v1h-1zM30 5h1v1h-1zM39 21h1v1h-1zM34 27h1v1h-1z"/>
<path fill="#bbbbbb" d="M28 2h2v1h-2zM28 3h2v1h-2zM28 4h2v1h-2zM29 5h1v1h-1zM36 21h1v1h-1zM34 26h1v1h-1z"/>
<path fill="#bdbdbd" d="M41 23h1v1h-1z"/>
<path fill="#bebebe" d="M40 22h1v1h-1z"/>
<path fill="#bfbfbf" d="M35 23h1v1h-1z"/>
<path fill="#c0c0c0" d="M35 28h1v1h-1zM36 30h1v1h-1z"/>
<path fill="#c1c1c1" d="M38 32h1v1h-1zM40 33h1v1h-1z"/>
<path fill="#c2c2c2" d="M46 29h1v1h-1z"/>
<path fill="#c3c3c3" d="M37 21h1v1h-1zM35 24h1v1h-1zM37 31h1v1h-1zM45 33h1v1h-1z"/>
<path fill="#c4c4c4" d="M38 21h1v1h-1zM46 32h1v1h-1z"/>
<path fill="#c6c6c6" d="M35 25h1v1h-1zM43 26h1v1h-1zM44 27h1v1h-1zM45 28h1v1h-1zM36 29h1v1h-1z"/>
<path fill="#c7c7c7" d="M36 22h1v1h-1z"/>
<path fill="#c8c8c8" d="M42 25h1v1h-1zM35 27h1v1h-1zM41 33h1v1h-1z"/>
<path fill="#cacaca" d="M35 26h1v1h-1zM44 33h1v1h-1z"/>
<path fill="#cbcbcb" d="M39 32h1v1h-1z"/>
<path fill="#cccccc" d="M41 24h1v1h-1z"/>
<path fill="#cdcdcd" d="M46 30h1v1h-1zM46 31h1v1h-1zM42 33h1v1h-1z"/>
<path fill="#cecece" d="M36 23h1v1h-1zM36 28h1v1h-1zM37 30h1v1h-1zM43 33h1v1h-1z"/>
<path fill="#cfcfcf" d="M39 22h1v1h-1zM38 31h1v1h-1z"/>
<path fill="#d0d0d0" d="M40 23h1v1h-1z"/>
<path fill="#d1d1d1" d="M37 22h1v1h-1z"/>
<path fill="#d2d2d2" d="M36 24h1v1h-1zM45 32h1v1h-1z"/>
<path fill="#d4d4d4" d="M37 29h1v1h-1zM40 32h1v1h-1z"/>
<path fill="#d5d5d5" d="M36 25h1v1h-1zM43 27h1v1h-1zM45 29h1v1h-1z"/>
<path fill="#d6d6d6" d="M38 22h1v1h-1zM42 26h1v1h-1zM36 27h1v1h-1zM44 28h1v1h-1z"/>
<path fill="#d8d8d8" d="M41 25h1v1h-1zM36 26h1v1h-1z"/>
<path fill="#dadada" d="M37 23h1v1h-1zM38 30h1v1h-1zM39 31h1v1h-1z"/>
<path fill="#dbdbdb" d="M37 28h1v1h-1zM41 32h1v1h-1zM44 32h1v1h-1z"/>
<path fill="#dcdcdc" d="M40 24h1v1h-1z"/>
<path fill="#dddddd" d="M39 23h1v1h-1zM45 31h1v1h-1z"/>
<path fill="#dedede" d="M37 24h1v1h-1zM45 30h1v1h-1z"/>
<path fill="#dfdfdf" d="M42 32h2v1h-2z"/>
<path fill="#e0e0e0" d="M38 23h1v1h-1zM38 29h1v1h-1z"/>
<path fill="#e1e1e1" d="M37 25h1v1h-1zM37 27h1v1h-1z"/>
<path fill="#e2e2e2" d="M41 26h1v1h-1zM42 27h1v1h-1zM43 28h1v1h-1zM44 29h1v1h-1z"/>
<path fill="#e3e3e3" d="M37 26h1v1h-1zM39 30h1v1h-1zM40 31h1v1h-1z"/>
<path fill="#e4e4e4" d="M40 25h1v1h-1zM38 28h1v1h-1z"/>
<path fill="#e5e5e5" d="M38 24h2v1h-2z"/>
<path fill="#e6e6e6" d="M44 31h1v1h-1z"/>
<path fill="#e7e7e7" d="M39 29h1v1h-1z"/>
<path fill="#e8e8e8" d="M38 25h1v1h-1zM44 30h1v1h-1zM41 31h1v1h-1z"/>
<path fill="#e9e9e9" d="M38 27h1v1h-1z"/>
<path fill="#eaeaea" d="M39 25h1v1h-1zM38 26h1v1h-1zM40 26h1v1h-1zM41 27h1v1h-1zM40 30h1v1h-1zM43 31h1v1h-1z"/>
<path fill="#ebebeb" d="M39 28h1v1h-1zM42 28h1v1h-1zM43 29h1v1h-1zM42 31h1v1h-1z"/>
<path fill="#ededed" d="M39 26h1v1h-1zM39 27h1v1h-1z"/>
<path fill="#eeeeee" d="M40 27h1v1h-1zM40 29h1v1h-1zM43 30h1v1h-1z"/>
<path fill="#efefef" d="M40 28h1v1h-1zM41 30h1v1h-1z"/>
<path fill="#f0f0f0" d="M41 28h1v1h-1zM42 29h1v1h-1zM42 30h1v1h-1z"/>
<path fill="#f1f1f1" d="M41 29h1v1h-1z"/>
</g></g></g>
<path d="M433,973 440.9,980.9 449.8,982.7 452.4,988 451.5,993.3 448,997.7 450.7,1002.1 456,1005.7 462.1,1011.8 469.2,1019.8 475.4,1026 480.7,1031.3 482.5,1037.5 487.8,1039.2 488.6,1045.4 489.5,1053.4 493.9,1058.7 501,1060.4 509.8,1060.4 518.7,1061.7 525.7,1064 531.9,1068.4 538.1,1071.9 545.2,1073.7 552.2,1073.7 556.7,1076.3 557.5,1081.6 562.8,1083.4 569,1085.2 575.2,1088.7 582.3,1093.1 587.6,1096.6 591.1,1101.9 593.8,1109 594.6,1115.2 598.2,1119.6 600.8,1126.7 604.4,1133.7 607.9,1139.9 612.3,1144.3 614.1,1149.6 619.4,1155.8 622.9,1162 624.7,1168.2 629.1,1173.5 632.6,1179.7 633.5,1185 637.9,1189.4 639.7,1196.5 641.5,1203.5 645.9,1208.8 652.1,1210.1 659.1,1214.8 666.2,1218.4 673.3,1223.1 680.3,1229 686.2,1234.9 692.1,1241.9 694.5,1249 695.1,1256.1 697.4,1263.1 699.8,1270.2 700.9,1274.9 698,1278.4 693.3,1277.3 689.2,1272.5 685,1267.8 680.3,1266.1 673.3,1266.1 666.2,1265.2 660.3,1263.7 656.8,1259.6 656.2,1253.7 657.4,1249 654.4,1254.9 656.2,1261.9 662.7,1267.8 670.9,1271.4 678,1274.9 682.7,1279.6 688.6,1285.5 695.6,1289 700.9,1294.8 708,1299.5 715,1298.9 722.1,1297.1 729.2,1302.4 735,1307.7 742.1,1313.6 748,1317.7 752.1,1324.2 753.3,1332.4 753.9,1341.9 753.3,1350.1 750.4,1354.8 748,1358.4 750.4,1363.1 755.1,1367.8 761,1371.3 766.8,1374.9 772.7,1377.2 779.8,1379.6 786.9,1384.3 792.8,1389 798.7,1393.1 805.7,1396.6 810.4,1401.9 814,1407.8 815.7,1413.7 817.5,1418.4 821.6,1420.2 826.9,1417.3 832.8,1412.5 836.3,1406.7 837.5,1400.8 835.2,1396.1 830.5,1391.3 826.9,1385.5 824.6,1379.6 822.2,1374.9 815.1,1373.7 812.8,1379.6 808.1,1381.9 802.2,1379.6 798.1,1374.9 796.3,1369 797.5,1363.1 801.6,1359.5 799.8,1353.7 795.1,1347.8 789.2,1341.9 785.7,1336 782.2,1330.1 777.4,1325.4 776.3,1319.5 773.9,1313.6 770.4,1307.7 764.5,1304.2 759.8,1299.5 756.2,1293.6 751.5,1286.5 746.8,1280.6 742.1,1274.7 736.2,1270 732.7,1263 730.3,1255.9 728.6,1250 727.4,1247.8 721.6,1244.3 715.7,1238.4 709.8,1232.5 706.2,1223.1 705.1,1217.2 699.2,1213.7 692.1,1208.9 685,1205.4 680.3,1200.7 676.2,1193.6 675,1184.2 673.3,1174.8 670.9,1165.4 668.6,1157.1 668,1147.7 668,1138.3 673.3,1140.6 680.3,1145.3 687.4,1150 693.3,1148.9 696.8,1145.3 701.5,1147.7 706.2,1152.4 712.1,1156.5 718,1158.3 723.3,1160.6 723.9,1167.7 723.3,1174.8 726.3,1180.7 731,1185.4 733.3,1192.4 735.7,1199.5 740.4,1205.4 745.1,1212.5 748.7,1218.4 751,1225.4 756.9,1231.3 762.8,1234.9 766.3,1240.7 772.2,1245.5 776.9,1250.2 778.1,1256.1 775.7,1261.9 780.5,1263.1 786.3,1261.9 792.2,1260.8 798.1,1261.9 804,1264.3 806.4,1269 804,1274.9 801.7,1280.8 800.5,1285.5 806.4,1286.7 812.3,1287.9 819.3,1286.7 822.9,1291.4 826.4,1297.3 833.5,1298.5 839.3,1300.8 848.1,1312.4 843.4,1316 838.7,1320.7 836.9,1326.6 837.5,1333.6 836.3,1340.7 842.2,1339.5 848.1,1333.6 855.2,1333.6 859.9,1338.3 865.8,1341.9 871.7,1341.9 876.4,1346.6 881.1,1351.3 885.8,1356 888.2,1360.7 895,1365.4 901,1374.7 908.1,1381.8 915.1,1389.8 922.2,1397.7 929.3,1405.7 936.3,1411 943.4,1417.1 948.7,1424.2 953.1,1431.3 954,1440.1 956.7,1448.9 962.8,1456 968.1,1463.1 967.3,1473.7 965.5,1482.5 961.1,1489.6 955.8,1494.9 954.9,1501.9 958.4,1509 962.8,1516.1 969.9,1522.3 975.2,1528.4 982.3,1533.7 991.1,1537.3 999.9,1541.7 1007,1546.1 1014.1,1551.4 1019.4,1558.5 1026.4,1562 1037,1565.5 1047.7,1569.1 1058.3,1571.7 1067.1,1573.5 1074.2,1577.9 1081.2,1585 1088.3,1590.3 1095.4,1593.8 1095.6,1593.8 1095.6,974.4 433,974.4Z" fill="#fff" clip-path="url(#axc)"/>

<path d="M197.9 974.4V1862.9M166.9 1199.2H1095.6M508.4 974.4V1862.9M166.9 1509.7H1095.6M818.9 974.4V1862.9M166.9 1820.2H1095.6" class="grid" fill="none"/>
<g clip-path="url(#axc)"><path d="M433,973 440.9,980.9 449.8,982.7 452.4,988 451.5,993.3 448,997.7 450.7,1002.1 456,1005.7 462.1,1011.8 469.2,1019.8 475.4,1026 480.7,1031.3 482.5,1037.5 487.8,1039.2 488.6,1045.4 489.5,1053.4 493.9,1058.7 501,1060.4 509.8,1060.4 518.7,1061.7 525.7,1064 531.9,1068.4 538.1,1071.9 545.2,1073.7 552.2,1073.7 556.7,1076.3 557.5,1081.6 562.8,1083.4 569,1085.2 575.2,1088.7 582.3,1093.1 587.6,1096.6 591.1,1101.9 593.8,1109 594.6,1115.2 598.2,1119.6 600.8,1126.7 604.4,1133.7 607.9,1139.9 612.3,1144.3 614.1,1149.6 619.4,1155.8 622.9,1162 624.7,1168.2 629.1,1173.5 632.6,1179.7 633.5,1185 637.9,1189.4 639.7,1196.5 641.5,1203.5 645.9,1208.8 652.1,1210.1 659.1,1214.8 666.2,1218.4 673.3,1223.1 680.3,1229 686.2,1234.9 692.1,1241.9 694.5,1249 695.1,1256.1 697.4,1263.1 699.8,1270.2 700.9,1274.9 698,1278.4 693.3,1277.3 689.2,1272.5 685,1267.8 680.3,1266.1 673.3,1266.1 666.2,1265.2 660.3,1263.7 656.8,1259.6 656.2,1253.7 657.4,1249 654.4,1254.9 656.2,1261.9 662.7,1267.8 670.9,1271.4 678,1274.9 682.7,1279.6 688.6,1285.5 695.6,1289 700.9,1294.8 708,1299.5 715,1298.9 722.1,1297.1 729.2,1302.4 735,1307.7 742.1,1313.6 748,1317.7 752.1,1324.2 753.3,1332.4 753.9,1341.9 753.3,1350.1 750.4,1354.8 748,1358.4 750.4,1363.1 755.1,1367.8 761,1371.3 766.8,1374.9 772.7,1377.2 779.8,1379.6 786.9,1384.3 792.8,1389 798.7,1393.1 805.7,1396.6 810.4,1401.9 814,1407.8 815.7,1413.7 817.5,1418.4 821.6,1420.2 826.9,1417.3 832.8,1412.5 836.3,1406.7 837.5,1400.8 835.2,1396.1 830.5,1391.3 826.9,1385.5 824.6,1379.6 822.2,1374.9 815.1,1373.7 812.8,1379.6 808.1,1381.9 802.2,1379.6 798.1,1374.9 796.3,1369 797.5,1363.1 801.6,1359.5 799.8,1353.7 795.1,1347.8 789.2,1341.9 785.7,1336 782.2,1330.1 777.4,1325.4 776.3,1319.5 773.9,1313.6 770.4,1307.7 764.5,1304.2 759.8,1299.5 756.2,1293.6 751.5,1286.5 746.8,1280.6 742.1,1274.7 736.2,1270 732.7,1263 730.3,1255.9 728.6,1250 727.4,1247.8 721.6,1244.3 715.7,1238.4 709.8,1232.5 706.2,1223.1 705.1,1217.2 699.2,1213.7 692.1,1208.9 685,1205.4 680.3,1200.7 676.2,1193.6 675,1184.2 673.3,1174.8 670.9,1165.4 668.6,1157.1 668,1147.7 668,1138.3 673.3,1140.6 680.3,1145.3 687.4,1150 693.3,1148.9 696.8,1145.3 701.5,1147.7 706.2,1152.4 712.1,1156.5 718,1158.3 723.3,1160.6 723.9,1167.7 723.3,1174.8 726.3,1180.7 731,1185.4 733.3,1192.4 735.7,1199.5 740.4,1205.4 745.1,1212.5 748.7,1218.4 751,1225.4 756.9,1231.3 762.8,1234.9 766.3,1240.7 772.2,1245.5 776.9,1250.2 778.1,1256.1 775.7,1261.9 780.5,1263.1 786.3,1261.9 792.2,1260.8 798.1,1261.9 804,1264.3 806.4,1269 804,1274.9 801.7,1280.8 800.5,1285.5 806.4,1286.7 812.3,1287.9 819.3,1286.7 822.9,1291.4 826.4,1297.3 833.5,1298.5 839.3,1300.8 848.1,1312.4 843.4,1316 838.7,1320.7 836.9,1326.6 837.5,1333.6 836.3,1340.7 842.2,1339.5 848.1,1333.6 855.2,1333.6 859.9,1338.3 865.8,1341.9 871.7,1341.9 876.4,1346.6 881.1,1351.3 885.8,1356 888.2,1360.7 895,1365.4 901,1374.7 908.1,1381.8 915.1,1389.8 922.2,1397.7 929.3,1405.7 936.3,1411 943.4,1417.1 948.7,1424.2 953.1,1431.3 954,1440.1 956.7,1448.9 962.8,1456 968.1,1463.1 967.3,1473.7 965.5,1482.5 961.1,1489.6 955.8,1494.9 954.9,1501.9 958.4,1509 962.8,1516.1 969.9,1522.3 975.2,1528.4 982.3,1533.7 991.1,1537.3 999.9,1541.7 1007,1546.1 1014.1,1551.4 1019.4,1558.5 1026.4,1562 1037,1565.5 1047.7,1569.1 1058.3,1571.7 1067.1,1573.5 1074.2,1577.9 1081.2,1585 1088.3,1590.3 1095.4,1593.8" fill="none" stroke="#000" stroke-width="8.3" stroke-linejoin="miter" stroke-miterlimit="3"/>
<path d="M490.4,1071.9 495.7,1070.1 504.5,1071.9 511.6,1069.8 522.2,1070.1 526.6,1072.8 524,1077.2 515.1,1078.1 506.3,1081.6 499.2,1078.1 492.2,1076.3ZM521.3,1093.5 528.4,1096.6 525.7,1102.3 519.2,1100.2ZM553.1,1087.8 562.8,1093.1 562,1099.3 554,1097.5 550.5,1092.2ZM554.9,1102.8 562,1109.9 558.4,1115.7 552.2,1111.7 549.6,1106.4ZM559.3,1220.3 565.5,1223 567.3,1230.9 564.6,1237.1 557.5,1235.3 556.7,1227.4ZM591.1,989.8 595.5,985.3 602.6,988 609.7,994.2 611.4,1003 614.1,1011.8 619.4,1016.3 622,1021.6 615,1024.2 607.9,1018 602.6,1008.3 600.8,999.5 593.8,995.1ZM706.2,1210.1 712.1,1210.1 716.8,1214.8 720.4,1220.7 723.9,1227.8 727.4,1233.7 729.8,1239.6 726.3,1240.7 720.4,1238.4 715.7,1233.7 711,1227.8 707.4,1221.9 705.1,1216ZM741,1216 746.3,1220.7 748.7,1227.8 746.3,1236 740.4,1240.7 736.3,1238.4 738.1,1230.1 739.8,1221.9ZM747.5,1245.5 751.6,1249.6 748.7,1253.7 743.9,1250.8ZM759.8,1274.9 764,1277.3 762.8,1282 757.5,1279.6ZM719.2,1280.8 723.3,1284.3 720.4,1288.4 715.7,1284.9ZM718,1292.6 726.3,1292 729.2,1298.5 725.1,1301.4 719.2,1298.5ZM653.2,1247.2 659.1,1246.6 661.5,1252.5 660.9,1259.6 656.8,1263.1 652.7,1258.4 652.1,1252.5ZM645,1249 649.1,1250.8 648.5,1254.9 643.8,1253.7ZM757.4,1275.3 764.5,1277.1 763.3,1282.4 758,1281.2ZM718.6,1281.2 723.3,1284.2 720.3,1288.9 715.6,1285.3ZM718.6,1291.8 728,1293.6 729.2,1300.6 722.1,1301.8ZM758.6,1294.8 765.7,1297.1 770.4,1303 769.2,1307.7 763.3,1306.5 759.2,1300.6ZM777.4,1318.3 784.5,1317.1 789.2,1323 788.1,1331.3 782.2,1332.4 778,1326.6ZM791.6,1331.3 798.1,1332.4 798.7,1338.3 792.8,1337.8ZM789.2,1344.2 797.5,1345.4 801,1352.5 796.3,1356 790.4,1351.3ZM817.5,1372.5 824.6,1371.3 828.1,1378.4 825.7,1384.3 819.9,1381.9ZM819.9,1311.2 825.7,1313.6 830.5,1317.1 834,1320.7 830.5,1323 824.6,1320.7 820.4,1317.1ZM804.5,1364.3 810.4,1364.8 812.8,1370.1 808.1,1374.9 804,1371.3ZM919.6,1453.4 924.9,1451.6 931,1457.8 939.9,1467.5 936.3,1473.3 929.3,1470.1 923.1,1463.1 918.7,1457.8ZM1035.6,1588.5 1043.2,1588.5 1043.2,1595.9 1035.6,1595.9ZM961.1,1436.6 965.5,1435.7 969.6,1441 965.5,1446.3 961.1,1443.6ZM954,1484.3 964.6,1483.4 969.9,1489.6 966.4,1496.6 955.8,1496.6ZM950.5,1420.7 959.3,1422.4 960.2,1433 952.2,1433ZM667.6,1558.2 674.4,1556.3 677.3,1563.5 671,1565.9ZM749.9,1538.3 755.5,1536.7 757.9,1542.6 752.7,1544.6ZM788.5,1528.9 794.1,1527.3 796.5,1533.3 791.3,1535.3ZM783.7,1543.5 791.7,1541.2 795.1,1549.7 787.7,1552.6ZM838.8,1809.4 844.3,1807.8 846.7,1813.7 841.6,1815.7ZM487.5,1693.8 494.5,1692.8 495,1699.8 488,1700.8ZM630.6,1356.1 640.9,1350.2 645.3,1356.1 637.9,1363.4 631.4,1361.9Z" fill="#000" stroke="#000" stroke-width="1.5" stroke-linejoin="miter"/></g>
<path d="M434,973.3 167.4,1120 749.6,1863.3 1095,1593" fill="none" stroke="#000" stroke-width="7.2" stroke-linejoin="miter" stroke-miterlimit="10"/>
<rect x="166.9" y="974.4" width="928.7" height="888.5" fill="none" stroke="#262626" stroke-width="4.17"/>
<path d="M197.9 974.4v-11.4M197.9 1862.9v11.4M166.9 1199.2h-11.4M1095.6 1199.2h11.4M508.4 974.4v-11.4M508.4 1862.9v11.4M166.9 1509.7h-11.4M1095.6 1509.7h11.4M818.9 974.4v-11.4M818.9 1862.9v11.4M166.9 1820.2h-11.4M1095.6 1820.2h11.4" stroke="#262626" stroke-width="4.17" fill="none"/>
<text x="198.5" y="1942.8" class="t48" style="font-size:48.8px" text-anchor="middle">130°W</text>
<text x="509" y="1942.8" class="t48" style="font-size:48.8px" text-anchor="middle">120°W</text>
<text x="819.5" y="1942.8" class="t48" style="font-size:48.8px" text-anchor="middle">110°W</text>
<text x="136.3" y="1219.1" class="t48" text-anchor="end">30°N</text>
<text x="136.3" y="1529.6" class="t48" text-anchor="end">20°N</text>
<text x="136.3" y="1840.1" class="t48" text-anchor="end">10°N</text>
<text x="904.5" y="1061.8" class="ttl" text-anchor="middle">AVHRR</text>
<text x="834.5" y="1148.5" class="ttl2">SST</text>
<text transform="translate(984.1,1173) scale(0.556,1)" class="prime" font-size="130">′</text>
<text x="835.9" y="1236.7" class="ttl2">(<tspan font-size="80" dy="2.8">°</tspan><tspan dy="-2.8">C)</tspan></text>
<text x="204.4" y="1784" class="big">c<tspan dx="5">)</tspan></text>
<rect x="1128.3" y="974.40" width="44" height="14.38" fill="#800000"/>
<rect x="1128.3" y="988.28" width="44" height="14.38" fill="#8f0000"/>
<rect x="1128.3" y="1002.17" width="44" height="14.38" fill="#9f0000"/>
<rect x="1128.3" y="1016.05" width="44" height="14.38" fill="#af0000"/>
<rect x="1128.3" y="1029.93" width="44" height="14.38" fill="#bf0000"/>
<rect x="1128.3" y="1043.81" width="44" height="14.38" fill="#cf0000"/>
<rect x="1128.3" y="1057.70" width="44" height="14.38" fill="#df0000"/>
<rect x="1128.3" y="1071.58" width="44" height="14.38" fill="#ef0000"/>
<rect x="1128.3" y="1085.46" width="44" height="14.38" fill="#ff0000"/>
<rect x="1128.3" y="1099.35" width="44" height="14.38" fill="#ff1000"/>
<rect x="1128.3" y="1113.23" width="44" height="14.38" fill="#ff2000"/>
<rect x="1128.3" y="1127.11" width="44" height="14.38" fill="#ff3000"/>
<rect x="1128.3" y="1140.99" width="44" height="14.38" fill="#ff4000"/>
<rect x="1128.3" y="1154.88" width="44" height="14.38" fill="#ff5000"/>
<rect x="1128.3" y="1168.76" width="44" height="14.38" fill="#ff6000"/>
<rect x="1128.3" y="1182.64" width="44" height="14.38" fill="#ff7000"/>
<rect x="1128.3" y="1196.53" width="44" height="14.38" fill="#ff8000"/>
<rect x="1128.3" y="1210.41" width="44" height="14.38" fill="#ff8f00"/>
<rect x="1128.3" y="1224.29" width="44" height="14.38" fill="#ff9f00"/>
<rect x="1128.3" y="1238.17" width="44" height="14.38" fill="#ffaf00"/>
<rect x="1128.3" y="1252.06" width="44" height="14.38" fill="#ffbf00"/>
<rect x="1128.3" y="1265.94" width="44" height="14.38" fill="#ffcf00"/>
<rect x="1128.3" y="1279.82" width="44" height="14.38" fill="#ffdf00"/>
<rect x="1128.3" y="1293.70" width="44" height="14.38" fill="#ffef00"/>
<rect x="1128.3" y="1307.59" width="44" height="14.38" fill="#ffff00"/>
<rect x="1128.3" y="1321.47" width="44" height="14.38" fill="#efff10"/>
<rect x="1128.3" y="1335.35" width="44" height="14.38" fill="#dfff20"/>
<rect x="1128.3" y="1349.24" width="44" height="14.38" fill="#cfff30"/>
<rect x="1128.3" y="1363.12" width="44" height="14.38" fill="#bfff40"/>
<rect x="1128.3" y="1377.00" width="44" height="14.38" fill="#afff50"/>
<rect x="1128.3" y="1390.88" width="44" height="14.38" fill="#9fff60"/>
<rect x="1128.3" y="1404.77" width="44" height="14.38" fill="#8fff70"/>
<rect x="1128.3" y="1418.65" width="44" height="14.38" fill="#80ff80"/>
<rect x="1128.3" y="1432.53" width="44" height="14.38" fill="#70ff8f"/>
<rect x="1128.3" y="1446.42" width="44" height="14.38" fill="#60ff9f"/>
<rect x="1128.3" y="1460.30" width="44" height="14.38" fill="#50ffaf"/>
<rect x="1128.3" y="1474.18" width="44" height="14.38" fill="#40ffbf"/>
<rect x="1128.3" y="1488.06" width="44" height="14.38" fill="#30ffcf"/>
<rect x="1128.3" y="1501.95" width="44" height="14.38" fill="#20ffdf"/>
<rect x="1128.3" y="1515.83" width="44" height="14.38" fill="#10ffef"/>
<rect x="1128.3" y="1529.71" width="44" height="14.38" fill="#00ffff"/>
<rect x="1128.3" y="1543.60" width="44" height="14.38" fill="#00efff"/>
<rect x="1128.3" y="1557.48" width="44" height="14.38" fill="#00dfff"/>
<rect x="1128.3" y="1571.36" width="44" height="14.38" fill="#00cfff"/>
<rect x="1128.3" y="1585.24" width="44" height="14.38" fill="#00bfff"/>
<rect x="1128.3" y="1599.13" width="44" height="14.38" fill="#00afff"/>
<rect x="1128.3" y="1613.01" width="44" height="14.38" fill="#009fff"/>
<rect x="1128.3" y="1626.89" width="44" height="14.38" fill="#008fff"/>
<rect x="1128.3" y="1640.78" width="44" height="14.38" fill="#0080ff"/>
<rect x="1128.3" y="1654.66" width="44" height="14.38" fill="#0070ff"/>
<rect x="1128.3" y="1668.54" width="44" height="14.38" fill="#0060ff"/>
<rect x="1128.3" y="1682.42" width="44" height="14.38" fill="#0050ff"/>
<rect x="1128.3" y="1696.31" width="44" height="14.38" fill="#0040ff"/>
<rect x="1128.3" y="1710.19" width="44" height="14.38" fill="#0030ff"/>
<rect x="1128.3" y="1724.07" width="44" height="14.38" fill="#0020ff"/>
<rect x="1128.3" y="1737.95" width="44" height="14.38" fill="#0010ff"/>
<rect x="1128.3" y="1751.84" width="44" height="14.38" fill="#0000ff"/>
<rect x="1128.3" y="1765.72" width="44" height="14.38" fill="#0000ef"/>
<rect x="1128.3" y="1779.60" width="44" height="14.38" fill="#0000df"/>
<rect x="1128.3" y="1793.49" width="44" height="14.38" fill="#0000cf"/>
<rect x="1128.3" y="1807.37" width="44" height="14.38" fill="#0000bf"/>
<rect x="1128.3" y="1821.25" width="44" height="14.38" fill="#0000af"/>
<rect x="1128.3" y="1835.13" width="44" height="14.38" fill="#00009f"/>
<rect x="1128.3" y="1849.02" width="44" height="14.38" fill="#00008f"/>
<rect x="1128.3" y="974.4" width="44" height="888.5" fill="none" stroke="#262626" stroke-width="4.17"/>
<text x="1192.1" y="1156.1" class="t45">3</text>
<text x="1192.1" y="1337.4" class="t45">2</text>
<text x="1192.1" y="1518.6" class="t45">1</text>
<text x="1192.1" y="1699.9" class="t45">0</text>
<path d="M1172.3 1137.5h-11M1172.3 1318.8h-11M1172.3 1500h-11M1172.3 1681.3h-11" stroke="#262626" stroke-width="4.17" fill="none"/>
</g>
<g id="panel-d">
<defs><clipPath id="clipd"><path d="M1719,973.3 1452.4,1120 2034.6,1863.3 2380,1593 2380.6,1593 2380.6,974.4 1719,974.4Z"/></clipPath></defs>
<defs><clipPath id="axd"><rect x="1449.9" y="972.4" width="932.7" height="892.5"/></clipPath></defs>
<defs><filter id="jetd" filterUnits="userSpaceOnUse" x="1381.9" y="904.4" width="1078" height="1036" color-interpolation-filters="sRGB"><feGaussianBlur in="SourceGraphic" stdDeviation="16" result="b"/><feComponentTransfer in="b"><feFuncR type="discrete" tableValues="0.000 0.000 0.000 0.000 0.000 0.000 0.000 0.000 0.000 0.000 0.000 0.000 0.000 0.000 0.000 0.000 0.000 0.000 0.000 0.000 0.000 0.000 0.000 0.000 0.062 0.125 0.188 0.250 0.312 0.375 0.438 0.500 0.562 0.625 0.688 0.750 0.812 0.875 0.938 1.000 1.000 1.000 1.000 1.000 1.000 1.000 1.000 1.000 1.000 1.000 1.000 1.000 1.000 1.000 1.000 1.000 0.938 0.875 0.812 0.750 0.688 0.625 0.562 0.500"/><feFuncG type="discrete" tableValues="0.000 0.000 0.000 0.000 0.000 0.000 0.000 0.000 0.062 0.125 0.188 0.250 0.312 0.375 0.438 0.500 0.562 0.625 0.688 0.750 0.812 0.875 0.938 1.000 1.000 1.000 1.000 1.000 1.000 1.000 1.000 1.000 1.000 1.000 1.000 1.000 1.000 1.000 1.000 1.000 0.938 0.875 0.812 0.750 0.688 0.625 0.562 0.500 0.438 0.375 0.312 0.250 0.188 0.125 0.062 0.000 0.000 0.000 0.000 0.000 0.000 0.000 0.000 0.000"/><feFuncB type="discrete" tableValues="0.562 0.625 0.688 0.750 0.812 0.875 0.938 1.000 1.000 1.000 1.000 1.000 1.000 1.000 1.000 1.000 1.000 1.000 1.000 1.000 1.000 1.000 1.000 1.000 0.938 0.875 0.812 0.750 0.688 0.625 0.562 0.500 0.438 0.375 0.312 0.250 0.188 0.125 0.062 0.000 0.000 0.000 0.000 0.000 0.000 0.000 0.000 0.000 0.000 0.000 0.000 0.000 0.000 0.000 0.000 0.000 0.000 0.000 0.000 0.000 0.000 0.000 0.000 0.000"/></feComponentTransfer></filter></defs>
<g clip-path="url(#clipd)"><g filter="url(#jetd)"><g transform="translate(1381.9,904.4) scale(14)" shape-rendering="crispEdges">
<path fill="#1b1b1b" d="M76 5h1v1h-1zM76 6h1v1h-1zM76 7h1v1h-1zM75 8h2v1h-2zM75 9h2v1h-2zM75 10h2v1h-2zM76 11h1v1h-1zM76 12h1v1h-1z"/>
<path fill="#1c1c1c" d="M76 3h1v1h-1zM75 4h2v1h-2zM75 5h1v1h-1zM74 6h2v1h-2zM74 7h2v1h-2zM74 8h1v1h-1zM73 9h2v1h-2zM73 10h2v1h-2zM73 11h3v1h-3zM74 12h2v1h-2zM75 13h2v1h-2zM76 14h1v1h-1z"/>
<path fill="#1d1d1d" d="M76 1h1v1h-1zM75 2h2v1h-2zM75 3h1v1h-1zM74 4h1v1h-1zM74 5h1v1h-1zM73 6h1v1h-1zM73 7h1v1h-1zM72 8h2v1h-2zM72 9h1v1h-1zM71 10h2v1h-2zM71 11h2v1h-2zM72 12h2v1h-2zM72 13h3v1h-3zM73 14h3v1h-3zM75 15h2v1h-2z"/>
<path fill="#1e1e1e" d="M76 0h1v1h-1zM75 1h1v1h-1zM74 2h1v1h-1zM74 3h1v1h-1zM73 4h1v1h-1zM72 5h2v1h-2zM72 6h1v1h-1zM71 7h2v1h-2zM71 8h1v1h-1zM70 9h2v1h-2zM70 10h1v1h-1zM70 11h1v1h-1zM69 12h3v1h-3zM70 13h2v1h-2zM71 14h2v1h-2zM72 15h3v1h-3zM74 16h3v1h-3z"/>
<path fill="#1f1f1f" d="M75 0h1v1h-1zM74 1h1v1h-1zM73 2h1v1h-1zM73 3h1v1h-1zM72 4h1v1h-1zM71 5h1v1h-1zM71 6h1v1h-1zM70 7h1v1h-1zM69 8h2v1h-2zM69 9h1v1h-1zM68 10h2v1h-2zM68 11h2v1h-2zM68 12h1v1h-1zM68 13h2v1h-2zM68 14h3v1h-3zM69 15h3v1h-3zM71 16h3v1h-3zM74 17h3v1h-3z"/>
<path fill="#202020" d="M74 0h1v1h-1zM73 1h1v1h-1zM72 2h1v1h-1zM72 3h1v1h-1zM71 4h1v1h-1zM70 5h1v1h-1zM70 6h1v1h-1zM69 7h1v1h-1zM68 8h1v1h-1zM67 9h2v1h-2zM67 10h1v1h-1zM66 11h2v1h-2zM66 12h2v1h-2zM66 13h2v1h-2zM66 14h2v1h-2zM66 15h3v1h-3zM68 16h3v1h-3zM71 17h3v1h-3zM74 18h3v1h-3z"/>
<path fill="#212121" d="M73 0h1v1h-1zM72 1h1v1h-1zM71 2h1v1h-1zM71 3h1v1h-1zM70 4h1v1h-1zM69 5h1v1h-1zM68 6h2v1h-2zM68 7h1v1h-1zM67 8h1v1h-1zM66 9h1v1h-1zM66 10h1v1h-1zM65 11h1v1h-1zM64 12h2v1h-2zM64 13h2v1h-2zM64 14h2v1h-2zM64 15h2v1h-2zM65 16h3v1h-3zM67 17h4v1h-4zM71 18h3v1h-3zM75 19h2v1h-2z"/>
<path fill="#222222" d="M72 0h1v1h-1zM71 1h1v1h-1zM70 2h1v1h-1zM70 3h1v1h-1zM69 4h1v1h-1zM68 5h1v1h-1zM67 7h1v1h-1zM66 8h1v1h-1zM65 9h1v1h-1zM65 10h1v1h-1zM64 11h1v1h-1zM63 12h1v1h-1zM63 13h1v1h-1zM62 14h2v1h-2zM62 15h2v1h-2zM63 16h2v1h-2zM64 17h3v1h-3zM67 18h4v1h-4zM72 19h3v1h-3zM75 20h2v1h-2z"/>
<path fill="#232323" d="M71 0h1v1h-1zM70 1h1v1h-1zM69 3h1v1h-1zM68 4h1v1h-1zM67 5h1v1h-1zM67 6h1v1h-1zM66 7h1v1h-1zM65 8h1v1h-1zM64 9h1v1h-1zM64 10h1v1h-1zM63 11h1v1h-1zM62 12h1v1h-1zM62 13h1v1h-1zM61 14h1v1h-1zM61 15h1v1h-1zM61 16h2v1h-2zM62 17h2v1h-2zM64 18h3v1h-3zM68 19h4v1h-4zM73 20h2v1h-2zM76 21h1v1h-1z"/>
<path fill="#242424" d="M70 0h1v1h-1zM69 2h1v1h-1zM68 3h1v1h-1zM67 4h1v1h-1zM66 6h1v1h-1zM65 7h1v1h-1zM64 8h1v1h-1zM63 9h1v1h-1zM63 10h1v1h-1zM62 11h1v1h-1zM61 12h1v1h-1zM61 13h1v1h-1zM60 14h1v1h-1zM60 15h1v1h-1zM60 16h1v1h-1zM60 17h2v1h-2zM61 18h3v1h-3zM64 19h4v1h-4zM69 20h4v1h-4zM74 21h2v1h-2z"/>
<path fill="#252525" d="M69 1h1v1h-1zM68 2h1v1h-1zM67 3h1v1h-1zM66 5h1v1h-1zM65 6h1v1h-1zM64 7h1v1h-1zM63 8h1v1h-1zM62 10h1v1h-1zM61 11h1v1h-1zM60 12h1v1h-1zM60 13h1v1h-1zM59 14h1v1h-1zM59 15h1v1h-1zM59 16h1v1h-1zM59 17h1v1h-1zM59 18h2v1h-2zM61 19h3v1h-3zM66 20h3v1h-3zM71 21h3v1h-3zM75 22h2v1h-2z"/>
<path fill="#262626" d="M69 0h1v1h-1zM68 1h1v1h-1zM67 2h1v1h-1zM66 4h1v1h-1zM65 5h1v1h-1zM64 6h1v1h-1zM63 7h1v1h-1zM62 9h1v1h-1zM61 10h1v1h-1zM60 11h1v1h-1zM59 13h1v1h-1zM58 14h1v1h-1zM58 15h1v1h-1zM58 16h1v1h-1zM58 17h1v1h-1zM58 18h1v1h-1zM59 19h2v1h-2zM62 20h4v1h-4zM68 21h3v1h-3zM73 22h2v1h-2zM76 23h1v1h-1z"/>
<path fill="#272727" d="M68 0h1v1h-1zM67 1h1v1h-1zM66 3h1v1h-1zM65 4h1v1h-1zM64 5h1v1h-1zM62 8h1v1h-1zM61 9h1v1h-1zM60 10h1v1h-1zM59 12h1v1h-1zM58 13h1v1h-1zM57 15h1v1h-1zM57 16h1v1h-1zM57 17h1v1h-1zM57 18h1v1h-1zM58 19h1v1h-1zM60 20h2v1h-2zM64 21h4v1h-4zM70 22h3v1h-3zM74 23h2v1h-2z"/>
<path fill="#282828" d="M67 0h1v1h-1zM66 2h1v1h-1zM65 3h1v1h-1zM64 4h1v1h-1zM63 6h1v1h-1zM62 7h1v1h-1zM61 8h1v1h-1zM60 9h1v1h-1zM59 11h1v1h-1zM58 12h1v1h-1zM57 14h1v1h-1zM56 16h1v1h-1zM56 17h1v1h-1zM56 18h1v1h-1zM57 19h1v1h-1zM58 20h2v1h-2zM61 21h3v1h-3zM67 22h3v1h-3zM72 23h2v1h-2zM75 24h2v1h-2z"/>
<path fill="#292929" d="M66 1h1v1h-1zM65 2h1v1h-1zM63 5h1v1h-1zM62 6h1v1h-1zM61 7h1v1h-1zM59 10h1v1h-1zM58 11h1v1h-1zM57 13h1v1h-1zM56 14h1v1h-1zM56 15h1v1h-1zM56 19h1v1h-1zM57 20h1v1h-1zM59 21h2v1h-2zM64 22h3v1h-3zM70 23h2v1h-2zM74 24h1v1h-1zM76 25h1v1h-1z"/>
<path fill="#2a2a2a" d="M66 0h1v1h-1zM64 3h1v1h-1zM63 4h1v1h-1zM62 5h1v1h-1zM60 8h1v1h-1zM59 9h1v1h-1zM57 12h1v1h-1zM56 13h1v1h-1zM55 15h1v1h-1zM55 16h1v1h-1zM55 17h1v1h-1zM55 18h1v1h-1zM58 21h1v1h-1zM61 22h3v1h-3zM67 23h3v1h-3zM72 24h2v1h-2zM75 25h1v1h-1z"/>
<path fill="#2b2b2b" d="M65 1h1v1h-1zM64 2h1v1h-1zM63 3h1v1h-1zM61 6h1v1h-1zM60 7h1v1h-1zM58 10h1v1h-1zM57 11h1v1h-1zM55 14h1v1h-1zM55 19h1v1h-1zM56 20h1v1h-1zM57 21h1v1h-1zM60 22h1v1h-1zM65 23h2v1h-2zM70 24h2v1h-2zM73 25h2v1h-2zM76 26h1v1h-1z"/>
<path fill="#2c2c2c" d="M65 0h1v1h-1zM64 1h1v1h-1zM62 4h1v1h-1zM61 5h1v1h-1zM59 8h1v1h-1zM58 9h1v1h-1zM56 12h1v1h-1zM55 13h1v1h-1zM54 15h1v1h-1zM54 16h1v1h-1zM54 17h1v1h-1zM54 18h1v1h-1zM55 20h1v1h-1zM56 21h1v1h-1zM58 22h2v1h-2zM62 23h3v1h-3zM68 24h2v1h-2zM72 25h1v1h-1zM75 26h1v1h-1z"/>
<path fill="#2d2d2d" d="M63 2h1v1h-1zM62 3h1v1h-1zM60 6h1v1h-1zM59 7h1v1h-1zM57 10h1v1h-1zM56 11h1v1h-1zM54 14h1v1h-1zM54 19h1v1h-1zM57 22h1v1h-1zM60 23h2v1h-2zM66 24h2v1h-2zM70 25h2v1h-2zM73 26h2v1h-2zM76 27h1v1h-1z"/>
<path fill="#2e2e2e" d="M64 0h1v1h-1zM63 1h1v1h-1zM61 4h1v1h-1zM60 5h1v1h-1zM58 8h1v1h-1zM57 9h1v1h-1zM55 12h1v1h-1zM53 16h1v1h-1zM53 17h1v1h-1zM54 20h1v1h-1zM55 21h1v1h-1zM59 23h1v1h-1zM64 24h2v1h-2zM68 25h2v1h-2zM72 26h1v1h-1zM74 27h2v1h-2z"/>
<path fill="#2f2f2f" d="M63 0h1v1h-1zM62 2h1v1h-1zM61 3h1v1h-1zM59 6h1v1h-1zM58 7h1v1h-1zM56 10h1v1h-1zM55 11h1v1h-1zM54 13h1v1h-1zM53 15h1v1h-1zM53 18h1v1h-1zM56 22h1v1h-1zM58 23h1v1h-1zM62 24h2v1h-2zM67 25h1v1h-1zM70 26h2v1h-2zM73 27h1v1h-1zM75 28h2v1h-2z"/>
<path fill="#303030" d="M62 1h1v1h-1zM60 4h1v1h-1zM59 5h1v1h-1zM57 8h1v1h-1zM56 9h1v1h-1zM54 12h1v1h-1zM53 14h1v1h-1zM53 19h1v1h-1zM57 23h1v1h-1zM60 24h2v1h-2zM65 25h2v1h-2zM69 26h1v1h-1zM72 27h1v1h-1zM74 28h1v1h-1zM76 29h1v1h-1z"/>
<path fill="#313131" d="M62 0h1v1h-1zM61 2h1v1h-1zM60 3h1v1h-1zM58 6h1v1h-1zM57 7h1v1h-1zM55 10h1v1h-1zM53 13h1v1h-1zM52 16h1v1h-1zM52 17h1v1h-1zM53 20h1v1h-1zM54 21h1v1h-1zM55 22h1v1h-1zM56 23h1v1h-1zM59 24h1v1h-1zM63 25h2v1h-2zM68 26h1v1h-1zM71 27h1v1h-1zM73 28h1v1h-1zM75 29h1v1h-1z"/>
<path fill="#323232" d="M61 1h1v1h-1zM59 4h1v1h-1zM56 8h1v1h-1zM54 11h1v1h-1zM52 15h1v1h-1zM52 18h1v1h-1zM58 24h1v1h-1zM62 25h1v1h-1zM66 26h2v1h-2zM70 27h1v1h-1zM72 28h1v1h-1zM74 29h1v1h-1zM76 30h1v1h-1z"/>
<path fill="#333333" d="M60 2h1v1h-1zM58 5h1v1h-1zM57 6h1v1h-1zM55 9h1v1h-1zM53 12h1v1h-1zM52 14h1v1h-1zM52 19h1v1h-1zM54 22h1v1h-1zM57 24h1v1h-1zM60 25h2v1h-2zM65 26h1v1h-1zM68 27h2v1h-2zM71 28h1v1h-1zM73 29h1v1h-1zM75 30h1v1h-1z"/>
<path fill="#343434" d="M61 0h1v1h-1zM60 1h1v1h-1zM59 3h1v1h-1zM58 4h1v1h-1zM56 7h1v1h-1zM54 10h1v1h-1zM52 13h1v1h-1zM53 21h1v1h-1zM55 23h1v1h-1zM59 25h1v1h-1zM63 26h2v1h-2zM67 27h1v1h-1zM70 28h1v1h-1zM72 29h1v1h-1zM74 30h1v1h-1zM76 31h1v1h-1z"/>
<path fill="#353535" d="M59 2h1v1h-1zM57 5h1v1h-1zM55 8h1v1h-1zM53 11h1v1h-1zM51 15h1v1h-1zM51 16h1v1h-1zM51 17h1v1h-1zM52 20h1v1h-1zM56 24h1v1h-1zM58 25h1v1h-1zM62 26h1v1h-1zM66 27h1v1h-1zM69 28h1v1h-1zM71 29h1v1h-1zM73 30h1v1h-1zM75 31h1v1h-1zM76 32h1v1h-1z"/>
<path fill="#363636" d="M60 0h1v1h-1zM58 3h1v1h-1zM56 6h1v1h-1zM54 9h1v1h-1zM52 12h1v1h-1zM51 14h1v1h-1zM51 18h1v1h-1zM54 23h1v1h-1zM61 26h1v1h-1zM65 27h1v1h-1zM68 28h1v1h-1zM70 29h1v1h-1zM72 30h1v1h-1zM74 31h1v1h-1z"/>
<path fill="#373737" d="M59 1h1v1h-1zM57 4h1v1h-1zM55 7h1v1h-1zM53 10h1v1h-1zM53 22h1v1h-1zM55 24h1v1h-1zM57 25h1v1h-1zM60 26h1v1h-1zM63 27h2v1h-2zM67 28h1v1h-1zM69 29h1v1h-1zM71 30h1v1h-1zM73 31h1v1h-1zM75 32h1v1h-1zM76 33h1v1h-1zM59 53h1v1h-1z"/>
<path fill="#383838" d="M59 0h1v1h-1zM58 2h1v1h-1zM56 5h1v1h-1zM54 8h1v1h-1zM52 11h1v1h-1zM51 13h1v1h-1zM51 19h1v1h-1zM52 21h1v1h-1zM59 26h1v1h-1zM62 27h1v1h-1zM66 28h1v1h-1zM68 29h1v1h-1zM72 31h1v1h-1zM74 32h1v1h-1zM75 33h1v1h-1zM59 52h1v1h-1zM58 53h1v1h-1zM60 53h1v1h-1zM58 54h3v1h-3z"/>
<path fill="#393939" d="M58 1h1v1h-1zM57 3h1v1h-1zM55 6h1v1h-1zM53 9h1v1h-1zM50 15h1v1h-1zM50 16h1v1h-1zM50 17h1v1h-1zM56 25h1v1h-1zM58 26h1v1h-1zM61 27h1v1h-1zM65 28h1v1h-1zM67 29h1v1h-1zM70 30h1v1h-1zM73 32h1v1h-1zM76 34h1v1h-1zM58 52h1v1h-1zM60 52h1v1h-1zM61 53h1v1h-1zM61 54h1v1h-1z"/>
<path fill="#3a3a3a" d="M57 2h1v1h-1zM56 4h1v1h-1zM54 7h1v1h-1zM52 10h1v1h-1zM51 12h1v1h-1zM50 14h1v1h-1zM51 20h1v1h-1zM53 23h1v1h-1zM54 24h1v1h-1zM60 27h1v1h-1zM64 28h1v1h-1zM66 29h1v1h-1zM69 30h1v1h-1zM71 31h1v1h-1zM72 32h1v1h-1zM74 33h1v1h-1zM75 34h1v1h-1zM76 35h1v1h-1zM59 51h2v1h-2zM57 52h1v1h-1zM61 52h1v1h-1zM57 53h1v1h-1zM57 54h1v1h-1zM58 55h3v1h-3z"/>
<path fill="#3b3b3b" d="M58 0h1v1h-1zM56 3h1v1h-1zM55 5h1v1h-1zM53 8h1v1h-1zM50 18h1v1h-1zM55 25h1v1h-1zM57 26h1v1h-1zM63 28h1v1h-1zM68 30h1v1h-1zM70 31h1v1h-1zM73 33h1v1h-1zM74 34h1v1h-1zM75 35h1v1h-1zM76 36h1v1h-1zM58 51h1v1h-1zM61 51h1v1h-1zM62 52h1v1h-1zM62 53h1v1h-1zM62 54h1v1h-1zM61 55h2v1h-2z"/>
<path fill="#3c3c3c" d="M57 1h1v1h-1zM55 4h1v1h-1zM54 6h1v1h-1zM52 9h1v1h-1zM51 11h1v1h-1zM50 13h1v1h-1zM52 22h1v1h-1zM59 27h1v1h-1zM62 28h1v1h-1zM65 29h1v1h-1zM67 30h1v1h-1zM69 31h1v1h-1zM71 32h1v1h-1zM72 33h1v1h-1zM76 37h1v1h-1zM57 51h1v1h-1zM62 51h1v1h-1zM63 52h1v1h-1zM56 53h1v1h-1zM63 53h1v1h-1zM56 54h1v1h-1zM63 54h1v1h-1zM57 55h1v1h-1zM63 55h1v1h-1zM59 56h3v1h-3z"/>
<path fill="#3d3d3d" d="M56 2h1v1h-1zM53 7h1v1h-1zM50 12h1v1h-1zM49 15h1v1h-1zM49 16h1v1h-1zM50 19h1v1h-1zM56 26h1v1h-1zM58 27h1v1h-1zM61 28h1v1h-1zM64 29h1v1h-1zM66 30h1v1h-1zM68 31h1v1h-1zM70 32h1v1h-1zM73 34h1v1h-1zM74 35h1v1h-1zM75 36h1v1h-1zM76 38h1v1h-1zM59 50h2v1h-2zM63 51h1v1h-1zM56 52h1v1h-1zM64 52h1v1h-1zM64 53h2v1h-2zM64 54h2v1h-2zM56 55h1v1h-1zM64 55h2v1h-2zM58 56h1v1h-1zM62 56h2v1h-2z"/>
<path fill="#3e3e3e" d="M57 0h1v1h-1zM55 3h1v1h-1zM54 5h1v1h-1zM52 8h1v1h-1zM51 10h1v1h-1zM49 14h1v1h-1zM49 17h1v1h-1zM51 21h1v1h-1zM60 28h1v1h-1zM63 29h1v1h-1zM65 30h1v1h-1zM69 32h1v1h-1zM71 33h1v1h-1zM72 34h1v1h-1zM73 35h1v1h-1zM74 36h1v1h-1zM75 37h1v1h-1zM76 39h1v1h-1zM58 50h1v1h-1zM61 50h2v1h-2zM56 51h1v1h-1zM64 51h1v1h-1zM65 52h1v1h-1zM55 53h1v1h-1zM66 53h1v1h-1zM55 54h1v1h-1zM66 54h2v1h-2zM66 55h2v1h-2zM57 56h1v1h-1zM64 56h3v1h-3zM60 57h5v1h-5z"/>
<path fill="#3f3f3f" d="M56 1h1v1h-1zM53 6h1v1h-1zM53 24h1v1h-1zM54 25h1v1h-1zM57 27h1v1h-1zM62 29h1v1h-1zM67 31h1v1h-1zM70 33h1v1h-1zM71 34h1v1h-1zM74 37h1v1h-1zM75 38h1v1h-1zM76 40h1v1h-1zM57 50h1v1h-1zM63 50h2v1h-2zM65 51h1v1h-1zM55 52h1v1h-1zM66 52h2v1h-2zM67 53h2v1h-2zM68 54h2v1h-2zM55 55h1v1h-1zM68 55h2v1h-2zM56 56h1v1h-1zM67 56h2v1h-2zM58 57h2v1h-2zM65 57h3v1h-3zM62 58h2v1h-2z"/>
<path fill="#404040" d="M55 2h1v1h-1zM54 4h1v1h-1zM52 7h1v1h-1zM51 9h1v1h-1zM50 11h1v1h-1zM49 13h1v1h-1zM49 18h1v1h-1zM52 23h1v1h-1zM55 26h1v1h-1zM59 28h1v1h-1zM64 30h1v1h-1zM66 31h1v1h-1zM68 32h1v1h-1zM69 33h1v1h-1zM72 35h1v1h-1zM73 36h1v1h-1zM74 38h1v1h-1zM75 39h1v1h-1zM76 41h1v1h-1zM76 42h1v1h-1zM50 47h1v1h-1zM76 48h1v1h-1zM59 49h3v1h-3zM76 49h1v1h-1zM56 50h1v1h-1zM65 50h1v1h-1zM76 50h1v1h-1zM55 51h1v1h-1zM66 51h2v1h-2zM75 51h2v1h-2zM68 52h2v1h-2zM74 52h3v1h-3zM69 53h8v1h-8zM70 54h7v1h-7zM70 55h7v1h-7zM69 56h8v1h-8zM57 57h1v1h-1zM68 57h5v1h-5zM75 57h2v1h-2zM60 58h2v1h-2zM64 58h5v1h-5z"/>
<path fill="#414141" d="M56 0h1v1h-1zM53 5h1v1h-1zM50 20h1v1h-1zM61 29h1v1h-1zM63 30h1v1h-1zM65 31h1v1h-1zM67 32h1v1h-1zM70 34h1v1h-1zM71 35h1v1h-1zM72 36h1v1h-1zM73 37h1v1h-1zM74 39h1v1h-1zM75 40h1v1h-1zM75 41h1v1h-1zM76 43h1v1h-1zM76 44h1v1h-1zM76 45h1v1h-1zM76 46h1v1h-1zM76 47h1v1h-1zM75 48h1v1h-1zM58 49h1v1h-1zM62 49h2v1h-2zM75 49h1v1h-1zM66 50h1v1h-1zM74 50h2v1h-2zM68 51h7v1h-7zM70 52h4v1h-4zM54 53h1v1h-1zM54 54h1v1h-1zM55 56h1v1h-1zM56 57h1v1h-1zM73 57h2v1h-2zM59 58h1v1h-1zM69 58h8v1h-8zM61 59h10v1h-10zM75 59h2v1h-2z"/>
<path fill="#424242" d="M55 1h1v1h-1zM54 3h1v1h-1zM51 8h1v1h-1zM50 10h1v1h-1zM49 12h1v1h-1zM48 15h1v1h-1zM51 22h1v1h-1zM56 27h1v1h-1zM58 28h1v1h-1zM60 29h1v1h-1zM68 33h1v1h-1zM69 34h1v1h-1zM72 37h1v1h-1zM73 38h1v1h-1zM74 40h1v1h-1zM75 42h1v1h-1zM75 43h1v1h-1zM75 44h1v1h-1zM75 45h1v1h-1zM75 46h1v1h-1zM49 47h1v1h-1zM51 47h1v1h-1zM75 47h1v1h-1zM50 48h1v1h-1zM74 48h1v1h-1zM57 49h1v1h-1zM64 49h1v1h-1zM73 49h2v1h-2zM55 50h1v1h-1zM67 50h7v1h-7zM54 51h1v1h-1zM54 52h1v1h-1zM54 55h1v1h-1zM57 58h2v1h-2zM60 59h1v1h-1zM71 59h4v1h-4zM64 60h13v1h-13z"/>
<path fill="#434343" d="M54 2h1v1h-1zM53 4h1v1h-1zM52 6h1v1h-1zM48 14h1v1h-1zM48 16h1v1h-1zM62 30h1v1h-1zM64 31h1v1h-1zM66 32h1v1h-1zM10 33h4v1h-4zM67 33h1v1h-1zM9 34h6v1h-6zM9 35h7v1h-7zM70 35h1v1h-1zM9 36h8v1h-8zM71 36h1v1h-1zM10 37h7v1h-7zM11 38h6v1h-6zM72 38h1v1h-1zM13 39h3v1h-3zM73 39h1v1h-1zM74 41h1v1h-1zM74 42h1v1h-1zM74 43h1v1h-1zM74 44h1v1h-1zM74 45h1v1h-1zM50 46h1v1h-1zM74 46h1v1h-1zM73 47h2v1h-2zM49 48h1v1h-1zM51 48h1v1h-1zM59 48h3v1h-3zM73 48h1v1h-1zM56 49h1v1h-1zM65 49h1v1h-1zM71 49h2v1h-2zM54 50h1v1h-1zM55 57h1v1h-1zM58 59h2v1h-2zM61 60h3v1h-3zM67 61h10v1h-10z"/>
<path fill="#444444" d="M55 0h1v1h-1zM51 7h1v1h-1zM50 9h1v1h-1zM49 11h1v1h-1zM48 17h1v1h-1zM49 19h1v1h-1zM53 25h1v1h-1zM54 26h1v1h-1zM57 28h1v1h-1zM59 29h1v1h-1zM61 30h1v1h-1zM10 31h3v1h-3zM63 31h1v1h-1zM9 32h6v1h-6zM65 32h1v1h-1zM8 33h2v1h-2zM14 33h2v1h-2zM7 34h2v1h-2zM15 34h2v1h-2zM68 34h1v1h-1zM7 35h2v1h-2zM16 35h1v1h-1zM69 35h1v1h-1zM7 36h2v1h-2zM17 36h1v1h-1zM70 36h1v1h-1zM7 37h3v1h-3zM17 37h2v1h-2zM71 37h1v1h-1zM8 38h3v1h-3zM17 38h2v1h-2zM9 39h4v1h-4zM16 39h3v1h-3zM72 39h1v1h-1zM12 40h5v1h-5zM73 40h1v1h-1zM73 41h1v1h-1zM73 42h1v1h-1zM73 45h1v1h-1zM49 46h1v1h-1zM73 46h1v1h-1zM72 47h1v1h-1zM52 48h1v1h-1zM57 48h2v1h-2zM62 48h2v1h-2zM71 48h2v1h-2zM50 49h2v1h-2zM54 49h2v1h-2zM66 49h5v1h-5zM53 51h1v1h-1zM53 52h1v1h-1zM53 53h1v1h-1zM54 56h1v1h-1zM56 58h1v1h-1zM57 59h1v1h-1zM59 60h2v1h-2zM63 61h4v1h-4zM70 62h7v1h-7z"/>
<path fill="#454545" d="M54 1h1v1h-1zM53 3h1v1h-1zM52 5h1v1h-1zM48 13h1v1h-1zM50 21h1v1h-1zM52 24h1v1h-1zM55 27h1v1h-1zM9 30h4v1h-4zM8 31h2v1h-2zM13 31h2v1h-2zM7 32h2v1h-2zM15 32h1v1h-1zM6 33h2v1h-2zM16 33h1v1h-1zM66 33h1v1h-1zM6 34h1v1h-1zM17 34h1v1h-1zM5 35h2v1h-2zM17 35h1v1h-1zM6 36h1v1h-1zM18 36h1v1h-1zM6 37h1v1h-1zM19 37h1v1h-1zM6 38h2v1h-2zM19 38h1v1h-1zM71 38h1v1h-1zM7 39h2v1h-2zM19 39h1v1h-1zM9 40h3v1h-3zM17 40h3v1h-3zM72 40h1v1h-1zM11 41h7v1h-7zM73 43h1v1h-1zM73 44h1v1h-1zM72 45h1v1h-1zM51 46h1v1h-1zM72 46h1v1h-1zM52 47h1v1h-1zM71 47h1v1h-1zM56 48h1v1h-1zM64 48h2v1h-2zM69 48h2v1h-2zM52 49h2v1h-2zM53 50h1v1h-1zM53 54h1v1h-1zM55 58h1v1h-1zM58 60h1v1h-1zM61 61h2v1h-2zM65 62h5v1h-5zM72 63h5v1h-5z"/>
<path fill="#464646" d="M51 6h1v1h-1zM50 8h1v1h-1zM49 10h1v1h-1zM9 29h5v1h-5zM58 29h1v1h-1zM7 30h2v1h-2zM13 30h2v1h-2zM60 30h1v1h-1zM6 31h2v1h-2zM15 31h1v1h-1zM62 31h1v1h-1zM5 32h2v1h-2zM16 32h1v1h-1zM64 32h1v1h-1zM4 33h2v1h-2zM17 33h1v1h-1zM4 34h2v1h-2zM18 34h1v1h-1zM67 34h1v1h-1zM4 35h1v1h-1zM18 35h1v1h-1zM68 35h1v1h-1zM4 36h2v1h-2zM19 36h1v1h-1zM69 36h1v1h-1zM4 37h2v1h-2zM20 37h1v1h-1zM70 37h1v1h-1zM5 38h1v1h-1zM20 38h1v1h-1zM6 39h1v1h-1zM20 39h2v1h-2zM71 39h1v1h-1zM7 40h2v1h-2zM20 40h2v1h-2zM8 41h3v1h-3zM18 41h2v1h-2zM72 41h1v1h-1zM12 42h5v1h-5zM72 42h1v1h-1zM72 43h1v1h-1zM72 44h1v1h-1zM71 46h1v1h-1zM48 47h1v1h-1zM59 47h3v1h-3zM70 47h1v1h-1zM53 48h3v1h-3zM66 48h3v1h-3zM49 49h1v1h-1zM52 50h1v1h-1zM53 55h1v1h-1zM54 57h1v1h-1zM56 59h1v1h-1zM57 60h1v1h-1zM59 61h2v1h-2zM62 62h3v1h-3zM67 63h5v1h-5zM73 64h4v1h-4z"/>
<path fill="#474747" d="M54 0h1v1h-1zM53 2h1v1h-1zM52 4h1v1h-1zM48 12h1v1h-1zM48 18h1v1h-1zM51 23h1v1h-1zM8 28h6v1h-6zM56 28h1v1h-1zM6 29h3v1h-3zM14 29h1v1h-1zM5 30h2v1h-2zM15 30h1v1h-1zM4 31h2v1h-2zM16 31h1v1h-1zM3 32h2v1h-2zM17 32h1v1h-1zM63 32h1v1h-1zM3 33h1v1h-1zM65 33h1v1h-1zM3 34h1v1h-1zM66 34h1v1h-1zM3 35h1v1h-1zM19 35h1v1h-1zM67 35h1v1h-1zM3 36h1v1h-1zM20 36h1v1h-1zM68 36h1v1h-1zM3 37h1v1h-1zM69 37h1v1h-1zM3 38h2v1h-2zM21 38h1v1h-1zM70 38h1v1h-1zM4 39h2v1h-2zM22 39h1v1h-1zM5 40h2v1h-2zM22 40h1v1h-1zM71 40h1v1h-1zM6 41h2v1h-2zM20 41h2v1h-2zM71 41h1v1h-1zM9 42h3v1h-3zM17 42h3v1h-3zM71 42h1v1h-1zM71 43h1v1h-1zM71 44h1v1h-1zM50 45h1v1h-1zM71 45h1v1h-1zM48 46h1v1h-1zM70 46h1v1h-1zM53 47h1v1h-1zM57 47h2v1h-2zM62 47h3v1h-3zM68 47h2v1h-2zM48 48h1v1h-1zM50 50h2v1h-2zM52 51h1v1h-1zM52 52h1v1h-1zM52 53h1v1h-1zM53 56h1v1h-1zM54 58h1v1h-1zM55 59h1v1h-1zM58 61h1v1h-1zM61 62h1v1h-1zM64 63h3v1h-3zM69 64h4v1h-4zM74 65h3v1h-3z"/>
<path fill="#484848" d="M53 1h1v1h-1zM52 3h1v1h-1zM51 5h1v1h-1zM50 7h1v1h-1zM49 9h1v1h-1zM47 15h1v1h-1zM49 20h1v1h-1zM8 27h5v1h-5zM6 28h2v1h-2zM14 28h1v1h-1zM5 29h1v1h-1zM15 29h1v1h-1zM57 29h1v1h-1zM4 30h1v1h-1zM16 30h1v1h-1zM59 30h1v1h-1zM3 31h1v1h-1zM17 31h1v1h-1zM61 31h1v1h-1zM2 32h1v1h-1zM2 33h1v1h-1zM18 33h1v1h-1zM64 33h1v1h-1zM1 34h2v1h-2zM19 34h1v1h-1zM1 35h2v1h-2zM1 36h2v1h-2zM2 37h1v1h-1zM21 37h1v1h-1zM2 38h1v1h-1zM22 38h1v1h-1zM69 38h1v1h-1zM3 39h1v1h-1zM23 39h1v1h-1zM70 39h1v1h-1zM3 40h2v1h-2zM23 40h1v1h-1zM70 40h1v1h-1zM5 41h1v1h-1zM22 41h1v1h-1zM6 42h3v1h-3zM20 42h1v1h-1zM9 43h9v1h-9zM70 44h1v1h-1zM49 45h1v1h-1zM70 45h1v1h-1zM52 46h1v1h-1zM69 46h1v1h-1zM54 47h3v1h-3zM65 47h3v1h-3zM51 51h1v1h-1zM52 54h1v1h-1zM53 57h1v1h-1zM56 60h1v1h-1zM57 61h1v1h-1zM59 62h2v1h-2zM62 63h2v1h-2zM66 64h3v1h-3zM71 65h3v1h-3zM75 66h2v1h-2z"/>
<path fill="#494949" d="M48 11h1v1h-1zM47 14h1v1h-1zM47 16h1v1h-1zM9 26h4v1h-4zM53 26h1v1h-1zM6 27h2v1h-2zM13 27h2v1h-2zM54 27h1v1h-1zM4 28h2v1h-2zM15 28h1v1h-1zM3 29h2v1h-2zM16 29h1v1h-1zM2 30h2v1h-2zM1 31h2v1h-2zM1 32h1v1h-1zM18 32h1v1h-1zM62 32h1v1h-1zM0 33h2v1h-2zM19 33h1v1h-1zM0 34h1v1h-1zM65 34h1v1h-1zM0 35h1v1h-1zM20 35h1v1h-1zM66 35h1v1h-1zM0 36h1v1h-1zM21 36h1v1h-1zM67 36h1v1h-1zM0 37h2v1h-2zM22 37h1v1h-1zM68 37h1v1h-1zM1 38h1v1h-1zM23 38h1v1h-1zM1 39h2v1h-2zM24 39h1v1h-1zM69 39h1v1h-1zM2 40h1v1h-1zM24 40h1v1h-1zM3 41h2v1h-2zM23 41h1v1h-1zM70 41h1v1h-1zM5 42h1v1h-1zM21 42h2v1h-2zM70 42h1v1h-1zM7 43h2v1h-2zM18 43h2v1h-2zM70 43h1v1h-1zM11 44h4v1h-4zM48 45h1v1h-1zM51 45h1v1h-1zM69 45h1v1h-1zM60 46h3v1h-3zM68 46h1v1h-1zM48 49h1v1h-1zM49 50h1v1h-1zM51 52h1v1h-1zM52 55h1v1h-1zM54 59h1v1h-1zM55 60h1v1h-1zM56 61h1v1h-1zM58 62h1v1h-1zM61 63h1v1h-1zM64 64h2v1h-2zM68 65h3v1h-3zM72 66h3v1h-3zM76 67h1v1h-1z"/>
<path fill="#4a4a4a" d="M53 0h1v1h-1zM52 2h1v1h-1zM51 4h1v1h-1zM50 6h1v1h-1zM47 13h1v1h-1zM47 17h1v1h-1zM9 25h4v1h-4zM52 25h1v1h-1zM7 26h2v1h-2zM13 26h2v1h-2zM4 27h2v1h-2zM15 27h1v1h-1zM3 28h1v1h-1zM55 28h1v1h-1zM2 29h1v1h-1zM1 30h1v1h-1zM17 30h1v1h-1zM58 30h1v1h-1zM0 31h1v1h-1zM18 31h1v1h-1zM60 31h1v1h-1zM0 32h1v1h-1zM63 33h1v1h-1zM20 34h1v1h-1zM21 35h1v1h-1zM67 37h1v1h-1zM0 38h1v1h-1zM68 38h1v1h-1zM0 39h1v1h-1zM1 40h1v1h-1zM69 40h1v1h-1zM2 41h1v1h-1zM24 41h1v1h-1zM69 41h1v1h-1zM3 42h2v1h-2zM23 42h1v1h-1zM69 42h1v1h-1zM5 43h2v1h-2zM20 43h1v1h-1zM69 43h1v1h-1zM7 44h4v1h-4zM15 44h3v1h-3zM69 44h1v1h-1zM68 45h1v1h-1zM47 46h1v1h-1zM53 46h1v1h-1zM57 46h3v1h-3zM63 46h5v1h-5zM47 47h1v1h-1zM50 51h1v1h-1zM51 53h1v1h-1zM52 56h1v1h-1zM53 58h1v1h-1zM57 62h1v1h-1zM59 63h2v1h-2zM62 64h2v1h-2zM65 65h3v1h-3zM69 66h3v1h-3zM73 67h3v1h-3z"/>
<path fill="#4b4b4b" d="M49 8h1v1h-1zM48 10h1v1h-1zM48 19h1v1h-1zM50 22h1v1h-1zM10 24h3v1h-3zM7 25h2v1h-2zM13 25h2v1h-2zM5 26h2v1h-2zM3 27h1v1h-1zM1 28h2v1h-2zM16 28h1v1h-1zM0 29h2v1h-2zM17 29h1v1h-1zM56 29h1v1h-1zM0 30h1v1h-1zM18 30h1v1h-1zM19 32h1v1h-1zM61 32h1v1h-1zM20 33h1v1h-1zM64 34h1v1h-1zM65 35h1v1h-1zM22 36h1v1h-1zM66 36h1v1h-1zM23 37h1v1h-1zM24 38h1v1h-1zM25 39h1v1h-1zM68 39h1v1h-1zM0 40h1v1h-1zM25 40h1v1h-1zM68 40h1v1h-1zM0 41h2v1h-2zM1 42h2v1h-2zM3 43h2v1h-2zM21 43h2v1h-2zM68 43h1v1h-1zM5 44h2v1h-2zM18 44h2v1h-2zM68 44h1v1h-1zM8 45h8v1h-8zM67 45h1v1h-1zM54 46h3v1h-3zM47 48h1v1h-1zM48 50h1v1h-1zM49 51h1v1h-1zM50 52h1v1h-1zM51 54h1v1h-1zM52 57h1v1h-1zM53 59h1v1h-1zM54 60h1v1h-1zM55 61h1v1h-1zM56 62h1v1h-1zM58 63h1v1h-1zM61 64h1v1h-1zM64 65h1v1h-1zM67 66h2v1h-2zM71 67h2v1h-2zM74 68h3v1h-3z"/>
<path fill="#4c4c4c" d="M52 1h1v1h-1zM51 3h1v1h-1zM50 5h1v1h-1zM47 12h1v1h-1zM8 24h2v1h-2zM13 24h2v1h-2zM51 24h1v1h-1zM5 25h2v1h-2zM3 26h2v1h-2zM15 26h1v1h-1zM1 27h2v1h-2zM16 27h1v1h-1zM0 28h1v1h-1zM17 28h1v1h-1zM19 31h1v1h-1zM59 31h1v1h-1zM62 33h1v1h-1zM21 34h1v1h-1zM63 34h1v1h-1zM66 37h1v1h-1zM67 38h1v1h-1zM67 39h1v1h-1zM25 41h1v1h-1zM68 41h1v1h-1zM0 42h1v1h-1zM24 42h1v1h-1zM68 42h1v1h-1zM1 43h2v1h-2zM23 43h1v1h-1zM3 44h2v1h-2zM20 44h1v1h-1zM49 44h2v1h-2zM67 44h1v1h-1zM6 45h2v1h-2zM16 45h2v1h-2zM47 45h1v1h-1zM52 45h1v1h-1zM59 45h8v1h-8zM50 53h1v1h-1zM51 55h1v1h-1zM52 58h1v1h-1zM53 60h1v1h-1zM54 61h1v1h-1zM55 62h1v1h-1zM57 63h1v1h-1zM59 64h2v1h-2zM62 65h2v1h-2zM65 66h2v1h-2zM69 67h2v1h-2zM72 68h2v1h-2zM75 69h2v1h-2z"/>
<path fill="#4d4d4d" d="M49 7h1v1h-1zM48 9h1v1h-1zM9 23h6v1h-6zM6 24h2v1h-2zM3 25h2v1h-2zM15 25h1v1h-1zM1 26h2v1h-2zM16 26h1v1h-1zM0 27h1v1h-1zM18 29h1v1h-1zM57 30h1v1h-1zM20 32h1v1h-1zM60 32h1v1h-1zM22 35h1v1h-1zM64 35h1v1h-1zM23 36h1v1h-1zM65 36h1v1h-1zM24 37h1v1h-1zM25 38h1v1h-1zM66 38h1v1h-1zM26 40h1v1h-1zM67 40h1v1h-1zM26 41h1v1h-1zM67 41h1v1h-1zM25 42h1v1h-1zM67 42h1v1h-1zM0 43h1v1h-1zM67 43h1v1h-1zM1 44h2v1h-2zM21 44h1v1h-1zM48 44h1v1h-1zM51 44h1v1h-1zM65 44h2v1h-2zM3 45h3v1h-3zM18 45h1v1h-1zM53 45h1v1h-1zM55 45h4v1h-4zM7 46h8v1h-8zM46 46h1v1h-1zM46 47h1v1h-1zM47 49h1v1h-1zM48 51h1v1h-1zM49 52h1v1h-1zM50 54h1v1h-1zM51 56h1v1h-1zM51 57h1v1h-1zM52 59h1v1h-1zM56 63h1v1h-1zM58 64h1v1h-1zM61 65h1v1h-1zM64 66h1v1h-1zM67 67h2v1h-2zM70 68h2v1h-2zM73 69h2v1h-2zM76 70h1v1h-1z"/>
<path fill="#4e4e4e" d="M52 0h1v1h-1zM51 2h1v1h-1zM50 4h1v1h-1zM47 11h1v1h-1zM47 18h1v1h-1zM49 21h1v1h-1zM10 22h4v1h-4zM6 23h3v1h-3zM3 24h3v1h-3zM15 24h1v1h-1zM1 25h2v1h-2zM16 25h1v1h-1zM0 26h1v1h-1zM17 27h1v1h-1zM18 28h1v1h-1zM19 30h1v1h-1zM20 31h1v1h-1zM58 31h1v1h-1zM21 33h1v1h-1zM61 33h1v1h-1zM22 34h1v1h-1zM62 34h1v1h-1zM63 35h1v1h-1zM64 36h1v1h-1zM65 37h1v1h-1zM26 39h1v1h-1zM66 39h1v1h-1zM66 40h1v1h-1zM66 41h1v1h-1zM66 42h1v1h-1zM24 43h1v1h-1zM66 43h1v1h-1zM0 44h1v1h-1zM22 44h1v1h-1zM62 44h3v1h-3zM1 45h2v1h-2zM19 45h2v1h-2zM46 45h1v1h-1zM54 45h1v1h-1zM4 46h3v1h-3zM15 46h2v1h-2zM47 50h1v1h-1zM49 53h1v1h-1zM50 55h1v1h-1zM51 58h1v1h-1zM52 60h1v1h-1zM53 61h1v1h-1zM54 62h1v1h-1zM55 63h1v1h-1zM57 64h1v1h-1zM60 65h1v1h-1zM62 66h2v1h-2zM65 67h2v1h-2zM68 68h2v1h-2zM71 69h2v1h-2zM74 70h2v1h-2z"/>
<path fill="#4f4f4f" d="M49 6h1v1h-1zM48 8h1v1h-1zM46 14h1v1h-1zM46 15h1v1h-1zM46 16h1v1h-1zM8 22h2v1h-2zM14 22h1v1h-1zM4 23h2v1h-2zM15 23h1v1h-1zM1 24h2v1h-2zM16 24h1v1h-1zM0 25h1v1h-1zM17 26h1v1h-1zM53 27h1v1h-1zM54 28h1v1h-1zM19 29h1v1h-1zM21 32h1v1h-1zM59 32h1v1h-1zM23 35h1v1h-1zM24 36h1v1h-1zM65 38h1v1h-1zM27 40h1v1h-1zM27 41h1v1h-1zM26 42h1v1h-1zM65 42h1v1h-1zM25 43h1v1h-1zM64 43h2v1h-2zM23 44h1v1h-1zM47 44h1v1h-1zM52 44h1v1h-1zM58 44h4v1h-4zM0 45h1v1h-1zM21 45h1v1h-1zM45 45h1v1h-1zM2 46h2v1h-2zM17 46h2v1h-2zM45 46h1v1h-1zM5 47h10v1h-10zM46 48h1v1h-1zM48 52h1v1h-1zM49 54h1v1h-1zM50 56h1v1h-1zM50 57h1v1h-1zM51 59h1v1h-1zM52 61h1v1h-1zM53 62h1v1h-1zM56 64h1v1h-1zM59 65h1v1h-1zM61 66h1v1h-1zM64 67h1v1h-1zM67 68h1v1h-1zM70 69h1v1h-1zM72 70h2v1h-2zM75 71h2v1h-2z"/>
<path fill="#505050" d="M51 1h1v1h-1zM50 3h1v1h-1zM47 10h1v1h-1zM46 13h1v1h-1zM9 21h6v1h-6zM5 22h3v1h-3zM15 22h1v1h-1zM1 23h3v1h-3zM16 23h1v1h-1zM50 23h1v1h-1zM0 24h1v1h-1zM17 25h1v1h-1zM52 26h1v1h-1zM18 27h1v1h-1zM55 29h1v1h-1zM20 30h1v1h-1zM56 30h1v1h-1zM22 33h1v1h-1zM60 33h1v1h-1zM61 34h1v1h-1zM62 35h1v1h-1zM63 36h1v1h-1zM25 37h1v1h-1zM64 37h1v1h-1zM65 39h1v1h-1zM65 40h1v1h-1zM65 41h1v1h-1zM27 42h1v1h-1zM64 42h1v1h-1zM49 43h2v1h-2zM62 43h2v1h-2zM45 44h2v1h-2zM53 44h5v1h-5zM0 46h2v1h-2zM19 46h1v1h-1zM3 47h2v1h-2zM15 47h2v1h-2zM45 47h1v1h-1zM46 49h1v1h-1zM47 51h1v1h-1zM48 53h1v1h-1zM49 55h1v1h-1zM49 56h1v1h-1zM50 58h1v1h-1zM51 60h1v1h-1zM54 63h1v1h-1zM58 65h1v1h-1zM60 66h1v1h-1zM62 67h2v1h-2zM65 68h2v1h-2zM68 69h2v1h-2zM71 70h1v1h-1zM74 71h1v1h-1zM76 72h1v1h-1z"/>
<path fill="#515151" d="M51 0h1v1h-1zM49 5h1v1h-1zM48 7h1v1h-1zM11 20h2v1h-2zM48 20h1v1h-1zM7 21h2v1h-2zM15 21h1v1h-1zM1 22h4v1h-4zM16 22h1v1h-1zM0 23h1v1h-1zM17 24h1v1h-1zM18 26h1v1h-1zM19 28h1v1h-1zM21 31h1v1h-1zM57 31h1v1h-1zM23 34h1v1h-1zM63 37h1v1h-1zM26 38h1v1h-1zM64 38h1v1h-1zM27 39h1v1h-1zM64 39h1v1h-1zM28 40h1v1h-1zM64 40h1v1h-1zM28 41h1v1h-1zM64 41h1v1h-1zM63 42h1v1h-1zM26 43h1v1h-1zM47 43h2v1h-2zM60 43h2v1h-2zM24 44h1v1h-1zM44 44h1v1h-1zM22 45h1v1h-1zM44 45h1v1h-1zM20 46h1v1h-1zM1 47h2v1h-2zM17 47h1v1h-1zM4 48h10v1h-10zM47 52h1v1h-1zM48 54h1v1h-1zM48 55h1v1h-1zM49 57h1v1h-1zM49 58h1v1h-1zM50 59h1v1h-1zM51 61h1v1h-1zM52 62h1v1h-1zM53 63h1v1h-1zM55 64h1v1h-1zM57 65h1v1h-1zM59 66h1v1h-1zM61 67h1v1h-1zM64 68h1v1h-1zM67 69h1v1h-1zM69 70h2v1h-2zM72 71h2v1h-2zM75 72h1v1h-1z"/>
<path fill="#525252" d="M50 2h1v1h-1zM47 9h1v1h-1zM46 12h1v1h-1zM46 17h1v1h-1zM8 20h3v1h-3zM13 20h2v1h-2zM2 21h5v1h-5zM0 22h1v1h-1zM17 23h1v1h-1zM18 25h1v1h-1zM51 25h1v1h-1zM20 29h1v1h-1zM22 32h1v1h-1zM58 32h1v1h-1zM59 33h1v1h-1zM60 34h1v1h-1zM24 35h1v1h-1zM61 35h1v1h-1zM25 36h1v1h-1zM62 36h1v1h-1zM63 38h1v1h-1zM29 40h1v1h-1zM29 41h1v1h-1zM63 41h1v1h-1zM28 42h1v1h-1zM62 42h1v1h-1zM46 43h1v1h-1zM51 43h1v1h-1zM57 43h3v1h-3zM25 44h1v1h-1zM23 45h1v1h-1zM21 46h1v1h-1zM0 47h1v1h-1zM18 47h1v1h-1zM1 48h3v1h-3zM14 48h2v1h-2zM45 48h1v1h-1zM7 49h3v1h-3zM46 50h1v1h-1zM47 53h1v1h-1zM48 56h1v1h-1zM48 57h1v1h-1zM49 59h1v1h-1zM50 60h1v1h-1zM51 62h1v1h-1zM54 64h1v1h-1zM56 65h1v1h-1zM58 66h1v1h-1zM60 67h1v1h-1zM63 68h1v1h-1zM65 69h2v1h-2zM68 70h1v1h-1zM70 71h2v1h-2zM73 72h2v1h-2zM76 73h1v1h-1z"/>
<path fill="#535353" d="M49 4h1v1h-1zM48 6h1v1h-1zM10 19h4v1h-4zM47 19h1v1h-1zM3 20h5v1h-5zM15 20h1v1h-1zM0 21h2v1h-2zM16 21h1v1h-1zM17 22h1v1h-1zM18 24h1v1h-1zM19 27h1v1h-1zM21 30h1v1h-1zM23 33h1v1h-1zM26 37h1v1h-1zM62 37h1v1h-1zM28 39h2v1h-2zM63 39h1v1h-1zM30 40h1v1h-1zM63 40h1v1h-1zM62 41h1v1h-1zM60 42h2v1h-2zM27 43h1v1h-1zM45 43h1v1h-1zM52 43h1v1h-1zM54 43h3v1h-3zM44 46h1v1h-1zM19 47h1v1h-1zM0 48h1v1h-1zM16 48h1v1h-1zM3 49h4v1h-4zM10 49h4v1h-4zM45 49h1v1h-1zM46 51h1v1h-1zM47 54h1v1h-1zM47 55h1v1h-1zM47 56h1v1h-1zM48 58h1v1h-1zM49 60h1v1h-1zM50 61h1v1h-1zM52 63h1v1h-1zM53 64h1v1h-1zM55 65h1v1h-1zM57 66h1v1h-1zM59 67h1v1h-1zM62 68h1v1h-1zM64 69h1v1h-1zM67 70h1v1h-1zM69 71h1v1h-1zM72 72h1v1h-1zM74 73h2v1h-2z"/>
<path fill="#545454" d="M50 1h1v1h-1zM49 3h1v1h-1zM47 8h1v1h-1zM46 11h1v1h-1zM11 18h2v1h-2zM7 19h3v1h-3zM14 19h1v1h-1zM0 20h3v1h-3zM17 21h1v1h-1zM18 23h1v1h-1zM19 26h1v1h-1zM20 28h1v1h-1zM22 31h1v1h-1zM24 34h1v1h-1zM25 35h1v1h-1zM61 36h1v1h-1zM27 38h1v1h-1zM62 38h1v1h-1zM62 39h1v1h-1zM62 40h1v1h-1zM30 41h1v1h-1zM61 41h1v1h-1zM29 42h1v1h-1zM48 42h3v1h-3zM59 42h1v1h-1zM44 43h1v1h-1zM53 43h1v1h-1zM26 44h1v1h-1zM24 45h1v1h-1zM22 46h1v1h-1zM20 47h1v1h-1zM44 47h1v1h-1zM17 48h2v1h-2zM0 49h3v1h-3zM14 49h1v1h-1zM6 50h4v1h-4zM46 52h1v1h-1zM46 53h1v1h-1zM47 57h1v1h-1zM47 58h1v1h-1zM48 59h1v1h-1zM49 61h1v1h-1zM50 62h1v1h-1zM51 63h1v1h-1zM52 64h1v1h-1zM54 65h1v1h-1zM56 66h1v1h-1zM58 67h1v1h-1zM61 68h1v1h-1zM63 69h1v1h-1zM65 70h2v1h-2zM68 71h1v1h-1zM70 72h2v1h-2zM73 73h1v1h-1z"/>
<path fill="#555555" d="M50 0h1v1h-1zM48 5h1v1h-1zM11 17h1v1h-1zM9 18h2v1h-2zM13 18h1v1h-1zM0 19h7v1h-7zM15 19h1v1h-1zM16 20h1v1h-1zM18 22h1v1h-1zM49 22h1v1h-1zM19 24h1v1h-1zM19 25h1v1h-1zM54 29h1v1h-1zM55 30h1v1h-1zM56 31h1v1h-1zM23 32h1v1h-1zM57 32h1v1h-1zM58 33h1v1h-1zM59 34h1v1h-1zM60 35h1v1h-1zM61 37h1v1h-1zM30 39h1v1h-1zM61 40h1v1h-1zM60 41h1v1h-1zM46 42h2v1h-2zM51 42h1v1h-1zM57 42h2v1h-2zM28 43h1v1h-1zM23 46h1v1h-1zM21 47h1v1h-1zM15 49h2v1h-2zM1 50h5v1h-5zM10 50h3v1h-3zM45 50h1v1h-1zM46 54h1v1h-1zM46 55h1v1h-1zM46 56h1v1h-1zM46 57h1v1h-1zM48 60h1v1h-1zM53 65h1v1h-1zM55 66h1v1h-1zM60 68h1v1h-1zM62 69h1v1h-1zM64 70h1v1h-1zM67 71h1v1h-1zM69 72h1v1h-1zM71 73h2v1h-2z"/>
<path fill="#565656" d="M49 2h1v1h-1zM47 7h1v1h-1zM46 10h1v1h-1zM45 14h1v1h-1zM45 15h1v1h-1zM10 16h2v1h-2zM0 17h2v1h-2zM9 17h2v1h-2zM12 17h2v1h-2zM0 18h9v1h-9zM14 18h1v1h-1zM46 18h1v1h-1zM17 20h1v1h-1zM18 21h1v1h-1zM19 23h1v1h-1zM20 27h1v1h-1zM53 28h1v1h-1zM21 29h1v1h-1zM24 33h1v1h-1zM26 36h1v1h-1zM60 36h1v1h-1zM61 38h1v1h-1zM61 39h1v1h-1zM60 40h1v1h-1zM59 41h1v1h-1zM45 42h1v1h-1zM55 42h2v1h-2zM27 44h1v1h-1zM43 44h1v1h-1zM25 45h1v1h-1zM19 48h1v1h-1zM44 48h1v1h-1zM17 49h1v1h-1zM0 50h1v1h-1zM13 50h2v1h-2zM4 51h5v1h-5zM45 51h1v1h-1zM46 58h1v1h-1zM47 59h1v1h-1zM49 62h1v1h-1zM50 63h1v1h-1zM51 64h1v1h-1zM57 67h1v1h-1zM59 68h1v1h-1zM61 69h1v1h-1zM63 70h1v1h-1zM65 71h2v1h-2zM68 72h1v1h-1zM70 73h1v1h-1z"/>
<path fill="#575757" d="M48 4h1v1h-1zM10 11h2v1h-2zM10 12h3v1h-3zM10 13h2v1h-2zM45 13h1v1h-1zM10 14h3v1h-3zM9 15h4v1h-4zM0 16h4v1h-4zM9 16h1v1h-1zM12 16h2v1h-2zM45 16h1v1h-1zM2 17h7v1h-7zM15 18h1v1h-1zM16 19h1v1h-1zM19 22h1v1h-1zM50 24h1v1h-1zM20 26h1v1h-1zM52 27h1v1h-1zM22 30h1v1h-1zM25 34h1v1h-1zM58 34h1v1h-1zM59 35h1v1h-1zM60 37h1v1h-1zM28 38h1v1h-1zM60 38h1v1h-1zM60 39h1v1h-1zM31 40h1v1h-1zM31 41h1v1h-1zM49 41h1v1h-1zM57 41h2v1h-2zM30 42h1v1h-1zM44 42h1v1h-1zM52 42h1v1h-1zM54 42h1v1h-1zM29 43h1v1h-1zM43 43h1v1h-1zM43 45h1v1h-1zM24 46h1v1h-1zM22 47h1v1h-1zM20 48h1v1h-1zM18 49h1v1h-1zM44 49h1v1h-1zM15 50h1v1h-1zM0 51h4v1h-4zM9 51h3v1h-3zM45 52h1v1h-1zM45 53h1v1h-1zM45 54h1v1h-1zM45 55h1v1h-1zM45 56h1v1h-1zM45 57h1v1h-1zM45 58h1v1h-1zM48 61h1v1h-1zM50 64h1v1h-1zM52 65h1v1h-1zM54 66h1v1h-1zM56 67h1v1h-1zM58 68h1v1h-1zM60 69h1v1h-1zM62 70h1v1h-1zM64 71h1v1h-1zM67 72h1v1h-1zM69 73h1v1h-1z"/>
<path fill="#585858" d="M49 1h1v1h-1zM47 6h1v1h-1zM10 9h1v1h-1zM46 9h1v1h-1zM8 10h5v1h-5zM7 11h3v1h-3zM12 11h1v1h-1zM7 12h3v1h-3zM13 12h1v1h-1zM45 12h1v1h-1zM7 13h3v1h-3zM12 13h1v1h-1zM0 14h3v1h-3zM7 14h3v1h-3zM13 14h1v1h-1zM0 15h9v1h-9zM13 15h1v1h-1zM4 16h5v1h-5zM14 17h1v1h-1zM17 19h1v1h-1zM18 20h1v1h-1zM19 21h1v1h-1zM48 21h1v1h-1zM20 23h1v1h-1zM20 24h1v1h-1zM20 25h1v1h-1zM21 28h1v1h-1zM23 31h1v1h-1zM56 32h1v1h-1zM57 33h1v1h-1zM26 35h1v1h-1zM59 36h1v1h-1zM27 37h1v1h-1zM59 40h1v1h-1zM47 41h2v1h-2zM50 41h1v1h-1zM56 41h1v1h-1zM42 42h2v1h-2zM53 42h1v1h-1zM26 45h1v1h-1zM43 46h1v1h-1zM23 47h1v1h-1zM21 48h1v1h-1zM19 49h1v1h-1zM16 50h1v1h-1zM44 50h1v1h-1zM12 51h2v1h-2zM3 52h6v1h-6zM44 57h1v1h-1zM46 59h1v1h-1zM47 60h1v1h-1zM49 63h1v1h-1zM51 65h1v1h-1zM53 66h1v1h-1zM55 67h1v1h-1zM57 68h1v1h-1zM59 69h1v1h-1zM61 70h1v1h-1zM63 71h1v1h-1zM66 72h1v1h-1zM68 73h1v1h-1z"/>
<path fill="#595959" d="M49 0h1v1h-1zM48 3h1v1h-1zM9 8h2v1h-2zM46 8h1v1h-1zM6 9h4v1h-4zM11 9h2v1h-2zM5 10h3v1h-3zM13 10h1v1h-1zM3 11h4v1h-4zM13 11h1v1h-1zM0 12h7v1h-7zM0 13h7v1h-7zM13 13h1v1h-1zM3 14h4v1h-4zM14 16h1v1h-1zM15 17h1v1h-1zM16 18h1v1h-1zM19 20h1v1h-1zM20 21h1v1h-1zM20 22h1v1h-1zM51 26h1v1h-1zM21 27h1v1h-1zM22 29h1v1h-1zM55 31h1v1h-1zM24 32h1v1h-1zM25 33h1v1h-1zM58 35h1v1h-1zM59 37h1v1h-1zM29 38h2v1h-2zM59 38h1v1h-1zM31 39h1v1h-1zM59 39h1v1h-1zM57 40h2v1h-2zM41 41h1v1h-1zM46 41h1v1h-1zM51 41h1v1h-1zM55 41h1v1h-1zM41 42h1v1h-1zM42 43h1v1h-1zM28 44h1v1h-1zM25 46h1v1h-1zM43 47h1v1h-1zM17 50h1v1h-1zM14 51h2v1h-2zM44 51h1v1h-1zM0 52h3v1h-3zM9 52h3v1h-3zM44 55h1v1h-1zM44 56h1v1h-1zM44 58h1v1h-1zM45 59h1v1h-1zM49 64h1v1h-1zM58 69h1v1h-1zM60 70h1v1h-1zM65 72h1v1h-1zM67 73h1v1h-1z"/>
<path fill="#5a5a5a" d="M48 2h1v1h-1zM47 5h1v1h-1zM8 7h2v1h-2zM4 8h5v1h-5zM11 8h2v1h-2zM1 9h5v1h-5zM13 9h1v1h-1zM0 10h5v1h-5zM14 10h1v1h-1zM0 11h3v1h-3zM14 11h1v1h-1zM45 11h1v1h-1zM14 12h1v1h-1zM14 13h1v1h-1zM14 14h1v1h-1zM14 15h1v1h-1zM45 17h1v1h-1zM17 18h1v1h-1zM18 19h1v1h-1zM21 26h1v1h-1zM23 30h1v1h-1zM54 30h1v1h-1zM26 34h1v1h-1zM57 34h1v1h-1zM27 36h1v1h-1zM58 36h1v1h-1zM58 39h1v1h-1zM56 40h1v1h-1zM39 41h2v1h-2zM42 41h1v1h-1zM45 41h1v1h-1zM52 41h1v1h-1zM54 41h1v1h-1zM31 42h1v1h-1zM30 43h1v1h-1zM27 45h1v1h-1zM24 47h1v1h-1zM22 48h1v1h-1zM43 48h1v1h-1zM20 49h1v1h-1zM18 50h1v1h-1zM16 51h1v1h-1zM12 52h2v1h-2zM44 52h1v1h-1zM1 53h8v1h-8zM44 53h1v1h-1zM44 54h1v1h-1zM43 58h1v1h-1zM43 59h2v1h-2zM46 60h1v1h-1zM48 62h1v1h-1zM50 65h1v1h-1zM52 66h1v1h-1zM54 67h1v1h-1zM56 68h1v1h-1zM62 71h1v1h-1zM64 72h1v1h-1zM66 73h1v1h-1z"/>
<path fill="#5b5b5b" d="M2 7h6v1h-6zM10 7h3v1h-3zM46 7h1v1h-1zM0 8h4v1h-4zM13 8h1v1h-1zM0 9h1v1h-1zM14 9h1v1h-1zM45 10h1v1h-1zM15 16h1v1h-1zM16 17h1v1h-1zM19 19h1v1h-1zM20 20h1v1h-1zM47 20h1v1h-1zM21 22h1v1h-1zM21 23h1v1h-1zM21 24h1v1h-1zM21 25h1v1h-1zM22 28h1v1h-1zM24 31h1v1h-1zM56 33h1v1h-1zM27 35h1v1h-1zM58 37h1v1h-1zM58 38h1v1h-1zM57 39h1v1h-1zM49 40h3v1h-3zM55 40h1v1h-1zM32 41h1v1h-1zM38 41h1v1h-1zM43 41h2v1h-2zM53 41h1v1h-1zM40 42h1v1h-1zM29 44h1v1h-1zM42 44h1v1h-1zM26 46h1v1h-1zM21 49h1v1h-1zM43 49h1v1h-1zM19 50h1v1h-1zM17 51h1v1h-1zM14 52h1v1h-1zM0 53h1v1h-1zM9 53h2v1h-2zM43 57h1v1h-1zM42 58h1v1h-1zM47 61h1v1h-1zM48 63h1v1h-1zM51 66h1v1h-1zM53 67h1v1h-1zM55 68h1v1h-1zM57 69h1v1h-1zM59 70h1v1h-1zM61 71h1v1h-1zM63 72h1v1h-1zM65 73h1v1h-1z"/>
<path fill="#5c5c5c" d="M48 1h1v1h-1zM47 4h1v1h-1zM0 6h12v1h-12zM0 7h2v1h-2zM13 7h1v1h-1zM14 8h1v1h-1zM15 9h1v1h-1zM15 10h1v1h-1zM15 11h1v1h-1zM15 12h1v1h-1zM15 13h1v1h-1zM15 14h1v1h-1zM15 15h1v1h-1zM18 18h1v1h-1zM21 21h1v1h-1zM49 23h1v1h-1zM23 29h1v1h-1zM53 29h1v1h-1zM25 32h1v1h-1zM26 33h1v1h-1zM57 35h1v1h-1zM28 37h1v1h-1zM57 38h1v1h-1zM56 39h1v1h-1zM32 40h1v1h-1zM39 40h2v1h-2zM48 40h1v1h-1zM52 40h3v1h-3zM39 42h1v1h-1zM41 43h1v1h-1zM28 45h1v1h-1zM42 45h1v1h-1zM23 48h1v1h-1zM43 50h1v1h-1zM15 52h1v1h-1zM11 53h2v1h-2zM0 54h8v1h-8zM43 55h1v1h-1zM43 56h1v1h-1zM42 59h1v1h-1zM44 60h2v1h-2zM49 65h1v1h-1zM56 69h1v1h-1zM58 70h1v1h-1zM60 71h1v1h-1zM62 72h1v1h-1zM64 73h1v1h-1z"/>
<path fill="#5d5d5d" d="M48 0h1v1h-1zM47 3h1v1h-1zM0 5h10v1h-10zM12 6h1v1h-1zM46 6h1v1h-1zM14 7h1v1h-1zM15 8h1v1h-1zM45 9h1v1h-1zM16 16h1v1h-1zM17 17h1v1h-1zM20 19h1v1h-1zM46 19h1v1h-1zM21 20h1v1h-1zM50 25h1v1h-1zM22 27h1v1h-1zM24 30h1v1h-1zM55 32h1v1h-1zM27 34h1v1h-1zM56 34h1v1h-1zM57 36h1v1h-1zM57 37h1v1h-1zM56 38h1v1h-1zM55 39h1v1h-1zM38 40h1v1h-1zM47 40h1v1h-1zM37 41h1v1h-1zM32 42h1v1h-1zM38 42h1v1h-1zM31 43h1v1h-1zM42 46h1v1h-1zM25 47h1v1h-1zM42 47h1v1h-1zM22 49h1v1h-1zM20 50h1v1h-1zM18 51h1v1h-1zM43 51h1v1h-1zM16 52h1v1h-1zM43 52h1v1h-1zM13 53h2v1h-2zM43 53h1v1h-1zM8 54h3v1h-3zM43 54h1v1h-1zM42 57h1v1h-1zM41 58h1v1h-1zM43 60h1v1h-1zM48 64h1v1h-1zM50 66h1v1h-1zM52 67h1v1h-1zM54 68h1v1h-1zM59 71h1v1h-1zM61 72h1v1h-1zM63 73h1v1h-1z"/>
<path fill="#5e5e5e" d="M0 4h9v1h-9zM10 5h2v1h-2zM13 6h1v1h-1zM16 9h1v1h-1zM16 10h1v1h-1zM16 11h1v1h-1zM44 13h1v1h-1zM44 14h1v1h-1zM16 15h1v1h-1zM44 15h1v1h-1zM19 18h1v1h-1zM22 21h1v1h-1zM22 22h1v1h-1zM22 23h1v1h-1zM22 24h1v1h-1zM22 25h1v1h-1zM22 26h1v1h-1zM56 35h1v1h-1zM28 36h1v1h-1zM56 37h1v1h-1zM31 38h1v1h-1zM50 39h5v1h-5zM41 40h1v1h-1zM46 40h1v1h-1zM40 43h1v1h-1zM30 44h1v1h-1zM41 44h1v1h-1zM27 46h1v1h-1zM24 48h1v1h-1zM21 50h1v1h-1zM19 51h1v1h-1zM17 52h1v1h-1zM15 53h1v1h-1zM11 54h2v1h-2zM0 55h8v1h-8zM42 56h1v1h-1zM41 57h1v1h-1zM41 59h1v1h-1zM42 60h1v1h-1zM46 61h1v1h-1zM47 62h1v1h-1zM55 69h1v1h-1zM57 70h1v1h-1zM60 72h1v1h-1zM62 73h1v1h-1z"/>
<path fill="#5f5f5f" d="M47 2h1v1h-1zM0 3h7v1h-7zM9 4h2v1h-2zM12 5h1v1h-1zM46 5h1v1h-1zM15 7h1v1h-1zM16 8h1v1h-1zM45 8h1v1h-1zM16 12h1v1h-1zM44 12h1v1h-1zM16 13h1v1h-1zM16 14h1v1h-1zM17 16h1v1h-1zM18 17h1v1h-1zM45 18h1v1h-1zM21 19h1v1h-1zM22 20h1v1h-1zM23 28h1v1h-1zM52 28h1v1h-1zM25 31h1v1h-1zM54 31h1v1h-1zM28 35h1v1h-1zM56 36h1v1h-1zM29 37h1v1h-1zM55 38h1v1h-1zM49 39h1v1h-1zM37 40h1v1h-1zM42 40h1v1h-1zM45 40h1v1h-1zM33 41h1v1h-1zM36 41h1v1h-1zM37 42h1v1h-1zM39 43h1v1h-1zM29 45h1v1h-1zM26 47h1v1h-1zM42 48h1v1h-1zM23 49h1v1h-1zM42 49h1v1h-1zM20 51h1v1h-1zM18 52h1v1h-1zM16 53h1v1h-1zM13 54h1v1h-1zM42 54h1v1h-1zM8 55h3v1h-3zM42 55h1v1h-1zM41 56h1v1h-1zM41 60h1v1h-1zM48 65h1v1h-1zM51 67h1v1h-1zM53 68h1v1h-1zM56 70h1v1h-1zM58 71h1v1h-1zM61 73h1v1h-1z"/>
<path fill="#606060" d="M47 1h1v1h-1zM0 2h5v1h-5zM7 3h2v1h-2zM11 4h1v1h-1zM46 4h1v1h-1zM13 5h1v1h-1zM14 6h1v1h-1zM44 11h1v1h-1zM44 16h1v1h-1zM20 18h1v1h-1zM23 27h1v1h-1zM24 29h1v1h-1zM26 32h1v1h-1zM27 33h1v1h-1zM55 33h1v1h-1zM30 37h1v1h-1zM55 37h1v1h-1zM54 38h1v1h-1zM32 39h1v1h-1zM43 40h2v1h-2zM36 42h1v1h-1zM32 43h1v1h-1zM38 43h1v1h-1zM41 45h1v1h-1zM28 46h1v1h-1zM25 48h1v1h-1zM22 50h1v1h-1zM42 50h1v1h-1zM42 51h1v1h-1zM19 52h1v1h-1zM42 52h1v1h-1zM17 53h1v1h-1zM42 53h1v1h-1zM14 54h1v1h-1zM11 55h1v1h-1zM0 56h8v1h-8zM40 57h1v1h-1zM40 58h1v1h-1zM40 59h1v1h-1zM45 61h1v1h-1zM47 63h1v1h-1zM49 66h1v1h-1zM54 69h1v1h-1zM57 71h1v1h-1zM59 72h1v1h-1z"/>
<path fill="#616161" d="M47 0h1v1h-1zM0 1h4v1h-4zM5 2h3v1h-3zM9 3h2v1h-2zM12 4h1v1h-1zM15 6h1v1h-1zM16 7h1v1h-1zM45 7h1v1h-1zM17 9h1v1h-1zM17 10h1v1h-1zM17 11h1v1h-1zM17 15h1v1h-1zM18 16h1v1h-1zM19 17h1v1h-1zM22 19h1v1h-1zM23 22h1v1h-1zM48 22h1v1h-1zM23 23h1v1h-1zM23 24h1v1h-1zM23 25h1v1h-1zM23 26h1v1h-1zM51 27h1v1h-1zM25 30h1v1h-1zM28 34h1v1h-1zM55 34h1v1h-1zM55 36h1v1h-1zM53 38h1v1h-1zM39 39h1v1h-1zM48 39h1v1h-1zM33 40h1v1h-1zM33 42h1v1h-1zM31 44h1v1h-1zM40 44h1v1h-1zM41 46h1v1h-1zM41 47h1v1h-1zM24 49h1v1h-1zM21 51h1v1h-1zM15 54h1v1h-1zM41 54h1v1h-1zM12 55h2v1h-2zM41 55h1v1h-1zM8 56h2v1h-2zM40 56h1v1h-1zM40 60h1v1h-1zM42 61h3v1h-3zM52 68h1v1h-1zM55 70h1v1h-1zM58 72h1v1h-1zM60 73h1v1h-1z"/>
<path fill="#626262" d="M0 0h3v1h-3zM4 1h3v1h-3zM8 2h1v1h-1zM11 3h1v1h-1zM46 3h1v1h-1zM14 5h1v1h-1zM45 6h1v1h-1zM17 8h1v1h-1zM44 10h1v1h-1zM17 12h1v1h-1zM17 13h1v1h-1zM17 14h1v1h-1zM21 18h1v1h-1zM23 21h1v1h-1zM24 28h1v1h-1zM53 30h1v1h-1zM55 35h1v1h-1zM29 36h1v1h-1zM54 37h1v1h-1zM51 38h2v1h-2zM36 40h1v1h-1zM34 41h2v1h-2zM35 42h1v1h-1zM37 43h1v1h-1zM39 44h1v1h-1zM30 45h1v1h-1zM40 45h1v1h-1zM27 47h1v1h-1zM41 48h1v1h-1zM41 49h1v1h-1zM23 50h1v1h-1zM20 52h1v1h-1zM18 53h1v1h-1zM41 53h1v1h-1zM16 54h1v1h-1zM14 55h1v1h-1zM10 56h2v1h-2zM0 57h8v1h-8zM41 61h1v1h-1zM47 64h1v1h-1zM50 67h1v1h-1zM53 69h1v1h-1zM56 71h1v1h-1zM59 73h1v1h-1z"/>
<path fill="#636363" d="M3 0h2v1h-2zM7 1h1v1h-1zM9 2h1v1h-1zM46 2h1v1h-1zM13 4h1v1h-1zM44 9h1v1h-1zM18 15h1v1h-1zM20 17h1v1h-1zM44 17h1v1h-1zM23 20h1v1h-1zM24 27h1v1h-1zM25 29h1v1h-1zM26 31h1v1h-1zM27 32h1v1h-1zM54 32h1v1h-1zM50 38h1v1h-1zM38 39h1v1h-1zM40 39h1v1h-1zM47 39h1v1h-1zM34 42h1v1h-1zM33 43h1v1h-1zM36 43h1v1h-1zM38 44h1v1h-1zM29 46h1v1h-1zM40 46h1v1h-1zM26 48h1v1h-1zM25 49h1v1h-1zM41 50h1v1h-1zM22 51h1v1h-1zM41 51h1v1h-1zM41 52h1v1h-1zM19 53h1v1h-1zM17 54h1v1h-1zM15 55h1v1h-1zM40 55h1v1h-1zM12 56h1v1h-1zM8 57h2v1h-2zM39 57h1v1h-1zM0 58h3v1h-3zM39 58h1v1h-1zM39 59h1v1h-1zM46 62h1v1h-1zM51 68h1v1h-1zM54 70h1v1h-1zM57 72h1v1h-1z"/>
<path fill="#646464" d="M5 0h2v1h-2zM8 1h1v1h-1zM46 1h1v1h-1zM10 2h1v1h-1zM12 3h1v1h-1zM15 5h1v1h-1zM45 5h1v1h-1zM16 6h1v1h-1zM17 7h1v1h-1zM19 16h1v1h-1zM47 21h1v1h-1zM49 24h1v1h-1zM24 26h1v1h-1zM50 26h1v1h-1zM28 33h1v1h-1zM29 35h1v1h-1zM54 36h1v1h-1zM53 37h1v1h-1zM34 40h2v1h-2zM32 44h1v1h-1zM39 45h1v1h-1zM28 47h1v1h-1zM40 47h1v1h-1zM24 50h1v1h-1zM21 52h1v1h-1zM18 54h1v1h-1zM40 54h1v1h-1zM16 55h1v1h-1zM13 56h2v1h-2zM39 56h1v1h-1zM10 57h2v1h-2zM3 58h4v1h-4zM39 60h1v1h-1zM40 61h1v1h-1zM42 62h1v1h-1zM48 66h1v1h-1zM52 69h1v1h-1zM55 71h1v1h-1zM58 73h1v1h-1z"/>
<path fill="#656565" d="M7 0h1v1h-1zM46 0h1v1h-1zM9 1h1v1h-1zM11 2h1v1h-1zM13 3h1v1h-1zM14 4h1v1h-1zM45 4h1v1h-1zM44 8h1v1h-1zM18 9h1v1h-1zM18 10h1v1h-1zM18 11h1v1h-1zM18 13h1v1h-1zM43 13h1v1h-1zM18 14h1v1h-1zM22 18h1v1h-1zM23 19h1v1h-1zM24 21h1v1h-1zM24 22h1v1h-1zM24 23h1v1h-1zM24 24h1v1h-1zM24 25h1v1h-1zM25 28h1v1h-1zM26 30h1v1h-1zM54 33h1v1h-1zM54 35h1v1h-1zM30 36h1v1h-1zM31 37h1v1h-1zM52 37h1v1h-1zM49 38h1v1h-1zM41 39h1v1h-1zM46 39h1v1h-1zM34 43h2v1h-2zM37 44h1v1h-1zM31 45h1v1h-1zM27 48h1v1h-1zM40 48h1v1h-1zM40 49h1v1h-1zM40 50h1v1h-1zM23 51h1v1h-1zM40 51h1v1h-1zM22 52h1v1h-1zM40 52h1v1h-1zM20 53h1v1h-1zM40 53h1v1h-1zM19 54h1v1h-1zM17 55h1v1h-1zM15 56h1v1h-1zM12 57h1v1h-1zM7 58h3v1h-3zM0 59h4v1h-4zM41 62h1v1h-1zM43 62h2v1h-2zM47 65h1v1h-1zM49 67h1v1h-1zM53 70h1v1h-1zM56 72h1v1h-1z"/>
<path fill="#666666" d="M8 0h2v1h-2zM10 1h1v1h-1zM12 2h1v1h-1zM45 3h1v1h-1zM44 7h1v1h-1zM18 8h1v1h-1zM18 12h1v1h-1zM43 12h1v1h-1zM43 14h1v1h-1zM19 15h1v1h-1zM20 16h1v1h-1zM21 17h1v1h-1zM46 20h1v1h-1zM52 29h1v1h-1zM29 34h1v1h-1zM54 34h1v1h-1zM32 38h1v1h-1zM33 39h1v1h-1zM33 44h1v1h-1zM36 44h1v1h-1zM38 45h1v1h-1zM30 46h1v1h-1zM39 46h1v1h-1zM26 49h1v1h-1zM21 53h1v1h-1zM18 55h1v1h-1zM39 55h1v1h-1zM16 56h1v1h-1zM13 57h1v1h-1zM10 58h2v1h-2zM38 58h1v1h-1zM4 59h3v1h-3zM38 59h1v1h-1zM39 61h1v1h-1zM40 62h1v1h-1zM45 62h1v1h-1zM46 63h1v1h-1zM50 68h1v1h-1zM54 71h1v1h-1zM57 73h1v1h-1z"/>
<path fill="#676767" d="M11 1h1v1h-1zM45 2h1v1h-1zM14 3h1v1h-1zM15 4h1v1h-1zM16 5h1v1h-1zM17 6h1v1h-1zM44 6h1v1h-1zM43 11h1v1h-1zM43 15h1v1h-1zM45 19h1v1h-1zM24 20h1v1h-1zM25 27h1v1h-1zM27 31h1v1h-1zM53 31h1v1h-1zM53 36h1v1h-1zM51 37h1v1h-1zM37 39h1v1h-1zM42 39h1v1h-1zM44 39h2v1h-2zM29 47h1v1h-1zM39 47h1v1h-1zM39 48h1v1h-1zM25 50h1v1h-1zM24 51h1v1h-1zM23 52h1v1h-1zM20 54h1v1h-1zM39 54h1v1h-1zM17 56h1v1h-1zM14 57h2v1h-2zM38 57h1v1h-1zM12 58h1v1h-1zM7 59h3v1h-3zM0 60h4v1h-4zM38 60h1v1h-1zM42 63h1v1h-1zM46 64h1v1h-1zM51 69h1v1h-1zM52 70h1v1h-1zM55 72h1v1h-1zM56 73h1v1h-1z"/>
<path fill="#686868" d="M10 0h1v1h-1zM12 1h1v1h-1zM13 2h1v1h-1zM18 7h1v1h-1zM43 10h1v1h-1zM19 14h1v1h-1zM23 18h1v1h-1zM44 18h1v1h-1zM25 24h1v1h-1zM25 25h1v1h-1zM25 26h1v1h-1zM26 29h1v1h-1zM28 32h1v1h-1zM30 35h1v1h-1zM48 38h1v1h-1zM43 39h1v1h-1zM34 44h2v1h-2zM32 45h1v1h-1zM37 45h1v1h-1zM38 46h1v1h-1zM28 48h1v1h-1zM39 49h1v1h-1zM39 50h1v1h-1zM39 51h1v1h-1zM22 53h1v1h-1zM39 53h1v1h-1zM19 55h1v1h-1zM38 56h1v1h-1zM16 57h1v1h-1zM13 58h1v1h-1zM10 59h1v1h-1zM4 60h3v1h-3zM38 61h1v1h-1zM39 62h1v1h-1zM41 63h1v1h-1zM43 63h1v1h-1zM53 71h1v1h-1z"/>
<path fill="#696969" d="M11 0h1v1h-1zM45 0h1v1h-1zM45 1h1v1h-1zM44 5h1v1h-1zM19 9h1v1h-1zM43 9h1v1h-1zM19 13h1v1h-1zM20 15h1v1h-1zM21 16h1v1h-1zM43 16h1v1h-1zM22 17h1v1h-1zM24 19h1v1h-1zM25 22h1v1h-1zM25 23h1v1h-1zM26 28h1v1h-1zM29 33h1v1h-1zM53 35h1v1h-1zM36 45h1v1h-1zM31 46h1v1h-1zM38 47h1v1h-1zM27 49h1v1h-1zM26 50h1v1h-1zM25 51h1v1h-1zM39 52h1v1h-1zM21 54h1v1h-1zM20 55h1v1h-1zM38 55h1v1h-1zM18 56h1v1h-1zM14 58h1v1h-1zM37 58h1v1h-1zM11 59h2v1h-2zM37 59h1v1h-1zM7 60h3v1h-3zM0 61h4v1h-4zM40 63h1v1h-1zM44 63h2v1h-2zM45 64h1v1h-1zM46 65h1v1h-1zM47 66h1v1h-1zM48 67h1v1h-1zM49 68h1v1h-1zM54 72h1v1h-1zM55 73h1v1h-1z"/>
<path fill="#6a6a6a" d="M13 1h1v1h-1zM14 2h1v1h-1zM15 3h1v1h-1zM16 4h1v1h-1zM44 4h1v1h-1zM17 5h1v1h-1zM19 8h1v1h-1zM43 8h1v1h-1zM19 10h1v1h-1zM19 11h1v1h-1zM19 12h1v1h-1zM25 21h1v1h-1zM48 23h1v1h-1zM51 28h1v1h-1zM27 30h1v1h-1zM53 32h1v1h-1zM31 36h1v1h-1zM52 36h1v1h-1zM50 37h1v1h-1zM34 39h1v1h-1zM33 45h1v1h-1zM35 45h1v1h-1zM37 46h1v1h-1zM30 47h1v1h-1zM38 48h1v1h-1zM38 49h1v1h-1zM24 52h1v1h-1zM23 53h1v1h-1zM22 54h1v1h-1zM19 56h1v1h-1zM17 57h1v1h-1zM37 57h1v1h-1zM15 58h1v1h-1zM13 59h1v1h-1zM10 60h1v1h-1zM37 60h1v1h-1zM4 61h3v1h-3zM38 62h1v1h-1zM39 63h1v1h-1zM42 64h3v1h-3zM50 69h1v1h-1zM51 70h1v1h-1z"/>
<path fill="#6b6b6b" d="M12 0h1v1h-1zM44 3h1v1h-1zM18 6h1v1h-1zM43 7h1v1h-1zM24 18h1v1h-1zM25 20h1v1h-1zM49 25h1v1h-1zM26 27h1v1h-1zM30 34h1v1h-1zM53 34h1v1h-1zM47 38h1v1h-1zM36 39h1v1h-1zM34 45h1v1h-1zM29 48h1v1h-1zM38 50h1v1h-1zM38 54h1v1h-1zM21 55h1v1h-1zM20 56h1v1h-1zM37 56h1v1h-1zM18 57h1v1h-1zM16 58h1v1h-1zM14 59h1v1h-1zM11 60h2v1h-2zM7 61h3v1h-3zM37 61h1v1h-1zM0 62h5v1h-5zM41 64h1v1h-1zM44 65h2v1h-2zM52 71h1v1h-1zM53 72h1v1h-1zM54 73h1v1h-1z"/>
<path fill="#6c6c6c" d="M44 2h1v1h-1zM19 7h1v1h-1zM20 14h1v1h-1zM23 17h1v1h-1zM25 19h1v1h-1zM26 25h1v1h-1zM26 26h1v1h-1zM27 29h1v1h-1zM52 30h1v1h-1zM28 31h1v1h-1zM53 33h1v1h-1zM49 37h1v1h-1zM35 39h1v1h-1zM32 46h1v1h-1zM36 46h1v1h-1zM37 47h1v1h-1zM28 49h1v1h-1zM27 50h1v1h-1zM26 51h1v1h-1zM38 51h1v1h-1zM25 52h1v1h-1zM38 52h1v1h-1zM24 53h1v1h-1zM38 53h1v1h-1zM23 54h1v1h-1zM22 55h1v1h-1zM19 57h1v1h-1zM17 58h1v1h-1zM15 59h1v1h-1zM36 59h1v1h-1zM13 60h1v1h-1zM10 61h1v1h-1zM5 62h3v1h-3zM37 62h1v1h-1zM38 63h1v1h-1zM40 64h1v1h-1zM43 65h1v1h-1z"/>
<path fill="#6d6d6d" d="M13 0h1v1h-1zM14 1h1v1h-1zM44 1h1v1h-1zM15 2h1v1h-1zM16 3h1v1h-1zM17 4h1v1h-1zM43 6h1v1h-1zM42 11h1v1h-1zM42 12h1v1h-1zM42 13h1v1h-1zM21 15h1v1h-1zM22 16h1v1h-1zM26 23h1v1h-1zM26 24h1v1h-1zM50 27h1v1h-1zM29 32h1v1h-1zM51 36h1v1h-1zM32 37h1v1h-1zM39 38h1v1h-1zM33 46h1v1h-1zM35 46h1v1h-1zM31 47h1v1h-1zM37 48h1v1h-1zM37 49h1v1h-1zM37 55h1v1h-1zM21 56h1v1h-1zM20 57h1v1h-1zM18 58h1v1h-1zM36 58h1v1h-1zM16 59h1v1h-1zM14 60h1v1h-1zM36 60h1v1h-1zM11 61h2v1h-2zM36 61h1v1h-1zM8 62h2v1h-2zM0 63h5v1h-5zM39 64h1v1h-1zM42 65h1v1h-1zM46 66h1v1h-1zM48 68h1v1h-1zM49 69h1v1h-1zM50 70h1v1h-1zM51 71h1v1h-1zM52 72h1v1h-1z"/>
<path fill="#6e6e6e" d="M44 0h1v1h-1zM18 5h1v1h-1zM43 5h1v1h-1zM42 10h1v1h-1zM20 13h1v1h-1zM42 14h1v1h-1zM43 17h1v1h-1zM26 21h1v1h-1zM26 22h1v1h-1zM47 22h1v1h-1zM27 28h1v1h-1zM30 33h1v1h-1zM31 35h1v1h-1zM52 35h1v1h-1zM33 38h1v1h-1zM40 38h1v1h-1zM46 38h1v1h-1zM34 46h1v1h-1zM36 47h1v1h-1zM30 48h1v1h-1zM29 49h1v1h-1zM28 50h1v1h-1zM37 50h1v1h-1zM27 51h1v1h-1zM26 52h1v1h-1zM25 53h1v1h-1zM24 54h1v1h-1zM37 54h1v1h-1zM23 55h1v1h-1zM22 56h1v1h-1zM36 57h1v1h-1zM19 58h1v1h-1zM17 59h1v1h-1zM15 60h1v1h-1zM13 61h1v1h-1zM10 62h1v1h-1zM5 63h3v1h-3zM37 63h1v1h-1zM0 64h1v1h-1zM38 64h1v1h-1zM40 65h2v1h-2zM47 67h1v1h-1zM53 73h1v1h-1z"/>
<path fill="#6f6f6f" d="M14 0h1v1h-1zM15 1h1v1h-1zM43 4h1v1h-1zM42 9h1v1h-1zM20 10h1v1h-1zM20 11h1v1h-1zM20 12h1v1h-1zM42 15h1v1h-1zM24 17h1v1h-1zM25 18h1v1h-1zM26 20h1v1h-1zM28 30h1v1h-1zM32 47h1v1h-1zM37 51h1v1h-1zM37 52h1v1h-1zM37 53h1v1h-1zM36 56h1v1h-1zM21 57h1v1h-1zM20 58h1v1h-1zM18 59h1v1h-1zM35 59h1v1h-1zM16 60h2v1h-2zM35 60h1v1h-1zM14 61h1v1h-1zM11 62h2v1h-2zM36 62h1v1h-1zM8 63h2v1h-2zM1 64h4v1h-4zM43 66h3v1h-3z"/>
<path fill="#707070" d="M16 2h1v1h-1zM43 2h1v1h-1zM17 3h1v1h-1zM43 3h1v1h-1zM19 6h1v1h-1zM20 8h1v1h-1zM42 8h1v1h-1zM20 9h1v1h-1zM21 14h1v1h-1zM23 16h1v1h-1zM26 19h1v1h-1zM27 26h1v1h-1zM27 27h1v1h-1zM48 37h1v1h-1zM38 38h1v1h-1zM45 38h1v1h-1zM35 47h1v1h-1zM31 48h1v1h-1zM36 48h1v1h-1zM26 53h1v1h-1zM25 54h1v1h-1zM24 55h1v1h-1zM36 55h1v1h-1zM23 56h1v1h-1zM22 57h1v1h-1zM21 58h1v1h-1zM35 58h1v1h-1zM19 59h1v1h-1zM18 60h1v1h-1zM15 61h2v1h-2zM35 61h1v1h-1zM13 62h1v1h-1zM10 63h1v1h-1zM36 63h1v1h-1zM5 64h3v1h-3zM37 64h1v1h-1zM0 65h2v1h-2zM39 65h1v1h-1zM42 66h1v1h-1zM49 70h1v1h-1zM50 71h1v1h-1zM51 72h1v1h-1zM52 73h1v1h-1z"/>
<path fill="#717171" d="M43 1h1v1h-1zM42 7h1v1h-1zM22 15h1v1h-1zM25 17h1v1h-1zM44 19h1v1h-1zM45 20h1v1h-1zM46 21h1v1h-1zM27 24h1v1h-1zM27 25h1v1h-1zM28 29h1v1h-1zM29 31h1v1h-1zM52 31h1v1h-1zM31 34h1v1h-1zM52 34h1v1h-1zM32 36h1v1h-1zM50 36h1v1h-1zM41 38h1v1h-1zM33 47h2v1h-2zM30 49h1v1h-1zM36 49h1v1h-1zM29 50h1v1h-1zM36 50h1v1h-1zM28 51h1v1h-1zM27 52h1v1h-1zM25 55h1v1h-1zM24 56h1v1h-1zM23 57h1v1h-1zM35 57h1v1h-1zM20 59h1v1h-1zM19 60h1v1h-1zM17 61h1v1h-1zM14 62h2v1h-2zM35 62h1v1h-1zM11 63h2v1h-2zM8 64h2v1h-2zM2 65h4v1h-4zM38 65h1v1h-1zM40 66h2v1h-2zM47 68h1v1h-1zM48 69h1v1h-1z"/>
<path fill="#727272" d="M15 0h1v1h-1zM43 0h1v1h-1zM16 1h1v1h-1zM18 4h1v1h-1zM42 6h1v1h-1zM21 13h1v1h-1zM26 18h1v1h-1zM27 22h1v1h-1zM27 23h1v1h-1zM51 29h1v1h-1zM30 32h1v1h-1zM44 38h1v1h-1zM36 51h1v1h-1zM27 53h1v1h-1zM26 54h1v1h-1zM36 54h1v1h-1zM35 56h1v1h-1zM22 58h1v1h-1zM34 58h1v1h-1zM21 59h1v1h-1zM34 59h1v1h-1zM34 60h1v1h-1zM18 61h1v1h-1zM34 61h1v1h-1zM16 62h1v1h-1zM13 63h1v1h-1zM35 63h1v1h-1zM10 64h2v1h-2zM36 64h1v1h-1zM6 65h2v1h-2zM37 65h1v1h-1zM0 66h3v1h-3zM39 66h1v1h-1zM46 67h1v1h-1z"/>
<path fill="#737373" d="M17 2h1v1h-1zM42 4h1v1h-1zM19 5h1v1h-1zM42 5h1v1h-1zM20 7h1v1h-1zM41 12h1v1h-1zM24 16h1v1h-1zM42 16h1v1h-1zM27 21h1v1h-1zM48 24h1v1h-1zM49 26h1v1h-1zM52 32h1v1h-1zM52 33h1v1h-1zM51 35h1v1h-1zM47 37h1v1h-1zM34 38h1v1h-1zM42 38h2v1h-2zM32 48h1v1h-1zM35 48h1v1h-1zM29 51h1v1h-1zM28 52h1v1h-1zM36 52h1v1h-1zM36 53h1v1h-1zM26 55h1v1h-1zM35 55h1v1h-1zM25 56h1v1h-1zM24 57h1v1h-1zM34 57h1v1h-1zM23 58h1v1h-1zM22 59h1v1h-1zM20 60h1v1h-1zM19 61h1v1h-1zM17 62h1v1h-1zM34 62h1v1h-1zM14 63h2v1h-2zM12 64h1v1h-1zM8 65h2v1h-2zM3 66h3v1h-3zM42 67h4v1h-4zM48 70h1v1h-1zM49 71h1v1h-1zM50 72h1v1h-1zM51 73h1v1h-1z"/>
<path fill="#747474" d="M42 3h1v1h-1zM41 10h1v1h-1zM41 11h1v1h-1zM21 12h1v1h-1zM41 13h1v1h-1zM22 14h1v1h-1zM23 15h1v1h-1zM26 17h1v1h-1zM43 18h1v1h-1zM27 20h1v1h-1zM28 28h1v1h-1zM29 30h1v1h-1zM31 33h1v1h-1zM32 35h1v1h-1zM33 48h2v1h-2zM31 49h1v1h-1zM30 50h1v1h-1zM28 53h1v1h-1zM27 54h1v1h-1zM26 56h1v1h-1zM34 56h1v1h-1zM25 57h1v1h-1zM24 58h1v1h-1zM23 59h1v1h-1zM33 59h1v1h-1zM21 60h1v1h-1zM33 60h1v1h-1zM20 61h1v1h-1zM33 61h1v1h-1zM18 62h1v1h-1zM16 63h1v1h-1zM34 63h1v1h-1zM13 64h2v1h-2zM35 64h1v1h-1zM10 65h2v1h-2zM36 65h1v1h-1zM6 66h2v1h-2zM38 66h1v1h-1zM0 67h3v1h-3zM40 67h2v1h-2zM46 68h1v1h-1zM47 69h1v1h-1z"/>
<path fill="#757575" d="M16 0h1v1h-1zM42 1h1v1h-1zM42 2h1v1h-1zM18 3h1v1h-1zM41 8h1v1h-1zM41 9h1v1h-1zM21 11h1v1h-1zM41 14h1v1h-1zM25 16h1v1h-1zM27 19h1v1h-1zM28 27h1v1h-1zM49 36h1v1h-1zM33 37h1v1h-1zM35 49h1v1h-1zM29 52h1v1h-1zM28 54h1v1h-1zM35 54h1v1h-1zM27 55h1v1h-1zM26 57h1v1h-1zM33 57h1v1h-1zM25 58h1v1h-1zM33 58h1v1h-1zM24 59h1v1h-1zM22 60h2v1h-2zM21 61h1v1h-1zM19 62h1v1h-1zM33 62h1v1h-1zM17 63h1v1h-1zM15 64h1v1h-1zM34 64h1v1h-1zM12 65h1v1h-1zM35 65h1v1h-1zM8 66h2v1h-2zM37 66h1v1h-1zM3 67h3v1h-3zM39 67h1v1h-1zM49 72h1v1h-1zM50 73h1v1h-1z"/>
<path fill="#767676" d="M42 0h1v1h-1zM17 1h1v1h-1zM20 6h1v1h-1zM41 7h1v1h-1zM21 10h1v1h-1zM26 16h1v1h-1zM27 18h1v1h-1zM28 24h1v1h-1zM28 25h1v1h-1zM28 26h1v1h-1zM30 31h1v1h-1zM35 38h1v1h-1zM37 38h1v1h-1zM32 49h1v1h-1zM31 50h1v1h-1zM35 50h1v1h-1zM30 51h1v1h-1zM29 53h1v1h-1zM35 53h1v1h-1zM28 55h1v1h-1zM34 55h1v1h-1zM27 56h1v1h-1zM33 56h1v1h-1zM27 57h1v1h-1zM26 58h1v1h-1zM32 58h1v1h-1zM25 59h1v1h-1zM32 59h1v1h-1zM24 60h1v1h-1zM32 60h1v1h-1zM22 61h1v1h-1zM32 61h1v1h-1zM20 62h1v1h-1zM32 62h1v1h-1zM18 63h2v1h-2zM33 63h1v1h-1zM16 64h1v1h-1zM13 65h2v1h-2zM10 66h2v1h-2zM36 66h1v1h-1zM6 67h3v1h-3zM38 67h1v1h-1zM0 68h4v1h-4zM43 68h3v1h-3zM47 70h1v1h-1zM48 71h1v1h-1z"/>
<path fill="#777777" d="M18 2h1v1h-1zM19 4h1v1h-1zM41 5h1v1h-1zM41 6h1v1h-1zM21 9h1v1h-1zM22 13h1v1h-1zM41 15h1v1h-1zM27 17h1v1h-1zM28 22h1v1h-1zM28 23h1v1h-1zM50 28h1v1h-1zM29 29h1v1h-1zM31 32h1v1h-1zM32 34h1v1h-1zM36 38h1v1h-1zM33 49h2v1h-2zM35 51h1v1h-1zM30 52h1v1h-1zM35 52h1v1h-1zM29 54h1v1h-1zM34 54h1v1h-1zM29 55h1v1h-1zM28 56h1v1h-1zM28 57h1v1h-1zM32 57h1v1h-1zM27 58h2v1h-2zM31 58h1v1h-1zM26 59h2v1h-2zM31 59h1v1h-1zM25 60h1v1h-1zM31 60h1v1h-1zM23 61h2v1h-2zM31 61h1v1h-1zM21 62h2v1h-2zM20 63h1v1h-1zM32 63h1v1h-1zM17 64h2v1h-2zM33 64h1v1h-1zM15 65h1v1h-1zM34 65h1v1h-1zM12 66h2v1h-2zM35 66h1v1h-1zM9 67h2v1h-2zM37 67h1v1h-1zM4 68h3v1h-3zM40 68h3v1h-3zM0 69h1v1h-1zM46 69h1v1h-1z"/>
<path fill="#787878" d="M17 0h1v1h-1zM41 3h1v1h-1zM41 4h1v1h-1zM21 8h1v1h-1zM23 14h1v1h-1zM24 15h1v1h-1zM27 16h1v1h-1zM42 17h1v1h-1zM28 21h1v1h-1zM51 34h1v1h-1zM46 37h1v1h-1zM32 50h1v1h-1zM31 51h1v1h-1zM30 53h1v1h-1zM30 54h1v1h-1zM30 55h1v1h-1zM32 55h2v1h-2zM29 56h4v1h-4zM29 57h3v1h-3zM29 58h2v1h-2zM28 59h3v1h-3zM26 60h5v1h-5zM25 61h2v1h-2zM30 61h1v1h-1zM23 62h1v1h-1zM30 62h2v1h-2zM21 63h1v1h-1zM31 63h1v1h-1zM19 64h1v1h-1zM32 64h1v1h-1zM16 65h2v1h-2zM33 65h1v1h-1zM14 66h1v1h-1zM34 66h1v1h-1zM11 67h1v1h-1zM36 67h1v1h-1zM7 68h2v1h-2zM39 68h1v1h-1zM1 69h4v1h-4zM45 69h1v1h-1zM47 71h1v1h-1zM48 72h1v1h-1zM49 73h1v1h-1z"/>
<path fill="#797979" d="M41 1h1v1h-1zM41 2h1v1h-1zM19 3h1v1h-1zM40 11h1v1h-1zM22 12h1v1h-1zM28 20h1v1h-1zM47 23h1v1h-1zM29 28h1v1h-1zM30 30h1v1h-1zM51 30h1v1h-1zM50 35h1v1h-1zM33 36h1v1h-1zM48 36h1v1h-1zM33 50h2v1h-2zM31 52h1v1h-1zM31 53h1v1h-1zM34 53h1v1h-1zM31 54h3v1h-3zM31 55h1v1h-1zM27 61h3v1h-3zM24 62h3v1h-3zM28 62h2v1h-2zM22 63h2v1h-2zM30 63h1v1h-1zM20 64h2v1h-2zM31 64h1v1h-1zM18 65h1v1h-1zM32 65h1v1h-1zM15 66h2v1h-2zM12 67h2v1h-2zM35 67h1v1h-1zM9 68h2v1h-2zM38 68h1v1h-1zM5 69h2v1h-2zM43 69h2v1h-2zM0 70h2v1h-2zM46 70h1v1h-1z"/>
<path fill="#7a7a7a" d="M41 0h1v1h-1zM18 1h1v1h-1zM20 5h1v1h-1zM21 7h1v1h-1zM40 8h1v1h-1zM40 9h1v1h-1zM40 10h1v1h-1zM40 12h1v1h-1zM40 13h1v1h-1zM25 15h1v1h-1zM27 15h1v1h-1zM28 19h1v1h-1zM32 33h1v1h-1zM32 51h1v1h-1zM34 51h1v1h-1zM32 52h1v1h-1zM34 52h1v1h-1zM32 53h2v1h-2zM27 62h1v1h-1zM24 63h6v1h-6zM22 64h2v1h-2zM30 64h1v1h-1zM19 65h2v1h-2zM31 65h1v1h-1zM17 66h1v1h-1zM33 66h1v1h-1zM14 67h2v1h-2zM34 67h1v1h-1zM11 68h2v1h-2zM36 68h2v1h-2zM7 69h2v1h-2zM40 69h3v1h-3zM2 70h3v1h-3zM45 70h1v1h-1zM47 72h1v1h-1zM48 73h1v1h-1z"/>
<path fill="#7b7b7b" d="M40 6h1v1h-1zM40 7h1v1h-1zM22 11h1v1h-1zM23 13h1v1h-1zM26 15h1v1h-1zM28 16h1v1h-1zM41 16h1v1h-1zM28 17h1v1h-1zM28 18h1v1h-1zM29 27h1v1h-1zM31 31h1v1h-1zM33 35h1v1h-1zM34 37h1v1h-1zM33 51h1v1h-1zM33 52h1v1h-1zM24 64h6v1h-6zM21 65h2v1h-2zM30 65h1v1h-1zM18 66h2v1h-2zM32 66h1v1h-1zM16 67h1v1h-1zM33 67h1v1h-1zM13 68h2v1h-2zM35 68h1v1h-1zM9 69h2v1h-2zM38 69h2v1h-2zM5 70h3v1h-3zM44 70h1v1h-1zM0 71h3v1h-3zM46 71h1v1h-1z"/>
<path fill="#7c7c7c" d="M18 0h1v1h-1zM19 2h1v1h-1zM20 4h1v1h-1zM40 4h1v1h-1zM40 5h1v1h-1zM22 10h1v1h-1zM24 14h1v1h-1zM40 14h1v1h-1zM46 22h1v1h-1zM29 23h1v1h-1zM29 24h1v1h-1zM29 25h1v1h-1zM48 25h1v1h-1zM29 26h1v1h-1zM49 27h1v1h-1zM30 29h1v1h-1zM51 33h1v1h-1zM23 65h7v1h-7zM20 66h2v1h-2zM30 66h2v1h-2zM17 67h2v1h-2zM32 67h1v1h-1zM15 68h1v1h-1zM34 68h1v1h-1zM11 69h2v1h-2zM37 69h1v1h-1zM8 70h2v1h-2zM42 70h2v1h-2zM3 71h3v1h-3zM45 71h1v1h-1zM46 72h1v1h-1zM47 73h1v1h-1z"/>
<path fill="#7d7d7d" d="M40 1h1v1h-1zM40 2h1v1h-1zM40 3h1v1h-1zM21 6h1v1h-1zM22 9h1v1h-1zM23 12h1v1h-1zM28 15h1v1h-1zM44 20h1v1h-1zM29 21h1v1h-1zM29 22h1v1h-1zM51 31h1v1h-1zM32 32h1v1h-1zM33 34h1v1h-1zM40 37h1v1h-1zM45 37h1v1h-1zM22 66h3v1h-3zM28 66h2v1h-2zM19 67h2v1h-2zM31 67h1v1h-1zM16 68h2v1h-2zM33 68h1v1h-1zM13 69h2v1h-2zM35 69h2v1h-2zM10 70h2v1h-2zM39 70h3v1h-3zM6 71h2v1h-2zM44 71h1v1h-1zM0 72h4v1h-4z"/>
<path fill="#7e7e7e" d="M40 0h1v1h-1zM19 1h1v1h-1zM22 8h1v1h-1zM40 15h1v1h-1zM43 19h1v1h-1zM29 20h1v1h-1zM45 21h1v1h-1zM51 32h1v1h-1zM47 36h1v1h-1zM39 37h1v1h-1zM25 66h3v1h-3zM21 67h3v1h-3zM29 67h2v1h-2zM18 68h2v1h-2zM31 68h2v1h-2zM15 69h2v1h-2zM34 69h1v1h-1zM12 70h2v1h-2zM37 70h2v1h-2zM8 71h3v1h-3zM43 71h1v1h-1zM4 72h3v1h-3zM45 72h1v1h-1zM0 73h1v1h-1zM46 73h1v1h-1z"/>
<path fill="#7f7f7f" d="M19 0h1v1h-1zM20 3h1v1h-1zM39 7h1v1h-1zM39 8h1v1h-1zM39 9h1v1h-1zM39 10h1v1h-1zM23 11h1v1h-1zM39 11h1v1h-1zM39 12h1v1h-1zM24 13h1v1h-1zM25 14h1v1h-1zM27 14h1v1h-1zM29 19h1v1h-1zM30 28h1v1h-1zM50 29h1v1h-1zM31 30h1v1h-1zM49 35h1v1h-1zM41 37h1v1h-1zM24 67h5v1h-5zM20 68h2v1h-2zM30 68h1v1h-1zM17 69h2v1h-2zM32 69h2v1h-2zM14 70h2v1h-2zM36 70h1v1h-1zM11 71h2v1h-2zM40 71h3v1h-3zM7 72h2v1h-2zM44 72h1v1h-1zM1 73h4v1h-4z"/>
<path fill="#808080" d="M39 4h1v1h-1zM21 5h1v1h-1zM39 5h1v1h-1zM39 6h1v1h-1zM39 13h1v1h-1zM26 14h1v1h-1zM29 16h1v1h-1zM29 17h1v1h-1zM29 18h1v1h-1zM42 18h1v1h-1zM33 33h1v1h-1zM50 34h1v1h-1zM34 36h1v1h-1zM35 37h1v1h-1zM42 37h1v1h-1zM44 37h1v1h-1zM22 68h8v1h-8zM19 69h2v1h-2zM31 69h1v1h-1zM16 70h2v1h-2zM34 70h2v1h-2zM13 71h2v1h-2zM38 71h2v1h-2zM9 72h2v1h-2zM43 72h1v1h-1zM5 73h2v1h-2zM45 73h1v1h-1z"/>
<path fill="#818181" d="M39 0h1v1h-1zM39 1h1v1h-1zM20 2h1v1h-1zM39 2h1v1h-1zM39 3h1v1h-1zM22 7h1v1h-1zM23 10h1v1h-1zM24 12h1v1h-1zM28 14h1v1h-1zM29 15h1v1h-1zM41 17h1v1h-1zM30 23h1v1h-1zM30 24h1v1h-1zM30 25h1v1h-1zM30 26h1v1h-1zM30 27h1v1h-1zM32 31h1v1h-1zM43 37h1v1h-1zM21 69h4v1h-4zM27 69h4v1h-4zM18 70h2v1h-2zM32 70h2v1h-2zM15 71h2v1h-2zM36 71h2v1h-2zM11 72h2v1h-2zM41 72h2v1h-2zM7 73h3v1h-3zM44 73h1v1h-1z"/>
<path fill="#828282" d="M20 1h1v1h-1zM21 4h1v1h-1zM23 9h1v1h-1zM25 13h1v1h-1zM39 14h1v1h-1zM40 16h1v1h-1zM30 21h1v1h-1zM30 22h1v1h-1zM31 29h1v1h-1zM34 35h1v1h-1zM38 37h1v1h-1zM25 69h2v1h-2zM20 70h3v1h-3zM29 70h3v1h-3zM17 71h2v1h-2zM34 71h2v1h-2zM13 72h2v1h-2zM38 72h3v1h-3zM10 73h2v1h-2zM43 73h1v1h-1z"/>
<path fill="#838383" d="M20 0h1v1h-1zM23 8h1v1h-1zM38 8h1v1h-1zM38 9h1v1h-1zM38 10h1v1h-1zM24 11h1v1h-1zM26 13h1v1h-1zM30 20h1v1h-1zM23 70h6v1h-6zM19 71h2v1h-2zM31 71h3v1h-3zM15 72h3v1h-3zM36 72h2v1h-2zM12 73h2v1h-2zM41 73h2v1h-2z"/>
<path fill="#848484" d="M38 0h1v1h-1zM38 1h1v1h-1zM38 2h1v1h-1zM21 3h1v1h-1zM38 3h1v1h-1zM38 4h1v1h-1zM38 5h1v1h-1zM22 6h1v1h-1zM38 6h1v1h-1zM38 7h1v1h-1zM24 10h1v1h-1zM38 11h1v1h-1zM25 12h1v1h-1zM38 12h1v1h-1zM27 13h1v1h-1zM29 14h1v1h-1zM39 15h1v1h-1zM30 16h1v1h-1zM30 17h1v1h-1zM30 19h1v1h-1zM47 24h1v1h-1zM33 32h1v1h-1zM34 34h1v1h-1zM46 36h1v1h-1zM36 37h1v1h-1zM21 71h10v1h-10zM18 72h2v1h-2zM33 72h3v1h-3zM14 73h2v1h-2zM38 73h3v1h-3z"/>
<path fill="#858585" d="M21 2h1v1h-1zM23 7h1v1h-1zM24 9h1v1h-1zM25 11h1v1h-1zM26 12h1v1h-1zM28 13h1v1h-1zM38 13h1v1h-1zM30 15h1v1h-1zM30 18h1v1h-1zM48 26h1v1h-1zM31 28h1v1h-1zM49 28h1v1h-1zM32 30h1v1h-1zM48 35h1v1h-1zM20 72h3v1h-3zM30 72h3v1h-3zM16 73h3v1h-3zM35 73h3v1h-3z"/>
<path fill="#868686" d="M21 1h1v1h-1zM22 5h1v1h-1zM24 8h1v1h-1zM25 10h1v1h-1zM38 14h1v1h-1zM31 27h1v1h-1zM50 30h1v1h-1zM50 33h1v1h-1zM35 36h1v1h-1zM37 37h1v1h-1zM23 72h7v1h-7zM19 73h3v1h-3zM32 73h3v1h-3z"/>
<path fill="#878787" d="M21 0h1v1h-1zM37 6h1v1h-1zM37 7h1v1h-1zM37 8h1v1h-1zM25 9h1v1h-1zM37 9h1v1h-1zM37 10h1v1h-1zM26 11h1v1h-1zM27 12h1v1h-1zM29 13h1v1h-1zM30 14h1v1h-1zM31 16h1v1h-1zM39 16h1v1h-1zM40 17h1v1h-1zM31 21h1v1h-1zM31 22h1v1h-1zM31 23h1v1h-1zM31 24h1v1h-1zM31 25h1v1h-1zM31 26h1v1h-1zM34 33h1v1h-1zM22 73h10v1h-10z"/>
<path fill="#888888" d="M37 0h1v1h-1zM37 1h1v1h-1zM37 2h1v1h-1zM37 3h1v1h-1zM22 4h1v1h-1zM37 4h1v1h-1zM37 5h1v1h-1zM23 6h1v1h-1zM24 7h1v1h-1zM25 8h1v1h-1zM26 10h1v1h-1zM37 11h1v1h-1zM28 12h1v1h-1zM37 12h1v1h-1zM31 15h1v1h-1zM38 15h1v1h-1zM31 17h1v1h-1zM31 20h1v1h-1zM32 29h1v1h-1zM33 31h1v1h-1z"/>
<path fill="#898989" d="M22 3h1v1h-1zM26 9h1v1h-1zM27 11h1v1h-1zM30 13h1v1h-1zM37 13h1v1h-1zM31 14h1v1h-1zM32 15h1v1h-1zM31 18h1v1h-1zM41 18h1v1h-1zM31 19h1v1h-1zM43 20h1v1h-1zM46 23h1v1h-1zM50 32h1v1h-1zM49 34h1v1h-1zM35 35h1v1h-1z"/>
<path fill="#8a8a8a" d="M36 0h1v1h-1zM22 1h1v1h-1zM36 1h1v1h-1zM22 2h1v1h-1zM25 7h1v1h-1zM36 7h1v1h-1zM26 8h1v1h-1zM36 8h1v1h-1zM36 9h1v1h-1zM27 10h1v1h-1zM36 10h1v1h-1zM28 11h1v1h-1zM29 12h1v1h-1zM32 14h1v1h-1zM37 14h1v1h-1zM33 15h1v1h-1zM32 16h1v1h-1zM42 19h1v1h-1zM44 21h1v1h-1zM50 31h1v1h-1zM34 32h1v1h-1zM47 35h1v1h-1zM45 36h1v1h-1z"/>
<path fill="#8b8b8b" d="M22 0h1v1h-1zM36 2h1v1h-1zM36 3h1v1h-1zM36 4h1v1h-1zM23 5h1v1h-1zM36 5h1v1h-1zM24 6h1v1h-1zM36 6h1v1h-1zM27 9h1v1h-1zM36 11h1v1h-1zM30 12h1v1h-1zM36 12h1v1h-1zM31 13h1v1h-1zM38 16h1v1h-1zM32 17h1v1h-1zM45 22h1v1h-1zM32 28h1v1h-1zM35 34h1v1h-1z"/>
<path fill="#8c8c8c" d="M23 4h1v1h-1zM26 7h1v1h-1zM28 10h1v1h-1zM29 11h1v1h-1zM32 13h1v1h-1zM36 13h1v1h-1zM33 14h1v1h-1zM37 15h1v1h-1zM33 16h1v1h-1zM39 17h1v1h-1zM32 20h1v1h-1zM32 21h1v1h-1zM32 22h1v1h-1zM32 23h1v1h-1zM32 27h1v1h-1zM33 30h1v1h-1zM36 36h1v1h-1zM39 36h2v1h-2z"/>
<path fill="#8d8d8d" d="M35 0h1v1h-1zM35 1h1v1h-1zM23 2h1v1h-1zM35 2h1v1h-1zM23 3h1v1h-1zM35 3h1v1h-1zM35 4h1v1h-1zM35 5h1v1h-1zM25 6h1v1h-1zM35 6h1v1h-1zM35 7h1v1h-1zM27 8h1v1h-1zM35 8h1v1h-1zM28 9h1v1h-1zM35 9h1v1h-1zM29 10h1v1h-1zM35 10h1v1h-1zM30 11h1v1h-1zM35 11h1v1h-1zM31 12h1v1h-1zM35 12h1v1h-1zM33 13h3v1h-3zM34 14h1v1h-1zM36 14h1v1h-1zM34 15h1v1h-1zM32 18h1v1h-1zM32 19h1v1h-1zM32 24h1v1h-1zM32 25h1v1h-1zM32 26h1v1h-1zM48 27h1v1h-1zM49 29h1v1h-1zM41 36h1v1h-1z"/>
<path fill="#8e8e8e" d="M23 0h1v1h-1zM23 1h1v1h-1zM24 5h1v1h-1zM27 7h1v1h-1zM28 8h1v1h-1zM29 9h1v1h-1zM30 10h1v1h-1zM34 10h1v1h-1zM31 11h1v1h-1zM34 11h1v1h-1zM32 12h3v1h-3zM35 14h1v1h-1zM36 15h1v1h-1zM34 16h1v1h-1zM37 16h1v1h-1zM33 17h1v1h-1zM40 18h1v1h-1zM47 25h1v1h-1zM35 33h1v1h-1zM42 36h3v1h-3z"/>
<path fill="#8f8f8f" d="M34 0h1v1h-1zM34 1h1v1h-1zM34 2h1v1h-1zM34 3h1v1h-1zM24 4h1v1h-1zM34 4h1v1h-1zM34 5h1v1h-1zM26 6h1v1h-1zM34 6h1v1h-1zM34 7h1v1h-1zM34 8h1v1h-1zM34 9h1v1h-1zM31 10h1v1h-1zM33 10h1v1h-1zM32 11h2v1h-2zM35 15h1v1h-1zM35 16h2v1h-2zM38 17h1v1h-1zM34 31h1v1h-1zM37 36h2v1h-2z"/>
<path fill="#909090" d="M24 0h1v1h-1zM24 1h1v1h-1zM24 2h1v1h-1zM24 3h1v1h-1zM25 5h1v1h-1zM27 6h1v1h-1zM28 7h1v1h-1zM33 7h1v1h-1zM29 8h1v1h-1zM33 8h1v1h-1zM30 9h4v1h-4zM32 10h1v1h-1zM34 17h1v1h-1zM37 17h1v1h-1zM33 18h1v1h-1zM33 19h1v1h-1zM33 20h1v1h-1zM33 21h1v1h-1zM33 29h1v1h-1zM49 33h1v1h-1zM36 35h1v1h-1z"/>
<path fill="#919191" d="M33 0h1v1h-1zM33 1h1v1h-1zM33 2h1v1h-1zM33 3h1v1h-1zM25 4h1v1h-1zM33 4h1v1h-1zM26 5h1v1h-1zM33 5h1v1h-1zM28 6h1v1h-1zM33 6h1v1h-1zM29 7h1v1h-1zM32 7h1v1h-1zM30 8h3v1h-3zM35 17h2v1h-2zM34 18h1v1h-1zM39 18h1v1h-1zM33 22h1v1h-1zM33 23h1v1h-1zM35 32h1v1h-1zM48 34h1v1h-1zM46 35h1v1h-1z"/>
<path fill="#929292" d="M25 0h1v1h-1zM32 0h1v1h-1zM25 1h1v1h-1zM25 2h1v1h-1zM25 3h1v1h-1zM26 4h1v1h-1zM32 4h1v1h-1zM27 5h1v1h-1zM32 5h1v1h-1zM29 6h4v1h-4zM30 7h2v1h-2zM35 18h1v1h-1zM34 19h1v1h-1zM41 19h1v1h-1zM33 24h1v1h-1zM33 28h1v1h-1z"/>
<path fill="#939393" d="M32 1h1v1h-1zM32 2h1v1h-1zM26 3h1v1h-1zM32 3h1v1h-1zM27 4h1v1h-1zM31 4h1v1h-1zM28 5h4v1h-4zM36 18h1v1h-1zM38 18h1v1h-1zM34 20h1v1h-1zM33 25h1v1h-1zM33 26h1v1h-1zM33 27h1v1h-1zM49 30h1v1h-1zM36 34h1v1h-1z"/>
<path fill="#949494" d="M26 0h2v1h-2zM30 0h2v1h-2zM26 1h1v1h-1zM31 1h1v1h-1zM26 2h2v1h-2zM31 2h1v1h-1zM27 3h2v1h-2zM30 3h2v1h-2zM28 4h3v1h-3zM37 18h1v1h-1zM35 19h1v1h-1zM42 20h1v1h-1zM34 30h1v1h-1zM49 32h1v1h-1zM37 35h1v1h-1z"/>
<path fill="#959595" d="M28 0h2v1h-2zM27 1h4v1h-4zM28 2h3v1h-3zM29 3h1v1h-1zM34 21h1v1h-1zM46 24h1v1h-1zM48 28h1v1h-1zM49 31h1v1h-1z"/>
<path fill="#969696" d="M40 19h1v1h-1zM43 21h1v1h-1zM34 22h1v1h-1zM35 31h1v1h-1zM36 33h1v1h-1zM38 35h1v1h-1zM45 35h1v1h-1z"/>
<path fill="#979797" d="M36 19h1v1h-1zM35 20h1v1h-1zM34 23h1v1h-1zM47 26h1v1h-1zM39 35h2v1h-2z"/>
<path fill="#989898" d="M37 19h1v1h-1zM39 19h1v1h-1zM34 24h1v1h-1zM34 29h1v1h-1z"/>
<path fill="#999999" d="M38 19h1v1h-1zM35 21h1v1h-1zM44 22h1v1h-1zM45 23h1v1h-1zM34 25h1v1h-1zM36 32h1v1h-1zM37 34h1v1h-1zM47 34h1v1h-1zM41 35h1v1h-1z"/>
<path fill="#9a9a9a" d="M36 20h1v1h-1zM34 26h1v1h-1zM34 28h1v1h-1zM48 33h1v1h-1zM42 35h1v1h-1zM44 35h1v1h-1z"/>
<path fill="#9b9b9b" d="M41 20h1v1h-1zM35 22h1v1h-1zM34 27h1v1h-1zM48 29h1v1h-1zM43 35h1v1h-1z"/>
<path fill="#9c9c9c" d="M38 34h1v1h-1z"/>
<path fill="#9d9d9d" d="M37 20h1v1h-1zM35 23h1v1h-1zM37 33h1v1h-1z"/>
<path fill="#9e9e9e" d="M36 21h1v1h-1zM35 24h1v1h-1zM35 30h1v1h-1zM36 31h1v1h-1zM39 34h1v1h-1z"/>
<path fill="#9f9f9f" d="M38 20h1v1h-1zM40 20h1v1h-1zM47 27h1v1h-1zM48 32h1v1h-1zM46 34h1v1h-1z"/>
<path fill="#a0a0a0" d="M39 20h1v1h-1zM42 21h1v1h-1zM35 25h1v1h-1zM46 25h1v1h-1zM48 30h1v1h-1zM40 34h1v1h-1z"/>
<path fill="#a1a1a1" d="M36 22h1v1h-1zM48 31h1v1h-1zM38 33h1v1h-1z"/>
<path fill="#a2a2a2" d="M37 21h1v1h-1zM37 32h1v1h-1zM41 34h1v1h-1zM45 34h1v1h-1z"/>
<path fill="#a3a3a3" d="M35 26h1v1h-1zM35 29h1v1h-1zM47 33h1v1h-1z"/>
<path fill="#a4a4a4" d="M39 33h1v1h-1zM42 34h1v1h-1z"/>
<path fill="#a5a5a5" d="M43 22h1v1h-1zM36 23h1v1h-1zM47 28h1v1h-1zM43 34h2v1h-2z"/>
<path fill="#a6a6a6" d="M38 21h1v1h-1zM45 24h1v1h-1zM35 27h1v1h-1zM35 28h1v1h-1zM40 33h1v1h-1z"/>
<path fill="#a7a7a7" d="M41 21h1v1h-1zM44 23h1v1h-1z"/>
<path fill="#a8a8a8" d="M37 22h1v1h-1zM36 24h1v1h-1zM38 32h1v1h-1z"/>
<path fill="#a9a9a9" d="M39 21h1v1h-1zM36 30h1v1h-1zM39 32h1v1h-1zM47 32h1v1h-1zM46 33h1v1h-1z"/>
<path fill="#aaaaaa" d="M40 21h1v1h-1zM46 26h1v1h-1zM47 29h1v1h-1zM41 33h1v1h-1z"/>
<path fill="#ababab" d="M37 31h1v1h-1z"/>
<path fill="#acacac" d="M36 25h1v1h-1zM47 30h1v1h-1zM47 31h1v1h-1zM40 32h1v1h-1z"/>
<path fill="#adadad" d="M42 33h1v1h-1zM45 33h1v1h-1z"/>
<path fill="#aeaeae" d="M38 22h1v1h-1zM42 22h1v1h-1zM37 23h1v1h-1z"/>
<path fill="#afafaf" d="M43 33h2v1h-2z"/>
<path fill="#b0b0b0" d="M36 26h1v1h-1z"/>
<path fill="#b1b1b1" d="M46 27h1v1h-1zM36 29h1v1h-1zM39 31h1v1h-1zM46 32h1v1h-1z"/>
<path fill="#b2b2b2" d="M45 25h1v1h-1zM41 32h1v1h-1z"/>
<path fill="#b3b3b3" d="M39 22h1v1h-1zM37 24h1v1h-1zM36 27h1v1h-1zM38 31h1v1h-1z"/>
<path fill="#b4b4b4" d="M41 22h1v1h-1zM43 23h1v1h-1zM36 28h1v1h-1zM40 31h1v1h-1z"/>
<path fill="#b5b5b5" d="M44 24h1v1h-1zM46 31h1v1h-1z"/>
<path fill="#b6b6b6" d="M40 22h1v1h-1zM46 28h1v1h-1zM45 32h1v1h-1z"/>
<path fill="#b7b7b7" d="M38 23h1v1h-1zM42 32h1v1h-1z"/>
<path fill="#b8b8b8" d="M46 29h1v1h-1zM37 30h1v1h-1zM46 30h1v1h-1z"/>
<path fill="#b9b9b9" d="M37 25h1v1h-1zM43 32h2v1h-2z"/>
<path fill="#bbbbbb" d="M45 26h1v1h-1z"/>
<path fill="#bcbcbc" d="M41 31h1v1h-1z"/>
<path fill="#bdbdbd" d="M42 23h1v1h-1zM45 31h1v1h-1z"/>
<path fill="#bebebe" d="M39 23h1v1h-1z"/>
<path fill="#bfbfbf" d="M38 24h1v1h-1zM37 26h1v1h-1zM37 29h1v1h-1z"/>
<path fill="#c1c1c1" d="M44 25h1v1h-1zM45 27h1v1h-1zM38 30h2v1h-2zM45 30h1v1h-1zM42 31h1v1h-1zM44 31h1v1h-1z"/>
<path fill="#c2c2c2" d="M40 23h2v1h-2zM43 24h1v1h-1z"/>
<path fill="#c3c3c3" d="M37 27h1v1h-1zM37 28h1v1h-1zM43 31h1v1h-1z"/>
<path fill="#c4c4c4" d="M45 28h1v1h-1zM45 29h1v1h-1zM40 30h1v1h-1z"/>
<path fill="#c7c7c7" d="M38 25h1v1h-1z"/>
<path fill="#c9c9c9" d="M39 24h1v1h-1zM41 30h1v1h-1zM44 30h1v1h-1z"/>
<path fill="#cacaca" d="M38 29h1v1h-1z"/>
<path fill="#cbcbcb" d="M42 24h1v1h-1zM44 26h1v1h-1z"/>
<path fill="#cdcdcd" d="M38 26h1v1h-1zM42 30h2v1h-2z"/>
<path fill="#cecece" d="M40 24h1v1h-1zM43 25h1v1h-1zM44 29h1v1h-1z"/>
<path fill="#cfcfcf" d="M41 24h1v1h-1zM38 28h1v1h-1z"/>
<path fill="#d0d0d0" d="M44 27h1v1h-1zM39 29h1v1h-1z"/>
<path fill="#d1d1d1" d="M38 27h1v1h-1zM44 28h1v1h-1z"/>
<path fill="#d2d2d2" d="M39 25h1v1h-1z"/>
<path fill="#d4d4d4" d="M40 29h1v1h-1z"/>
<path fill="#d5d5d5" d="M43 29h1v1h-1z"/>
<path fill="#d7d7d7" d="M42 25h1v1h-1zM43 26h1v1h-1z"/>
<path fill="#d8d8d8" d="M41 29h2v1h-2z"/>
<path fill="#d9d9d9" d="M39 28h1v1h-1z"/>
<path fill="#dadada" d="M40 25h1v1h-1zM39 26h1v1h-1z"/>
<path fill="#dbdbdb" d="M41 25h1v1h-1zM43 28h1v1h-1z"/>
<path fill="#dcdcdc" d="M39 27h1v1h-1zM43 27h1v1h-1z"/>
<path fill="#e0e0e0" d="M42 26h1v1h-1zM40 28h1v1h-1z"/>
<path fill="#e1e1e1" d="M42 28h1v1h-1z"/>
<path fill="#e2e2e2" d="M40 26h1v1h-1z"/>
<path fill="#e3e3e3" d="M41 28h1v1h-1z"/>
<path fill="#e4e4e4" d="M41 26h1v1h-1zM42 27h1v1h-1z"/>
<path fill="#e5e5e5" d="M40 27h1v1h-1z"/>
<path fill="#e7e7e7" d="M41 27h1v1h-1z"/>
</g></g></g>
<path d="M1718,973 1725.9,980.9 1734.8,982.7 1737.4,988 1736.5,993.3 1733,997.7 1735.7,1002.1 1741,1005.7 1747.1,1011.8 1754.2,1019.8 1760.4,1026 1765.7,1031.3 1767.5,1037.5 1772.8,1039.2 1773.6,1045.4 1774.5,1053.4 1778.9,1058.7 1786,1060.4 1794.8,1060.4 1803.7,1061.7 1810.7,1064 1816.9,1068.4 1823.1,1071.9 1830.2,1073.7 1837.2,1073.7 1841.7,1076.3 1842.5,1081.6 1847.8,1083.4 1854,1085.2 1860.2,1088.7 1867.3,1093.1 1872.6,1096.6 1876.1,1101.9 1878.8,1109 1879.6,1115.2 1883.2,1119.6 1885.8,1126.7 1889.4,1133.7 1892.9,1139.9 1897.3,1144.3 1899.1,1149.6 1904.4,1155.8 1907.9,1162 1909.7,1168.2 1914.1,1173.5 1917.6,1179.7 1918.5,1185 1922.9,1189.4 1924.7,1196.5 1926.5,1203.5 1930.9,1208.8 1937.1,1210.1 1944.1,1214.8 1951.2,1218.4 1958.3,1223.1 1965.3,1229 1971.2,1234.9 1977.1,1241.9 1979.5,1249 1980.1,1256.1 1982.4,1263.1 1984.8,1270.2 1985.9,1274.9 1983,1278.4 1978.3,1277.3 1974.2,1272.5 1970,1267.8 1965.3,1266.1 1958.3,1266.1 1951.2,1265.2 1945.3,1263.7 1941.8,1259.6 1941.2,1253.7 1942.4,1249 1939.4,1254.9 1941.2,1261.9 1947.7,1267.8 1955.9,1271.4 1963,1274.9 1967.7,1279.6 1973.6,1285.5 1980.6,1289 1985.9,1294.8 1993,1299.5 2000,1298.9 2007.1,1297.1 2014.2,1302.4 2020,1307.7 2027.1,1313.6 2033,1317.7 2037.1,1324.2 2038.3,1332.4 2038.9,1341.9 2038.3,1350.1 2035.4,1354.8 2033,1358.4 2035.4,1363.1 2040.1,1367.8 2046,1371.3 2051.8,1374.9 2057.7,1377.2 2064.8,1379.6 2071.9,1384.3 2077.8,1389 2083.7,1393.1 2090.7,1396.6 2095.4,1401.9 2099,1407.8 2100.7,1413.7 2102.5,1418.4 2106.6,1420.2 2111.9,1417.3 2117.8,1412.5 2121.3,1406.7 2122.5,1400.8 2120.2,1396.1 2115.5,1391.3 2111.9,1385.5 2109.6,1379.6 2107.2,1374.9 2100.1,1373.7 2097.8,1379.6 2093.1,1381.9 2087.2,1379.6 2083.1,1374.9 2081.3,1369 2082.5,1363.1 2086.6,1359.5 2084.8,1353.7 2080.1,1347.8 2074.2,1341.9 2070.7,1336 2067.2,1330.1 2062.4,1325.4 2061.3,1319.5 2058.9,1313.6 2055.4,1307.7 2049.5,1304.2 2044.8,1299.5 2041.2,1293.6 2036.5,1286.5 2031.8,1280.6 2027.1,1274.7 2021.2,1270 2017.7,1263 2015.3,1255.9 2013.6,1250 2012.4,1247.8 2006.6,1244.3 2000.7,1238.4 1994.8,1232.5 1991.2,1223.1 1990.1,1217.2 1984.2,1213.7 1977.1,1208.9 1970,1205.4 1965.3,1200.7 1961.2,1193.6 1960,1184.2 1958.3,1174.8 1955.9,1165.4 1953.6,1157.1 1953,1147.7 1953,1138.3 1958.3,1140.6 1965.3,1145.3 1972.4,1150 1978.3,1148.9 1981.8,1145.3 1986.5,1147.7 1991.2,1152.4 1997.1,1156.5 2003,1158.3 2008.3,1160.6 2008.9,1167.7 2008.3,1174.8 2011.3,1180.7 2016,1185.4 2018.3,1192.4 2020.7,1199.5 2025.4,1205.4 2030.1,1212.5 2033.7,1218.4 2036,1225.4 2041.9,1231.3 2047.8,1234.9 2051.3,1240.7 2057.2,1245.5 2061.9,1250.2 2063.1,1256.1 2060.7,1261.9 2065.5,1263.1 2071.3,1261.9 2077.2,1260.8 2083.1,1261.9 2089,1264.3 2091.4,1269 2089,1274.9 2086.7,1280.8 2085.5,1285.5 2091.4,1286.7 2097.3,1287.9 2104.3,1286.7 2107.9,1291.4 2111.4,1297.3 2118.5,1298.5 2124.3,1300.8 2133.1,1312.4 2128.4,1316 2123.7,1320.7 2121.9,1326.6 2122.5,1333.6 2121.3,1340.7 2127.2,1339.5 2133.1,1333.6 2140.2,1333.6 2144.9,1338.3 2150.8,1341.9 2156.7,1341.9 2161.4,1346.6 2166.1,1351.3 2170.8,1356 2173.2,1360.7 2180,1365.4 2186,1374.7 2193.1,1381.8 2200.1,1389.8 2207.2,1397.7 2214.3,1405.7 2221.3,1411 2228.4,1417.1 2233.7,1424.2 2238.1,1431.3 2239,1440.1 2241.7,1448.9 2247.8,1456 2253.1,1463.1 2252.3,1473.7 2250.5,1482.5 2246.1,1489.6 2240.8,1494.9 2239.9,1501.9 2243.4,1509 2247.8,1516.1 2254.9,1522.3 2260.2,1528.4 2267.3,1533.7 2276.1,1537.3 2284.9,1541.7 2292,1546.1 2299.1,1551.4 2304.4,1558.5 2311.4,1562 2322,1565.5 2332.7,1569.1 2343.3,1571.7 2352.1,1573.5 2359.2,1577.9 2366.2,1585 2373.3,1590.3 2380.4,1593.8 2380.6,1593.8 2380.6,974.4 1718,974.4Z" fill="#fff" clip-path="url(#axd)"/>
<path d="M1482.9 974.4V1862.9M1451.9 1199.2H2380.6M1793.4 974.4V1862.9M1451.9 1509.7H2380.6M2103.9 974.4V1862.9M1451.9 1820.2H2380.6" class="grid" fill="none"/>
<g clip-path="url(#axd)"><path d="M1718,973 1725.9,980.9 1734.8,982.7 1737.4,988 1736.5,993.3 1733,997.7 1735.7,1002.1 1741,1005.7 1747.1,1011.8 1754.2,1019.8 1760.4,1026 1765.7,1031.3 1767.5,1037.5 1772.8,1039.2 1773.6,1045.4 1774.5,1053.4 1778.9,1058.7 1786,1060.4 1794.8,1060.4 1803.7,1061.7 1810.7,1064 1816.9,1068.4 1823.1,1071.9 1830.2,1073.7 1837.2,1073.7 1841.7,1076.3 1842.5,1081.6 1847.8,1083.4 1854,1085.2 1860.2,1088.7 1867.3,1093.1 1872.6,1096.6 1876.1,1101.9 1878.8,1109 1879.6,1115.2 1883.2,1119.6 1885.8,1126.7 1889.4,1133.7 1892.9,1139.9 1897.3,1144.3 1899.1,1149.6 1904.4,1155.8 1907.9,1162 1909.7,1168.2 1914.1,1173.5 1917.6,1179.7 1918.5,1185 1922.9,1189.4 1924.7,1196.5 1926.5,1203.5 1930.9,1208.8 1937.1,1210.1 1944.1,1214.8 1951.2,1218.4 1958.3,1223.1 1965.3,1229 1971.2,1234.9 1977.1,1241.9 1979.5,1249 1980.1,1256.1 1982.4,1263.1 1984.8,1270.2 1985.9,1274.9 1983,1278.4 1978.3,1277.3 1974.2,1272.5 1970,1267.8 1965.3,1266.1 1958.3,1266.1 1951.2,1265.2 1945.3,1263.7 1941.8,1259.6 1941.2,1253.7 1942.4,1249 1939.4,1254.9 1941.2,1261.9 1947.7,1267.8 1955.9,1271.4 1963,1274.9 1967.7,1279.6 1973.6,1285.5 1980.6,1289 1985.9,1294.8 1993,1299.5 2000,1298.9 2007.1,1297.1 2014.2,1302.4 2020,1307.7 2027.1,1313.6 2033,1317.7 2037.1,1324.2 2038.3,1332.4 2038.9,1341.9 2038.3,1350.1 2035.4,1354.8 2033,1358.4 2035.4,1363.1 2040.1,1367.8 2046,1371.3 2051.8,1374.9 2057.7,1377.2 2064.8,1379.6 2071.9,1384.3 2077.8,1389 2083.7,1393.1 2090.7,1396.6 2095.4,1401.9 2099,1407.8 2100.7,1413.7 2102.5,1418.4 2106.6,1420.2 2111.9,1417.3 2117.8,1412.5 2121.3,1406.7 2122.5,1400.8 2120.2,1396.1 2115.5,1391.3 2111.9,1385.5 2109.6,1379.6 2107.2,1374.9 2100.1,1373.7 2097.8,1379.6 2093.1,1381.9 2087.2,1379.6 2083.1,1374.9 2081.3,1369 2082.5,1363.1 2086.6,1359.5 2084.8,1353.7 2080.1,1347.8 2074.2,1341.9 2070.7,1336 2067.2,1330.1 2062.4,1325.4 2061.3,1319.5 2058.9,1313.6 2055.4,1307.7 2049.5,1304.2 2044.8,1299.5 2041.2,1293.6 2036.5,1286.5 2031.8,1280.6 2027.1,1274.7 2021.2,1270 2017.7,1263 2015.3,1255.9 2013.6,1250 2012.4,1247.8 2006.6,1244.3 2000.7,1238.4 1994.8,1232.5 1991.2,1223.1 1990.1,1217.2 1984.2,1213.7 1977.1,1208.9 1970,1205.4 1965.3,1200.7 1961.2,1193.6 1960,1184.2 1958.3,1174.8 1955.9,1165.4 1953.6,1157.1 1953,1147.7 1953,1138.3 1958.3,1140.6 1965.3,1145.3 1972.4,1150 1978.3,1148.9 1981.8,1145.3 1986.5,1147.7 1991.2,1152.4 1997.1,1156.5 2003,1158.3 2008.3,1160.6 2008.9,1167.7 2008.3,1174.8 2011.3,1180.7 2016,1185.4 2018.3,1192.4 2020.7,1199.5 2025.4,1205.4 2030.1,1212.5 2033.7,1218.4 2036,1225.4 2041.9,1231.3 2047.8,1234.9 2051.3,1240.7 2057.2,1245.5 2061.9,1250.2 2063.1,1256.1 2060.7,1261.9 2065.5,1263.1 2071.3,1261.9 2077.2,1260.8 2083.1,1261.9 2089,1264.3 2091.4,1269 2089,1274.9 2086.7,1280.8 2085.5,1285.5 2091.4,1286.7 2097.3,1287.9 2104.3,1286.7 2107.9,1291.4 2111.4,1297.3 2118.5,1298.5 2124.3,1300.8 2133.1,1312.4 2128.4,1316 2123.7,1320.7 2121.9,1326.6 2122.5,1333.6 2121.3,1340.7 2127.2,1339.5 2133.1,1333.6 2140.2,1333.6 2144.9,1338.3 2150.8,1341.9 2156.7,1341.9 2161.4,1346.6 2166.1,1351.3 2170.8,1356 2173.2,1360.7 2180,1365.4 2186,1374.7 2193.1,1381.8 2200.1,1389.8 2207.2,1397.7 2214.3,1405.7 2221.3,1411 2228.4,1417.1 2233.7,1424.2 2238.1,1431.3 2239,1440.1 2241.7,1448.9 2247.8,1456 2253.1,1463.1 2252.3,1473.7 2250.5,1482.5 2246.1,1489.6 2240.8,1494.9 2239.9,1501.9 2243.4,1509 2247.8,1516.1 2254.9,1522.3 2260.2,1528.4 2267.3,1533.7 2276.1,1537.3 2284.9,1541.7 2292,1546.1 2299.1,1551.4 2304.4,1558.5 2311.4,1562 2322,1565.5 2332.7,1569.1 2343.3,1571.7 2352.1,1573.5 2359.2,1577.9 2366.2,1585 2373.3,1590.3 2380.4,1593.8" fill="none" stroke="#000" stroke-width="8.3" stroke-linejoin="miter" stroke-miterlimit="3"/>
<path d="M1775.4,1071.9 1780.7,1070.1 1789.5,1071.9 1796.6,1069.8 1807.2,1070.1 1811.6,1072.8 1809,1077.2 1800.1,1078.1 1791.3,1081.6 1784.2,1078.1 1777.2,1076.3ZM1806.3,1093.5 1813.4,1096.6 1810.7,1102.3 1804.2,1100.2ZM1838.1,1087.8 1847.8,1093.1 1847,1099.3 1839,1097.5 1835.5,1092.2ZM1839.9,1102.8 1847,1109.9 1843.4,1115.7 1837.2,1111.7 1834.6,1106.4ZM1844.3,1220.3 1850.5,1223 1852.3,1230.9 1849.6,1237.1 1842.5,1235.3 1841.7,1227.4ZM1876.1,989.8 1880.5,985.3 1887.6,988 1894.7,994.2 1896.4,1003 1899.1,1011.8 1904.4,1016.3 1907,1021.6 1900,1024.2 1892.9,1018 1887.6,1008.3 1885.8,999.5 1878.8,995.1ZM1991.2,1210.1 1997.1,1210.1 2001.8,1214.8 2005.4,1220.7 2008.9,1227.8 2012.4,1233.7 2014.8,1239.6 2011.3,1240.7 2005.4,1238.4 2000.7,1233.7 1996,1227.8 1992.4,1221.9 1990.1,1216ZM2026,1216 2031.3,1220.7 2033.7,1227.8 2031.3,1236 2025.4,1240.7 2021.3,1238.4 2023.1,1230.1 2024.8,1221.9ZM2032.5,1245.5 2036.6,1249.6 2033.7,1253.7 2028.9,1250.8ZM2044.8,1274.9 2049,1277.3 2047.8,1282 2042.5,1279.6ZM2004.2,1280.8 2008.3,1284.3 2005.4,1288.4 2000.7,1284.9ZM2003,1292.6 2011.3,1292 2014.2,1298.5 2010.1,1301.4 2004.2,1298.5ZM1938.2,1247.2 1944.1,1246.6 1946.5,1252.5 1945.9,1259.6 1941.8,1263.1 1937.7,1258.4 1937.1,1252.5ZM1930,1249 1934.1,1250.8 1933.5,1254.9 1928.8,1253.7ZM2042.4,1275.3 2049.5,1277.1 2048.3,1282.4 2043,1281.2ZM2003.6,1281.2 2008.3,1284.2 2005.3,1288.9 2000.6,1285.3ZM2003.6,1291.8 2013,1293.6 2014.2,1300.6 2007.1,1301.8ZM2043.6,1294.8 2050.7,1297.1 2055.4,1303 2054.2,1307.7 2048.3,1306.5 2044.2,1300.6ZM2062.4,1318.3 2069.5,1317.1 2074.2,1323 2073.1,1331.3 2067.2,1332.4 2063,1326.6ZM2076.6,1331.3 2083.1,1332.4 2083.7,1338.3 2077.8,1337.8ZM2074.2,1344.2 2082.5,1345.4 2086,1352.5 2081.3,1356 2075.4,1351.3ZM2102.5,1372.5 2109.6,1371.3 2113.1,1378.4 2110.7,1384.3 2104.9,1381.9ZM2104.9,1311.2 2110.7,1313.6 2115.5,1317.1 2119,1320.7 2115.5,1323 2109.6,1320.7 2105.4,1317.1ZM2089.5,1364.3 2095.4,1364.8 2097.8,1370.1 2093.1,1374.9 2089,1371.3ZM2204.6,1453.4 2209.9,1451.6 2216,1457.8 2224.9,1467.5 2221.3,1473.3 2214.3,1470.1 2208.1,1463.1 2203.7,1457.8ZM2320.6,1588.5 2328.2,1588.5 2328.2,1595.9 2320.6,1595.9ZM2246.1,1436.6 2250.5,1435.7 2254.6,1441 2250.5,1446.3 2246.1,1443.6ZM2239,1484.3 2249.6,1483.4 2254.9,1489.6 2251.4,1496.6 2240.8,1496.6ZM2235.5,1420.7 2244.3,1422.4 2245.2,1433 2237.2,1433ZM1952.6,1558.2 1959.4,1556.3 1962.3,1563.5 1956,1565.9ZM2034.9,1538.3 2040.5,1536.7 2042.9,1542.6 2037.7,1544.6ZM2073.5,1528.9 2079.1,1527.3 2081.5,1533.3 2076.3,1535.3ZM2068.7,1543.5 2076.7,1541.2 2080.1,1549.7 2072.7,1552.6ZM2123.8,1809.4 2129.3,1807.8 2131.7,1813.7 2126.6,1815.7ZM1772.5,1693.8 1779.5,1692.8 1780,1699.8 1773,1700.8ZM1915.6,1356.1 1925.9,1350.2 1930.3,1356.1 1922.9,1363.4 1916.4,1361.9Z" fill="#000" stroke="#000" stroke-width="1.5" stroke-linejoin="miter"/></g>
<path d="M1719,973.3 1452.4,1120 2034.6,1863.3 2380,1593" fill="none" stroke="#000" stroke-width="7.2" stroke-linejoin="miter" stroke-miterlimit="10"/>
<rect x="1451.9" y="974.4" width="928.7" height="888.5" fill="none" stroke="#262626" stroke-width="4.17"/>
<path d="M1482.9 974.4v-11.4M1482.9 1862.9v11.4M1451.9 1199.2h-11.4M2380.6 1199.2h11.4M1793.4 974.4v-11.4M1793.4 1862.9v11.4M1451.9 1509.7h-11.4M2380.6 1509.7h11.4M2103.9 974.4v-11.4M2103.9 1862.9v11.4M1451.9 1820.2h-11.4M2380.6 1820.2h11.4" stroke="#262626" stroke-width="4.17" fill="none"/>
<text x="1483.5" y="1942.8" class="t48" style="font-size:48.8px" text-anchor="middle">130°W</text>
<text x="1794" y="1942.8" class="t48" style="font-size:48.8px" text-anchor="middle">120°W</text>
<text x="2104.5" y="1942.8" class="t48" style="font-size:48.8px" text-anchor="middle">110°W</text>
<text x="1421.3" y="1219.1" class="t48" text-anchor="end">30°N</text>
<text x="1421.3" y="1529.6" class="t48" text-anchor="end">20°N</text>
<text x="1421.3" y="1840.1" class="t48" text-anchor="end">10°N</text>
<text x="2189.5" y="1061.8" class="ttl" text-anchor="middle">GODAS</text>
<text x="2119.5" y="1148.5" class="ttl2">SST</text>
<text transform="translate(2269.1,1173) scale(0.556,1)" class="prime" font-size="130">′</text>
<text x="2120.9" y="1236.7" class="ttl2">(<tspan font-size="80" dy="2.8">°</tspan><tspan dy="-2.8">C)</tspan></text>
<text x="1489.4" y="1784" class="big">d<tspan dx="5">)</tspan></text>
<rect x="2413.3" y="974.40" width="44" height="14.38" fill="#800000"/>
<rect x="2413.3" y="988.28" width="44" height="14.38" fill="#8f0000"/>
<rect x="2413.3" y="1002.17" width="44" height="14.38" fill="#9f0000"/>
<rect x="2413.3" y="1016.05" width="44" height="14.38" fill="#af0000"/>
<rect x="2413.3" y="1029.93" width="44" height="14.38" fill="#bf0000"/>
<rect x="2413.3" y="1043.81" width="44" height="14.38" fill="#cf0000"/>
<rect x="2413.3" y="1057.70" width="44" height="14.38" fill="#df0000"/>
<rect x="2413.3" y="1071.58" width="44" height="14.38" fill="#ef0000"/>
<rect x="2413.3" y="1085.46" width="44" height="14.38" fill="#ff0000"/>
<rect x="2413.3" y="1099.35" width="44" height="14.38" fill="#ff1000"/>
<rect x="2413.3" y="1113.23" width="44" height="14.38" fill="#ff2000"/>
<rect x="2413.3" y="1127.11" width="44" height="14.38" fill="#ff3000"/>
<rect x="2413.3" y="1140.99" width="44" height="14.38" fill="#ff4000"/>
<rect x="2413.3" y="1154.88" width="44" height="14.38" fill="#ff5000"/>
<rect x="2413.3" y="1168.76" width="44" height="14.38" fill="#ff6000"/>
<rect x="2413.3" y="1182.64" width="44" height="14.38" fill="#ff7000"/>
<rect x="2413.3" y="1196.53" width="44" height="14.38" fill="#ff8000"/>
<rect x="2413.3" y="1210.41" width="44" height="14.38" fill="#ff8f00"/>
<rect x="2413.3" y="1224.29" width="44" height="14.38" fill="#ff9f00"/>
<rect x="2413.3" y="1238.17" width="44" height="14.38" fill="#ffaf00"/>
<rect x="2413.3" y="1252.06" width="44" height="14.38" fill="#ffbf00"/>
<rect x="2413.3" y="1265.94" width="44" height="14.38" fill="#ffcf00"/>
<rect x="2413.3" y="1279.82" width="44" height="14.38" fill="#ffdf00"/>
<rect x="2413.3" y="1293.70" width="44" height="14.38" fill="#ffef00"/>
<rect x="2413.3" y="1307.59" width="44" height="14.38" fill="#ffff00"/>
<rect x="2413.3" y="1321.47" width="44" height="14.38" fill="#efff10"/>
<rect x="2413.3" y="1335.35" width="44" height="14.38" fill="#dfff20"/>
<rect x="2413.3" y="1349.24" width="44" height="14.38" fill="#cfff30"/>
<rect x="2413.3" y="1363.12" width="44" height="14.38" fill="#bfff40"/>
<rect x="2413.3" y="1377.00" width="44" height="14.38" fill="#afff50"/>
<rect x="2413.3" y="1390.88" width="44" height="14.38" fill="#9fff60"/>
<rect x="2413.3" y="1404.77" width="44" height="14.38" fill="#8fff70"/>
<rect x="2413.3" y="1418.65" width="44" height="14.38" fill="#80ff80"/>
<rect x="2413.3" y="1432.53" width="44" height="14.38" fill="#70ff8f"/>
<rect x="2413.3" y="1446.42" width="44" height="14.38" fill="#60ff9f"/>
<rect x="2413.3" y="1460.30" width="44" height="14.38" fill="#50ffaf"/>
<rect x="2413.3" y="1474.18" width="44" height="14.38" fill="#40ffbf"/>
<rect x="2413.3" y="1488.06" width="44" height="14.38" fill="#30ffcf"/>
<rect x="2413.3" y="1501.95" width="44" height="14.38" fill="#20ffdf"/>
<rect x="2413.3" y="1515.83" width="44" height="14.38" fill="#10ffef"/>
<rect x="2413.3" y="1529.71" width="44" height="14.38" fill="#00ffff"/>
<rect x="2413.3" y="1543.60" width="44" height="14.38" fill="#00efff"/>
<rect x="2413.3" y="1557.48" width="44" height="14.38" fill="#00dfff"/>
<rect x="2413.3" y="1571.36" width="44" height="14.38" fill="#00cfff"/>
<rect x="2413.3" y="1585.24" width="44" height="14.38" fill="#00bfff"/>
<rect x="2413.3" y="1599.13" width="44" height="14.38" fill="#00afff"/>
<rect x="2413.3" y="1613.01" width="44" height="14.38" fill="#009fff"/>
<rect x="2413.3" y="1626.89" width="44" height="14.38" fill="#008fff"/>
<rect x="2413.3" y="1640.78" width="44" height="14.38" fill="#0080ff"/>
<rect x="2413.3" y="1654.66" width="44" height="14.38" fill="#0070ff"/>
<rect x="2413.3" y="1668.54" width="44" height="14.38" fill="#0060ff"/>
<rect x="2413.3" y="1682.42" width="44" height="14.38" fill="#0050ff"/>
<rect x="2413.3" y="1696.31" width="44" height="14.38" fill="#0040ff"/>
<rect x="2413.3" y="1710.19" width="44" height="14.38" fill="#0030ff"/>
<rect x="2413.3" y="1724.07" width="44" height="14.38" fill="#0020ff"/>
<rect x="2413.3" y="1737.95" width="44" height="14.38" fill="#0010ff"/>
<rect x="2413.3" y="1751.84" width="44" height="14.38" fill="#0000ff"/>
<rect x="2413.3" y="1765.72" width="44" height="14.38" fill="#0000ef"/>
<rect x="2413.3" y="1779.60" width="44" height="14.38" fill="#0000df"/>
<rect x="2413.3" y="1793.49" width="44" height="14.38" fill="#0000cf"/>
<rect x="2413.3" y="1807.37" width="44" height="14.38" fill="#0000bf"/>
<rect x="2413.3" y="1821.25" width="44" height="14.38" fill="#0000af"/>
<rect x="2413.3" y="1835.13" width="44" height="14.38" fill="#00009f"/>
<rect x="2413.3" y="1849.02" width="44" height="14.38" fill="#00008f"/>
<rect x="2413.3" y="974.4" width="44" height="888.5" fill="none" stroke="#262626" stroke-width="4.17"/>
<text x="2477.1" y="1156.1" class="t45">3</text>
<text x="2477.1" y="1337.4" class="t45">2</text>
<text x="2477.1" y="1518.6" class="t45">1</text>
<text x="2477.1" y="1699.9" class="t45">0</text>
<path d="M2457.3 1137.5h-11M2457.3 1318.8h-11M2457.3 1500h-11M2457.3 1681.3h-11" stroke="#262626" stroke-width="4.17" fill="none"/>
</g>
</svg></body></html>
